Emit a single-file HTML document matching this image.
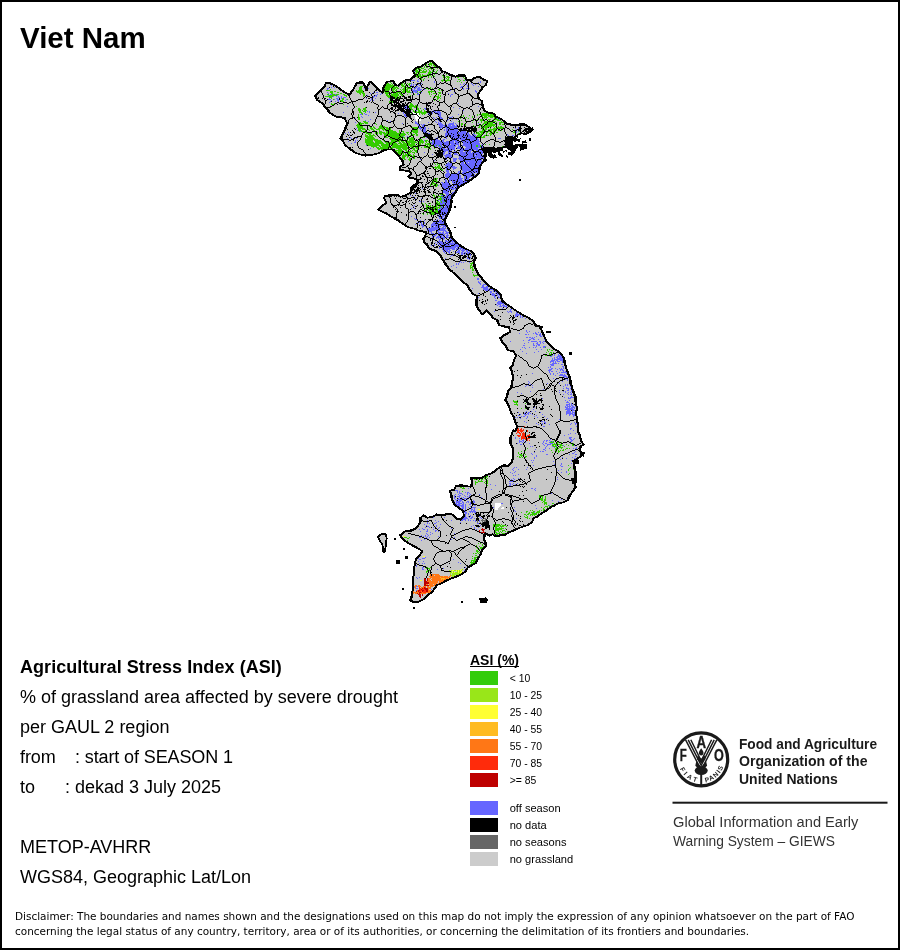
<!DOCTYPE html>
<html><head><meta charset="utf-8">
<style>
html,body{margin:0;padding:0;background:#fff;}
body{width:900px;height:950px;position:relative;overflow:hidden;font-family:"Liberation Sans",sans-serif;color:#000;}
#frame{position:absolute;left:0;top:0;width:896px;height:946px;border:2px solid #000;}
.t{position:absolute;white-space:pre;line-height:1;}
#title{left:20px;top:23.3px;font-size:30px;font-weight:bold;transform-origin:0 0;transform:scaleX(.983);}
.l{font-size:18px;left:20px;}
.sw{position:absolute;left:470px;width:28px;height:14px;}
.lb{position:absolute;left:509.7px;font-size:10.4px;line-height:1;white-space:pre;margin-top:0.2px}
.lb2{font-size:11.1px;margin-top:-0.6px}
.fa{font-size:14.4px;font-weight:bold;color:#1a1a1a;transform-origin:0 0;}
.gi{font-size:14px;color:#333;transform-origin:0 0;}
#disc{position:absolute;left:15px;top:909px;font-size:10.48px;line-height:14.5px;white-space:pre;font-family:"DejaVu Sans","Liberation Sans",sans-serif;}
</style></head><body>
<div id="frame"></div>
<svg id="map" width="900" height="950" viewBox="0 0 900 950" style="position:absolute;left:0;top:0" shape-rendering="crispEdges">
<path d="M315.8,95.8 320.8,90 325,85 326.7,82.5 330.8,83.3 335.8,85.8 340.8,89.2 345,92.5 349.2,94.2 353.3,89.2 357.5,82.5 362.5,82 364.2,85.8 366.7,90 368.3,84.2 370.8,81.7 374.2,85 378.3,89.2 382.5,92.5 384.2,85.8 387.5,81.7 392.5,80.8 395,84.2 398.3,85.8 401.7,82.5 405.8,80 410.8,79.2 415,75 413.3,70.8 416.7,67.5 422.5,65.8 426.7,62.5 431.7,60.3 435.8,64.2 439.2,67.5 441.7,70.8 446.7,72.5 451.7,75 455.8,76.7 459.2,75 464.2,75 466.7,79.2 470.8,80 475,77.5 479.2,76.7 483.3,79.2 486.7,80.8 485.8,85 482.5,87.5 480.8,90.8 477.5,94.2 478.3,98.3 481.7,100.8 482.5,106.7 484.2,110.8 488.3,112.5 493.3,113.3 495.8,116.7 500,118.3 503.3,120.8 506.7,123.3 510.8,124.2 515,125 520,124.2 525,124.2 528.3,126.7 532,129.7 529.2,132.5 525.8,134.2 521.7,133.3 517.5,135 515,136.7 510.8,140.8 505.8,146.7 500,148.3 495,150 490,150 485.8,150 484.2,156.7 485,160 481.7,163.3 479.2,167.5 478.3,173.3 475,176.7 470,180 465.8,183.3 461.7,185.8 457.5,188.3 455,192.5 452.5,196.7 450.8,200 451.7,200 450,205.8 449.2,210 446.7,215 444.2,220.8 445,224.2 448.3,228.3 450,233.3 451.7,237.5 455.8,241.7 460,245.8 465,248.3 470,250.8 473.3,253.3 475,258.3 473.3,261.7 474.2,266.7 476.7,271.7 479.2,275.8 483.3,280 487.5,284.2 491.7,287.5 496.7,290 500,294.2 501.7,300 505.8,303.3 511.7,307.5 517.5,311.7 523.3,315 528.3,317.5 532.5,320.8 535.8,325 539.2,326.7 541.7,330.8 543.3,335 545.8,340 549.2,344.2 553.3,348.3 557.5,350.8 560.8,353.3 563.3,357.5 564.2,362.5 565.8,367.5 567.5,372.5 569.2,377.5 570,382.5 571.7,387.5 573.3,392.5 575,397.5 575.8,402.5 576.7,408.3 575.8,413.3 576.7,418.3 577.5,424.2 577.5,430 579.2,435 580.8,440 583.3,444.2 580,446.7 579.2,450.8 583.3,453.3 580,456.7 575,460 573.3,463.3 574.2,468.3 575,473.3 575,478.3 574.2,483.3 575,487.5 572.5,491.7 569.2,495 567.5,500 563.3,502.5 558.3,503.3 554.2,505.8 550,507.5 546.7,510.8 541.7,513.3 537.5,516.7 533.3,518.3 531.7,522.5 527.5,525 523.3,526.7 518.3,528.3 513.3,530.8 508.3,532.5 504.2,535 499.2,535.8 495,536.7 492.5,534.2 489.2,535.8 485,533.3 483.3,538.3 485,543.3 485.8,546.7 481.7,550 480.8,554.2 477.5,558.3 475,563.3 471.7,565.8 467.5,567.5 465,571.7 461.7,574.2 456.7,576.7 451.7,578.3 446.7,580.8 441.7,583.3 436.7,585 434.2,588.3 431.7,592.5 427.5,595.8 423.3,599.2 419.2,601.7 414.2,602.5 410,600.8 411.7,597.5 412.5,593.3 413,588.3 413.3,583.3 413.3,578.3 414.2,573.3 414.2,568.3 415,563.3 416.7,558.3 419.2,555 422.5,551.7 419.2,549.2 414.2,546.7 410,544.2 405.8,541.7 402.5,538.3 400,535 403.3,532.5 406.7,530.8 411.7,530 415.8,528.3 418.3,525.8 420.8,521.7 420.8,517.5 423.3,515 427.5,517.5 432.5,516.7 436.7,514.2 441.7,515 445.8,514.2 450,513.3 453.3,515 456.7,518.3 460.8,519.2 464.2,515.8 463.3,511.7 459.2,508.3 455,505 452.5,500.8 451.7,495 450,490.8 454.2,489.2 456.7,485.8 460.8,485 465,485.8 470,486.7 472.5,483.3 471.7,477.5 476.7,478.3 482.5,477.5 485.8,475 490.8,473.3 495.8,470 500,466.7 504.2,465 508.3,465.8 512.5,461.7 513.3,455 513.3,448.3 510.8,443.3 510.8,438.3 513.3,430 515.8,430.8 517.5,426.7 515.8,422.5 514.2,417.5 511.7,413.3 510,409.2 508.3,404.2 505.8,400 507.5,395.8 508.3,390.8 511.7,387.5 512.5,382.5 513.3,377.5 512.5,372.5 510.8,367.5 513.3,364.2 514.2,359.2 516.7,355.8 513.3,351.7 508.3,350 505.8,345.8 502.5,342.5 500.8,337.5 505,334.2 510,331.7 509.2,327.5 504.2,326.7 499.2,325 497.5,320 493.3,318.3 490.8,314.2 486.7,310.8 482.5,314.2 479.2,310 476.7,305 476.7,300 477.5,296.7 473.3,294.2 470,290 467.5,285 463.3,282.5 459.2,278.3 455,274.2 450,270 446.7,265 443.3,260 440,255 436.7,251.7 429.4,248.9 427.2,245.6 424.4,242.2 423.9,238.9 425.6,236.1 426.1,232.8 422.8,231.7 417.2,230 412.8,228.3 408.3,227.2 403.9,224.4 399.4,221.7 395,218.9 390.6,216.1 386.1,213.3 381.7,211.7 378.9,209.4 382.8,205.6 386.1,202.2 384.4,198.9 385,195.6 391.7,195 397.2,194.4 400.6,196.7 405,195.6 408.3,193.9 411.7,191.1 411.7,187.2 413.9,185 417.8,183.3 417.8,180.6 413.9,178.3 409.4,177.8 408.3,176.1 411.7,173.9 409.4,171.1 403.9,170.6 400,170 400,166.7 403.9,164.4 402.8,160 397.2,154.4 393.9,150 388.3,149.2 383.3,150.8 378.3,153.3 371.7,155 365,155.8 359.2,154.2 354.2,152.5 350,149.2 345.8,145.8 343.3,141.7 340,138.3 343.3,133.3 345.8,128.3 347.5,123.3 345,118.3 341.7,117.5 335.8,116.7 330.8,113.3 326.7,108.3 322.5,103.3 317.5,100Z" fill="#c8c8c8" stroke="none"/>
<path d="M414 71h1v1h-1zM418 79h1v1h-1zM411 80h4v1h-4zM417 80h1v1h-1zM465 80h1v1h-1zM417 81h2v1h-2zM434 81h1v1h-1zM480 81h1v1h-1zM434 82h1v1h-1zM478 82h1v1h-1zM480 82h1v1h-1zM411 83h1v1h-1zM421 83h1v1h-1zM464 83h1v1h-1zM471 83h1v1h-1zM411 84h1v1h-1zM413 84h1v1h-1zM415 84h1v1h-1zM418 84h1v1h-1zM460 84h1v1h-1zM463 84h1v1h-1zM466 84h1v1h-1zM472 84h1v1h-1zM475 84h1v1h-1zM331 85h1v1h-1zM333 85h1v1h-1zM335 85h1v1h-1zM410 85h2v1h-2zM413 85h1v1h-1zM419 85h2v1h-2zM467 85h1v1h-1zM473 85h1v1h-1zM416 86h2v1h-2zM461 86h2v1h-2zM467 86h1v1h-1zM478 86h1v1h-1zM331 87h1v1h-1zM334 87h1v1h-1zM413 87h1v1h-1zM415 87h2v1h-2zM418 87h2v1h-2zM421 87h1v1h-1zM460 87h2v1h-2zM327 88h2v1h-2zM364 88h1v1h-1zM368 88h1v1h-1zM414 88h2v1h-2zM417 88h3v1h-3zM454 88h1v1h-1zM463 88h1v1h-1zM466 88h2v1h-2zM469 88h1v1h-1zM327 89h1v1h-1zM412 89h1v1h-1zM414 89h1v1h-1zM417 89h5v1h-5zM424 89h1v1h-1zM463 89h1v1h-1zM412 90h9v1h-9zM450 90h1v1h-1zM475 90h1v1h-1zM413 91h4v1h-4zM475 91h2v1h-2zM319 92h1v1h-1zM327 92h1v1h-1zM373 92h1v1h-1zM376 92h2v1h-2zM411 92h1v1h-1zM413 92h1v1h-1zM415 92h3v1h-3zM421 92h1v1h-1zM454 92h1v1h-1zM476 92h1v1h-1zM328 93h1v1h-1zM345 93h1v1h-1zM370 93h1v1h-1zM381 93h1v1h-1zM418 93h1v1h-1zM448 93h1v1h-1zM330 94h2v1h-2zM335 94h1v1h-1zM377 94h1v1h-1zM380 94h1v1h-1zM417 94h2v1h-2zM451 94h2v1h-2zM328 95h1v1h-1zM337 95h1v1h-1zM367 95h1v1h-1zM375 95h2v1h-2zM450 95h1v1h-1zM333 96h1v1h-1zM336 96h1v1h-1zM338 96h1v1h-1zM341 96h1v1h-1zM373 96h2v1h-2zM376 96h1v1h-1zM450 96h1v1h-1zM338 97h2v1h-2zM341 97h1v1h-1zM343 97h3v1h-3zM373 97h1v1h-1zM329 98h1v1h-1zM336 98h2v1h-2zM341 98h1v1h-1zM366 98h1v1h-1zM371 98h1v1h-1zM375 98h1v1h-1zM389 98h1v1h-1zM328 99h3v1h-3zM334 99h1v1h-1zM337 99h2v1h-2zM346 99h1v1h-1zM371 99h1v1h-1zM331 100h1v1h-1zM337 100h2v1h-2zM345 100h1v1h-1zM370 100h1v1h-1zM373 100h1v1h-1zM330 101h1v1h-1zM335 101h1v1h-1zM338 101h1v1h-1zM329 102h1v1h-1zM458 103h1v1h-1zM347 106h1v1h-1zM405 106h2v1h-2zM478 106h1v1h-1zM404 107h1v1h-1zM406 107h1v1h-1zM453 107h1v1h-1zM405 108h2v1h-2zM408 108h1v1h-1zM424 108h2v1h-2zM459 108h1v1h-1zM425 109h1v1h-1zM416 110h1v1h-1zM433 110h1v1h-1zM463 110h1v1h-1zM367 111h1v1h-1zM369 111h1v1h-1zM431 111h1v1h-1zM434 111h2v1h-2zM437 111h3v1h-3zM343 112h1v1h-1zM369 112h1v1h-1zM375 112h1v1h-1zM403 112h1v1h-1zM432 112h1v1h-1zM435 112h6v1h-6zM364 113h1v1h-1zM398 113h1v1h-1zM403 113h1v1h-1zM428 113h1v1h-1zM432 113h1v1h-1zM438 113h3v1h-3zM360 114h2v1h-2zM365 114h2v1h-2zM404 114h2v1h-2zM429 114h1v1h-1zM437 114h1v1h-1zM439 114h2v1h-2zM458 114h1v1h-1zM368 115h1v1h-1zM404 115h2v1h-2zM438 115h3v1h-3zM361 116h1v1h-1zM405 116h2v1h-2zM439 116h2v1h-2zM452 116h1v1h-1zM362 117h1v1h-1zM433 117h1v1h-1zM436 117h1v1h-1zM440 117h2v1h-2zM449 117h3v1h-3zM355 118h1v1h-1zM434 118h1v1h-1zM440 118h3v1h-3zM497 118h1v1h-1zM370 119h1v1h-1zM437 119h1v1h-1zM448 119h1v1h-1zM452 119h1v1h-1zM456 119h1v1h-1zM499 119h1v1h-1zM365 120h1v1h-1zM387 120h1v1h-1zM438 120h1v1h-1zM447 120h1v1h-1zM368 121h1v1h-1zM390 121h1v1h-1zM415 121h1v1h-1zM435 121h1v1h-1zM439 121h1v1h-1zM451 121h1v1h-1zM355 122h1v1h-1zM415 122h2v1h-2zM428 122h1v1h-1zM436 122h1v1h-1zM438 122h1v1h-1zM440 122h1v1h-1zM453 122h1v1h-1zM402 123h1v1h-1zM415 123h3v1h-3zM438 123h4v1h-4zM449 123h5v1h-5zM455 123h1v1h-1zM478 123h1v1h-1zM417 124h2v1h-2zM421 124h1v1h-1zM423 124h2v1h-2zM438 124h5v1h-5zM446 124h1v1h-1zM448 124h6v1h-6zM456 124h1v1h-1zM418 125h1v1h-1zM422 125h2v1h-2zM439 125h6v1h-6zM448 125h3v1h-3zM452 125h3v1h-3zM456 125h1v1h-1zM419 126h1v1h-1zM422 126h2v1h-2zM439 126h4v1h-4zM444 126h1v1h-1zM447 126h10v1h-10zM419 127h2v1h-2zM424 127h2v1h-2zM440 127h3v1h-3zM445 127h2v1h-2zM449 127h8v1h-8zM518 127h1v1h-1zM356 128h1v1h-1zM419 128h4v1h-4zM424 128h2v1h-2zM428 128h1v1h-1zM440 128h1v1h-1zM446 128h3v1h-3zM450 128h4v1h-4zM515 128h1v1h-1zM518 128h1v1h-1zM420 129h1v1h-1zM423 129h3v1h-3zM444 129h1v1h-1zM446 129h2v1h-2zM449 129h1v1h-1zM454 129h4v1h-4zM462 129h1v1h-1zM516 129h1v1h-1zM357 130h1v1h-1zM421 130h1v1h-1zM423 130h3v1h-3zM444 130h1v1h-1zM446 130h2v1h-2zM449 130h9v1h-9zM360 131h1v1h-1zM423 131h3v1h-3zM446 131h1v1h-1zM448 131h10v1h-10zM461 131h5v1h-5zM516 131h1v1h-1zM518 131h1v1h-1zM348 132h1v1h-1zM424 132h1v1h-1zM426 132h1v1h-1zM446 132h1v1h-1zM448 132h9v1h-9zM458 132h9v1h-9zM468 132h1v1h-1zM516 132h1v1h-1zM345 133h1v1h-1zM428 133h2v1h-2zM445 133h3v1h-3zM449 133h2v1h-2zM452 133h5v1h-5zM458 133h8v1h-8zM467 133h2v1h-2zM473 133h1v1h-1zM349 134h1v1h-1zM445 134h3v1h-3zM449 134h4v1h-4zM454 134h4v1h-4zM459 134h4v1h-4zM464 134h2v1h-2zM467 134h3v1h-3zM473 134h2v1h-2zM507 134h1v1h-1zM445 135h2v1h-2zM448 135h1v1h-1zM451 135h6v1h-6zM460 135h3v1h-3zM464 135h1v1h-1zM466 135h1v1h-1zM468 135h3v1h-3zM472 135h1v1h-1zM474 135h2v1h-2zM508 135h1v1h-1zM512 135h2v1h-2zM403 136h1v1h-1zM407 136h1v1h-1zM445 136h1v1h-1zM451 136h2v1h-2zM454 136h4v1h-4zM459 136h3v1h-3zM463 136h4v1h-4zM468 136h6v1h-6zM475 136h1v1h-1zM350 137h1v1h-1zM426 137h1v1h-1zM437 137h1v1h-1zM446 137h1v1h-1zM451 137h1v1h-1zM453 137h5v1h-5zM459 137h4v1h-4zM465 137h1v1h-1zM467 137h8v1h-8zM347 138h1v1h-1zM351 138h1v1h-1zM356 138h1v1h-1zM435 138h1v1h-1zM446 138h1v1h-1zM453 138h1v1h-1zM455 138h1v1h-1zM458 138h2v1h-2zM461 138h5v1h-5zM467 138h9v1h-9zM477 138h1v1h-1zM498 138h3v1h-3zM436 139h2v1h-2zM443 139h2v1h-2zM451 139h1v1h-1zM457 139h2v1h-2zM460 139h5v1h-5zM470 139h6v1h-6zM477 139h2v1h-2zM355 140h1v1h-1zM357 140h1v1h-1zM424 140h1v1h-1zM432 140h2v1h-2zM435 140h5v1h-5zM442 140h2v1h-2zM452 140h5v1h-5zM461 140h1v1h-1zM465 140h4v1h-4zM470 140h4v1h-4zM476 140h3v1h-3zM348 141h1v1h-1zM355 141h1v1h-1zM432 141h2v1h-2zM435 141h6v1h-6zM442 141h2v1h-2zM446 141h3v1h-3zM450 141h4v1h-4zM455 141h4v1h-4zM462 141h3v1h-3zM466 141h4v1h-4zM471 141h1v1h-1zM474 141h6v1h-6zM354 142h2v1h-2zM430 142h1v1h-1zM432 142h2v1h-2zM435 142h7v1h-7zM443 142h6v1h-6zM450 142h4v1h-4zM455 142h3v1h-3zM459 142h1v1h-1zM463 142h4v1h-4zM468 142h2v1h-2zM472 142h7v1h-7zM351 143h1v1h-1zM431 143h3v1h-3zM435 143h8v1h-8zM444 143h5v1h-5zM450 143h5v1h-5zM456 143h3v1h-3zM463 143h7v1h-7zM471 143h9v1h-9zM432 144h1v1h-1zM434 144h8v1h-8zM444 144h5v1h-5zM451 144h8v1h-8zM463 144h8v1h-8zM472 144h8v1h-8zM482 144h1v1h-1zM366 145h1v1h-1zM434 145h2v1h-2zM437 145h2v1h-2zM440 145h2v1h-2zM446 145h2v1h-2zM449 145h5v1h-5zM455 145h1v1h-1zM458 145h1v1h-1zM462 145h9v1h-9zM472 145h4v1h-4zM478 145h2v1h-2zM481 145h1v1h-1zM435 146h2v1h-2zM438 146h2v1h-2zM441 146h2v1h-2zM445 146h1v1h-1zM448 146h8v1h-8zM458 146h2v1h-2zM465 146h6v1h-6zM472 146h4v1h-4zM478 146h2v1h-2zM482 146h1v1h-1zM504 146h1v1h-1zM439 147h3v1h-3zM446 147h1v1h-1zM448 147h7v1h-7zM457 147h4v1h-4zM466 147h5v1h-5zM472 147h9v1h-9zM482 147h1v1h-1zM370 148h1v1h-1zM440 148h1v1h-1zM442 148h3v1h-3zM447 148h1v1h-1zM449 148h6v1h-6zM457 148h4v1h-4zM462 148h1v1h-1zM465 148h6v1h-6zM472 148h6v1h-6zM440 149h1v1h-1zM443 149h5v1h-5zM449 149h2v1h-2zM452 149h3v1h-3zM461 149h2v1h-2zM464 149h5v1h-5zM471 149h1v1h-1zM473 149h6v1h-6zM443 150h6v1h-6zM450 150h2v1h-2zM460 150h4v1h-4zM469 150h3v1h-3zM476 150h2v1h-2zM479 150h3v1h-3zM444 151h2v1h-2zM448 151h1v1h-1zM454 151h2v1h-2zM459 151h4v1h-4zM465 151h2v1h-2zM468 151h3v1h-3zM479 151h4v1h-4zM424 152h1v1h-1zM443 152h2v1h-2zM448 152h4v1h-4zM460 152h6v1h-6zM467 152h4v1h-4zM472 152h2v1h-2zM476 152h3v1h-3zM481 152h2v1h-2zM443 153h2v1h-2zM448 153h1v1h-1zM450 153h1v1h-1zM454 153h3v1h-3zM460 153h6v1h-6zM467 153h6v1h-6zM474 153h6v1h-6zM481 153h2v1h-2zM432 154h1v1h-1zM443 154h1v1h-1zM446 154h5v1h-5zM454 154h4v1h-4zM460 154h7v1h-7zM468 154h5v1h-5zM474 154h2v1h-2zM477 154h4v1h-4zM444 155h8v1h-8zM458 155h1v1h-1zM461 155h5v1h-5zM467 155h6v1h-6zM474 155h1v1h-1zM476 155h5v1h-5zM482 155h1v1h-1zM445 156h7v1h-7zM459 156h2v1h-2zM463 156h1v1h-1zM466 156h7v1h-7zM474 156h8v1h-8zM445 157h2v1h-2zM449 157h2v1h-2zM452 157h1v1h-1zM459 157h4v1h-4zM464 157h10v1h-10zM475 157h9v1h-9zM453 158h4v1h-4zM458 158h5v1h-5zM464 158h1v1h-1zM466 158h5v1h-5zM475 158h2v1h-2zM478 158h3v1h-3zM483 158h1v1h-1zM420 159h1v1h-1zM446 159h1v1h-1zM453 159h4v1h-4zM459 159h5v1h-5zM471 159h4v1h-4zM476 159h1v1h-1zM481 159h1v1h-1zM434 160h1v1h-1zM453 160h3v1h-3zM460 160h3v1h-3zM465 160h10v1h-10zM476 160h1v1h-1zM478 160h4v1h-4zM451 161h1v1h-1zM453 161h3v1h-3zM463 161h1v1h-1zM465 161h11v1h-11zM477 161h6v1h-6zM448 162h1v1h-1zM461 162h3v1h-3zM466 162h2v1h-2zM469 162h7v1h-7zM477 162h5v1h-5zM447 163h5v1h-5zM461 163h3v1h-3zM466 163h9v1h-9zM476 163h5v1h-5zM446 164h6v1h-6zM460 164h6v1h-6zM467 164h8v1h-8zM476 164h5v1h-5zM445 165h7v1h-7zM461 165h6v1h-6zM468 165h7v1h-7zM477 165h4v1h-4zM446 166h1v1h-1zM448 166h3v1h-3zM452 166h3v1h-3zM460 166h1v1h-1zM462 166h6v1h-6zM469 166h5v1h-5zM475 166h5v1h-5zM447 167h3v1h-3zM451 167h6v1h-6zM460 167h1v1h-1zM462 167h7v1h-7zM470 167h4v1h-4zM475 167h5v1h-5zM446 168h1v1h-1zM448 168h2v1h-2zM453 168h3v1h-3zM460 168h1v1h-1zM462 168h8v1h-8zM471 168h2v1h-2zM446 169h1v1h-1zM453 169h1v1h-1zM462 169h9v1h-9zM474 169h6v1h-6zM446 170h3v1h-3zM462 170h9v1h-9zM473 170h6v1h-6zM446 171h3v1h-3zM458 171h2v1h-2zM463 171h4v1h-4zM468 171h1v1h-1zM471 171h2v1h-2zM474 171h2v1h-2zM477 171h2v1h-2zM447 172h2v1h-2zM458 172h2v1h-2zM462 172h4v1h-4zM469 172h2v1h-2zM472 172h2v1h-2zM475 172h4v1h-4zM446 173h4v1h-4zM457 173h2v1h-2zM462 173h2v1h-2zM466 173h6v1h-6zM473 173h1v1h-1zM445 174h5v1h-5zM451 174h6v1h-6zM459 174h1v1h-1zM464 174h8v1h-8zM474 174h1v1h-1zM445 175h5v1h-5zM451 175h7v1h-7zM459 175h2v1h-2zM466 175h5v1h-5zM474 175h1v1h-1zM445 176h4v1h-4zM450 176h8v1h-8zM459 176h2v1h-2zM464 176h2v1h-2zM467 176h6v1h-6zM446 177h2v1h-2zM449 177h9v1h-9zM459 177h2v1h-2zM464 177h2v1h-2zM467 177h3v1h-3zM449 178h9v1h-9zM459 178h4v1h-4zM464 178h2v1h-2zM467 178h2v1h-2zM445 179h1v1h-1zM449 179h8v1h-8zM458 179h4v1h-4zM464 179h1v1h-1zM466 179h3v1h-3zM445 180h2v1h-2zM449 180h2v1h-2zM452 180h1v1h-1zM455 180h2v1h-2zM458 180h5v1h-5zM464 180h1v1h-1zM468 180h1v1h-1zM445 181h2v1h-2zM449 181h1v1h-1zM452 181h4v1h-4zM458 181h5v1h-5zM464 181h4v1h-4zM441 182h2v1h-2zM445 182h3v1h-3zM452 182h2v1h-2zM455 182h1v1h-1zM457 182h2v1h-2zM460 182h5v1h-5zM442 183h7v1h-7zM453 183h3v1h-3zM457 183h1v1h-1zM459 183h6v1h-6zM442 184h7v1h-7zM450 184h1v1h-1zM458 184h6v1h-6zM438 185h1v1h-1zM442 185h8v1h-8zM454 185h3v1h-3zM459 185h3v1h-3zM442 186h6v1h-6zM451 186h4v1h-4zM456 186h1v1h-1zM460 186h1v1h-1zM443 187h5v1h-5zM449 187h3v1h-3zM453 187h1v1h-1zM456 187h2v1h-2zM422 188h1v1h-1zM444 188h2v1h-2zM448 188h1v1h-1zM450 188h8v1h-8zM446 189h3v1h-3zM452 189h2v1h-2zM455 189h2v1h-2zM443 190h3v1h-3zM447 190h3v1h-3zM456 190h1v1h-1zM443 191h5v1h-5zM454 191h2v1h-2zM443 192h6v1h-6zM452 192h4v1h-4zM415 193h1v1h-1zM445 193h4v1h-4zM452 193h3v1h-3zM446 194h3v1h-3zM451 194h1v1h-1zM453 194h1v1h-1zM410 195h1v1h-1zM441 195h2v1h-2zM446 195h2v1h-2zM449 195h2v1h-2zM413 196h1v1h-1zM444 196h3v1h-3zM448 196h3v1h-3zM452 196h1v1h-1zM441 197h3v1h-3zM446 197h1v1h-1zM448 197h4v1h-4zM415 198h1v1h-1zM421 198h1v1h-1zM442 198h1v1h-1zM444 198h2v1h-2zM447 198h5v1h-5zM442 199h2v1h-2zM445 199h1v1h-1zM447 199h1v1h-1zM449 199h2v1h-2zM438 200h1v1h-1zM441 200h3v1h-3zM447 200h5v1h-5zM419 201h2v1h-2zM423 201h1v1h-1zM440 201h1v1h-1zM442 201h2v1h-2zM447 201h5v1h-5zM440 202h1v1h-1zM442 202h4v1h-4zM447 202h4v1h-4zM440 203h5v1h-5zM446 203h4v1h-4zM440 204h3v1h-3zM444 204h1v1h-1zM446 204h5v1h-5zM414 205h1v1h-1zM445 205h1v1h-1zM447 205h4v1h-4zM413 206h1v1h-1zM441 206h2v1h-2zM445 206h2v1h-2zM448 206h3v1h-3zM440 207h1v1h-1zM442 207h1v1h-1zM444 207h3v1h-3zM448 207h3v1h-3zM411 208h1v1h-1zM414 208h1v1h-1zM440 208h2v1h-2zM443 208h5v1h-5zM449 208h1v1h-1zM438 209h3v1h-3zM442 209h6v1h-6zM438 210h1v1h-1zM441 210h9v1h-9zM441 211h7v1h-7zM441 212h1v1h-1zM443 212h1v1h-1zM445 212h2v1h-2zM440 213h2v1h-2zM443 213h1v1h-1zM446 213h2v1h-2zM437 214h1v1h-1zM441 214h1v1h-1zM444 214h4v1h-4zM439 215h1v1h-1zM442 215h3v1h-3zM411 216h1v1h-1zM438 216h1v1h-1zM442 216h2v1h-2zM445 216h2v1h-2zM439 217h2v1h-2zM442 217h1v1h-1zM444 217h1v1h-1zM414 218h1v1h-1zM439 218h2v1h-2zM442 218h2v1h-2zM415 219h2v1h-2zM437 219h1v1h-1zM420 220h1v1h-1zM424 220h1v1h-1zM434 220h1v1h-1zM436 220h1v1h-1zM439 220h3v1h-3zM444 220h1v1h-1zM439 221h3v1h-3zM443 221h2v1h-2zM417 222h1v1h-1zM419 222h1v1h-1zM421 222h1v1h-1zM424 222h1v1h-1zM433 222h3v1h-3zM437 222h8v1h-8zM421 223h1v1h-1zM424 223h1v1h-1zM432 223h3v1h-3zM438 223h1v1h-1zM440 223h4v1h-4zM415 224h1v1h-1zM419 224h1v1h-1zM421 224h2v1h-2zM431 224h7v1h-7zM421 225h3v1h-3zM431 225h5v1h-5zM437 225h1v1h-1zM439 225h1v1h-1zM441 225h4v1h-4zM446 225h1v1h-1zM422 226h2v1h-2zM425 226h1v1h-1zM431 226h1v1h-1zM433 226h1v1h-1zM435 226h3v1h-3zM439 226h2v1h-2zM443 226h4v1h-4zM422 227h1v1h-1zM431 227h7v1h-7zM439 227h1v1h-1zM442 227h2v1h-2zM445 227h1v1h-1zM447 227h1v1h-1zM426 228h1v1h-1zM428 228h11v1h-11zM440 228h6v1h-6zM428 229h10v1h-10zM440 229h5v1h-5zM447 229h2v1h-2zM427 230h1v1h-1zM429 230h6v1h-6zM438 230h8v1h-8zM425 231h1v1h-1zM429 231h3v1h-3zM437 231h2v1h-2zM443 231h1v1h-1zM445 231h2v1h-2zM449 231h1v1h-1zM431 232h1v1h-1zM438 232h3v1h-3zM442 232h2v1h-2zM446 232h4v1h-4zM429 233h1v1h-1zM431 233h3v1h-3zM438 233h6v1h-6zM445 233h3v1h-3zM449 233h1v1h-1zM426 234h1v1h-1zM435 234h2v1h-2zM443 234h2v1h-2zM447 234h1v1h-1zM433 235h3v1h-3zM438 235h1v1h-1zM440 235h3v1h-3zM444 235h1v1h-1zM446 235h3v1h-3zM450 235h1v1h-1zM432 236h1v1h-1zM434 236h1v1h-1zM437 236h3v1h-3zM441 236h1v1h-1zM443 236h1v1h-1zM446 236h2v1h-2zM432 237h1v1h-1zM436 237h4v1h-4zM441 237h4v1h-4zM446 237h3v1h-3zM451 237h1v1h-1zM436 238h1v1h-1zM438 238h1v1h-1zM440 238h1v1h-1zM443 238h2v1h-2zM450 238h3v1h-3zM439 239h2v1h-2zM443 239h1v1h-1zM450 239h2v1h-2zM439 240h1v1h-1zM445 240h2v1h-2zM449 240h1v1h-1zM452 240h3v1h-3zM438 241h4v1h-4zM445 241h4v1h-4zM451 241h5v1h-5zM435 242h1v1h-1zM437 242h1v1h-1zM439 242h4v1h-4zM444 242h1v1h-1zM447 242h1v1h-1zM450 242h1v1h-1zM452 242h1v1h-1zM454 242h1v1h-1zM456 242h1v1h-1zM437 243h1v1h-1zM440 243h3v1h-3zM444 243h2v1h-2zM448 243h7v1h-7zM457 243h1v1h-1zM434 244h1v1h-1zM438 244h2v1h-2zM441 244h3v1h-3zM446 244h2v1h-2zM449 244h5v1h-5zM455 244h5v1h-5zM427 245h1v1h-1zM431 245h1v1h-1zM434 245h1v1h-1zM440 245h1v1h-1zM445 245h5v1h-5zM454 245h6v1h-6zM440 246h2v1h-2zM444 246h1v1h-1zM451 246h8v1h-8zM461 246h1v1h-1zM439 247h1v1h-1zM442 247h1v1h-1zM444 247h12v1h-12zM457 247h1v1h-1zM460 247h1v1h-1zM439 248h1v1h-1zM442 248h1v1h-1zM444 248h11v1h-11zM456 248h2v1h-2zM459 248h7v1h-7zM442 249h1v1h-1zM444 249h6v1h-6zM452 249h3v1h-3zM456 249h1v1h-1zM458 249h1v1h-1zM460 249h1v1h-1zM462 249h4v1h-4zM443 250h1v1h-1zM445 250h3v1h-3zM449 250h2v1h-2zM458 250h2v1h-2zM461 250h4v1h-4zM466 250h2v1h-2zM443 251h2v1h-2zM446 251h4v1h-4zM453 251h1v1h-1zM457 251h3v1h-3zM462 251h2v1h-2zM466 251h2v1h-2zM469 251h1v1h-1zM444 252h1v1h-1zM448 252h2v1h-2zM456 252h4v1h-4zM461 252h2v1h-2zM464 252h2v1h-2zM467 252h3v1h-3zM445 253h1v1h-1zM449 253h1v1h-1zM459 253h1v1h-1zM461 253h3v1h-3zM465 253h1v1h-1zM467 253h2v1h-2zM453 254h1v1h-1zM461 254h2v1h-2zM464 254h1v1h-1zM470 254h1v1h-1zM451 255h2v1h-2zM467 255h1v1h-1zM470 255h1v1h-1zM450 256h1v1h-1zM467 257h1v1h-1zM470 257h1v1h-1zM445 258h1v1h-1zM467 258h2v1h-2zM469 259h1v1h-1zM460 261h1v1h-1zM465 261h1v1h-1zM459 262h1v1h-1zM461 262h1v1h-1zM463 262h1v1h-1zM469 262h1v1h-1zM456 263h1v1h-1zM458 263h1v1h-1zM456 264h1v1h-1zM458 264h1v1h-1zM453 265h1v1h-1zM451 266h1v1h-1zM456 267h1v1h-1zM463 269h1v1h-1zM477 278h2v1h-2zM477 279h2v1h-2zM478 281h1v1h-1zM480 281h1v1h-1zM478 282h2v1h-2zM479 283h2v1h-2zM480 284h1v1h-1zM483 284h3v1h-3zM487 284h1v1h-1zM482 285h2v1h-2zM488 285h1v1h-1zM482 286h2v1h-2zM486 286h5v1h-5zM481 287h7v1h-7zM490 287h1v1h-1zM472 288h1v1h-1zM483 288h5v1h-5zM489 288h1v1h-1zM491 288h1v1h-1zM493 288h1v1h-1zM483 289h6v1h-6zM490 289h3v1h-3zM485 290h3v1h-3zM489 290h1v1h-1zM493 290h1v1h-1zM495 290h1v1h-1zM490 291h2v1h-2zM493 291h1v1h-1zM495 291h2v1h-2zM490 292h2v1h-2zM496 292h1v1h-1zM478 293h1v1h-1zM490 293h1v1h-1zM492 293h2v1h-2zM495 293h1v1h-1zM497 293h1v1h-1zM491 294h4v1h-4zM497 294h3v1h-3zM492 295h3v1h-3zM497 295h1v1h-1zM499 295h1v1h-1zM494 296h2v1h-2zM498 296h1v1h-1zM478 297h1v1h-1zM494 297h1v1h-1zM498 297h2v1h-2zM495 298h1v1h-1zM495 300h2v1h-2zM498 301h3v1h-3zM497 302h7v1h-7zM497 303h7v1h-7zM496 304h1v1h-1zM498 304h3v1h-3zM503 304h1v1h-1zM505 304h2v1h-2zM497 305h1v1h-1zM500 305h1v1h-1zM502 305h3v1h-3zM506 305h1v1h-1zM499 306h3v1h-3zM503 306h4v1h-4zM506 307h1v1h-1zM502 308h1v1h-1zM510 309h2v1h-2zM510 310h1v1h-1zM494 311h1v1h-1zM507 311h1v1h-1zM509 311h3v1h-3zM508 312h1v1h-1zM511 312h1v1h-1zM516 312h1v1h-1zM518 312h1v1h-1zM516 313h2v1h-2zM519 313h1v1h-1zM515 314h6v1h-6zM515 315h4v1h-4zM520 315h1v1h-1zM522 315h2v1h-2zM515 316h2v1h-2zM520 316h1v1h-1zM522 316h3v1h-3zM520 317h1v1h-1zM522 317h1v1h-1zM526 317h1v1h-1zM525 318h1v1h-1zM526 330h1v1h-1zM526 331h1v1h-1zM529 331h1v1h-1zM527 332h1v1h-1zM535 332h1v1h-1zM538 332h1v1h-1zM519 333h1v1h-1zM533 333h1v1h-1zM535 333h2v1h-2zM540 333h1v1h-1zM525 334h2v1h-2zM528 334h1v1h-1zM536 334h2v1h-2zM539 334h2v1h-2zM539 335h2v1h-2zM542 335h1v1h-1zM536 336h1v1h-1zM540 336h2v1h-2zM526 337h2v1h-2zM529 337h2v1h-2zM532 337h1v1h-1zM534 337h1v1h-1zM531 338h3v1h-3zM529 339h2v1h-2zM533 339h2v1h-2zM538 339h1v1h-1zM544 339h1v1h-1zM523 340h1v1h-1zM528 340h2v1h-2zM510 341h1v1h-1zM531 341h6v1h-6zM539 341h2v1h-2zM543 341h2v1h-2zM528 342h1v1h-1zM537 342h1v1h-1zM540 342h1v1h-1zM542 342h1v1h-1zM524 343h1v1h-1zM533 343h1v1h-1zM536 343h2v1h-2zM540 343h1v1h-1zM543 343h1v1h-1zM533 344h1v1h-1zM537 344h3v1h-3zM523 345h2v1h-2zM533 345h2v1h-2zM536 345h1v1h-1zM538 345h2v1h-2zM536 346h1v1h-1zM543 346h3v1h-3zM522 347h1v1h-1zM524 347h1v1h-1zM529 347h1v1h-1zM533 347h1v1h-1zM535 347h1v1h-1zM540 347h1v1h-1zM543 347h2v1h-2zM525 348h1v1h-1zM520 349h1v1h-1zM536 349h1v1h-1zM541 349h1v1h-1zM522 351h1v1h-1zM538 351h1v1h-1zM534 352h1v1h-1zM526 353h1v1h-1zM554 354h1v1h-1zM558 354h1v1h-1zM552 355h1v1h-1zM554 355h1v1h-1zM558 355h4v1h-4zM550 356h2v1h-2zM557 356h6v1h-6zM554 357h1v1h-1zM556 357h2v1h-2zM559 357h4v1h-4zM552 358h1v1h-1zM554 358h1v1h-1zM557 358h7v1h-7zM552 359h1v1h-1zM554 359h10v1h-10zM551 360h4v1h-4zM556 360h2v1h-2zM560 360h4v1h-4zM550 361h4v1h-4zM555 361h1v1h-1zM557 361h3v1h-3zM562 361h2v1h-2zM550 362h1v1h-1zM553 362h1v1h-1zM555 362h1v1h-1zM562 362h2v1h-2zM552 363h5v1h-5zM558 363h1v1h-1zM550 364h4v1h-4zM561 364h2v1h-2zM551 365h3v1h-3zM550 366h1v1h-1zM562 366h2v1h-2zM548 367h1v1h-1zM550 367h1v1h-1zM563 367h1v1h-1zM551 368h2v1h-2zM555 368h1v1h-1zM559 368h1v1h-1zM561 368h1v1h-1zM563 368h1v1h-1zM549 369h3v1h-3zM557 369h1v1h-1zM560 369h3v1h-3zM566 369h1v1h-1zM548 370h3v1h-3zM560 370h1v1h-1zM562 370h2v1h-2zM566 370h1v1h-1zM549 371h1v1h-1zM551 371h2v1h-2zM556 371h1v1h-1zM563 371h1v1h-1zM565 371h2v1h-2zM549 372h1v1h-1zM559 372h1v1h-1zM561 372h6v1h-6zM532 373h1v1h-1zM550 373h1v1h-1zM553 373h1v1h-1zM557 373h1v1h-1zM566 373h1v1h-1zM550 374h1v1h-1zM553 374h1v1h-1zM560 374h3v1h-3zM564 374h1v1h-1zM555 375h1v1h-1zM559 375h7v1h-7zM563 376h4v1h-4zM564 377h1v1h-1zM566 377h2v1h-2zM553 378h1v1h-1zM556 379h1v1h-1zM565 379h1v1h-1zM567 379h1v1h-1zM567 380h1v1h-1zM528 381h1v1h-1zM562 381h1v1h-1zM529 382h1v1h-1zM569 382h1v1h-1zM528 383h1v1h-1zM547 383h1v1h-1zM559 383h1v1h-1zM530 384h1v1h-1zM565 384h1v1h-1zM567 384h1v1h-1zM569 384h1v1h-1zM526 385h1v1h-1zM528 385h1v1h-1zM532 385h1v1h-1zM565 385h1v1h-1zM567 385h1v1h-1zM571 385h1v1h-1zM525 386h1v1h-1zM563 386h1v1h-1zM570 386h1v1h-1zM532 387h1v1h-1zM566 387h1v1h-1zM563 388h1v1h-1zM566 388h3v1h-3zM570 388h1v1h-1zM543 389h1v1h-1zM568 389h1v1h-1zM559 390h1v1h-1zM567 390h2v1h-2zM571 390h2v1h-2zM530 391h1v1h-1zM563 391h1v1h-1zM565 391h1v1h-1zM571 391h2v1h-2zM517 392h1v1h-1zM559 392h1v1h-1zM565 392h1v1h-1zM568 392h1v1h-1zM570 392h1v1h-1zM572 392h1v1h-1zM521 393h1v1h-1zM567 393h1v1h-1zM571 393h1v1h-1zM563 394h1v1h-1zM568 394h1v1h-1zM570 394h2v1h-2zM574 395h1v1h-1zM571 396h1v1h-1zM564 397h1v1h-1zM568 397h1v1h-1zM570 397h4v1h-4zM542 398h1v1h-1zM568 398h3v1h-3zM565 400h1v1h-1zM569 400h1v1h-1zM567 401h1v1h-1zM566 402h3v1h-3zM569 403h1v1h-1zM571 403h1v1h-1zM566 404h4v1h-4zM571 404h1v1h-1zM573 404h1v1h-1zM566 405h2v1h-2zM569 405h1v1h-1zM571 405h2v1h-2zM565 406h1v1h-1zM567 406h4v1h-4zM572 406h2v1h-2zM575 406h1v1h-1zM534 407h1v1h-1zM565 407h3v1h-3zM569 407h1v1h-1zM571 407h4v1h-4zM566 408h7v1h-7zM574 408h1v1h-1zM533 409h1v1h-1zM565 409h9v1h-9zM567 410h3v1h-3zM572 410h3v1h-3zM526 411h1v1h-1zM531 411h1v1h-1zM535 411h1v1h-1zM566 411h5v1h-5zM572 411h1v1h-1zM518 412h1v1h-1zM525 412h1v1h-1zM528 412h2v1h-2zM540 412h1v1h-1zM566 412h5v1h-5zM572 412h3v1h-3zM524 413h1v1h-1zM527 413h2v1h-2zM530 413h1v1h-1zM566 413h7v1h-7zM574 413h2v1h-2zM520 414h1v1h-1zM524 414h3v1h-3zM528 414h1v1h-1zM532 414h1v1h-1zM542 414h1v1h-1zM566 414h1v1h-1zM569 414h2v1h-2zM572 414h3v1h-3zM518 415h2v1h-2zM525 415h1v1h-1zM536 415h1v1h-1zM569 415h1v1h-1zM573 415h2v1h-2zM521 416h1v1h-1zM523 416h2v1h-2zM527 416h1v1h-1zM534 416h1v1h-1zM544 416h1v1h-1zM573 416h1v1h-1zM515 417h1v1h-1zM517 417h1v1h-1zM527 417h1v1h-1zM537 417h1v1h-1zM520 418h1v1h-1zM526 418h1v1h-1zM547 418h1v1h-1zM559 419h1v1h-1zM524 421h1v1h-1zM541 421h2v1h-2zM544 421h1v1h-1zM526 422h1v1h-1zM544 422h2v1h-2zM574 422h1v1h-1zM536 423h1v1h-1zM542 423h1v1h-1zM545 423h1v1h-1zM571 423h1v1h-1zM575 423h2v1h-2zM538 424h1v1h-1zM542 424h1v1h-1zM549 424h1v1h-1zM570 424h1v1h-1zM575 424h1v1h-1zM543 426h2v1h-2zM576 426h1v1h-1zM577 427h1v1h-1zM570 428h2v1h-2zM570 429h1v1h-1zM573 430h1v1h-1zM570 433h1v1h-1zM575 433h1v1h-1zM568 434h1v1h-1zM564 435h1v1h-1zM515 437h1v1h-1zM569 437h3v1h-3zM515 438h1v1h-1zM519 438h1v1h-1zM569 438h2v1h-2zM574 438h1v1h-1zM523 439h1v1h-1zM550 439h1v1h-1zM570 439h2v1h-2zM573 439h1v1h-1zM510 440h1v1h-1zM519 440h1v1h-1zM522 440h2v1h-2zM544 440h1v1h-1zM546 440h2v1h-2zM549 440h1v1h-1zM571 440h2v1h-2zM519 441h3v1h-3zM523 441h1v1h-1zM543 441h1v1h-1zM546 441h1v1h-1zM550 441h1v1h-1zM552 441h1v1h-1zM570 441h2v1h-2zM519 442h1v1h-1zM522 442h1v1h-1zM525 442h1v1h-1zM543 442h1v1h-1zM549 442h1v1h-1zM517 443h1v1h-1zM529 443h1v1h-1zM542 443h1v1h-1zM545 443h2v1h-2zM550 443h3v1h-3zM520 444h2v1h-2zM543 444h1v1h-1zM547 444h4v1h-4zM544 445h1v1h-1zM547 445h1v1h-1zM556 445h1v1h-1zM563 445h1v1h-1zM574 445h1v1h-1zM530 446h1v1h-1zM532 446h1v1h-1zM546 446h1v1h-1zM552 446h1v1h-1zM545 447h1v1h-1zM554 447h1v1h-1zM576 447h1v1h-1zM545 448h1v1h-1zM549 448h1v1h-1zM573 448h1v1h-1zM575 448h2v1h-2zM535 449h1v1h-1zM543 449h2v1h-2zM545 450h1v1h-1zM540 451h1v1h-1zM542 451h2v1h-2zM575 451h1v1h-1zM534 452h1v1h-1zM574 452h1v1h-1zM531 453h1v1h-1zM572 453h2v1h-2zM532 454h1v1h-1zM546 454h2v1h-2zM569 454h1v1h-1zM575 454h2v1h-2zM536 455h1v1h-1zM536 456h1v1h-1zM575 456h1v1h-1zM534 457h1v1h-1zM562 457h1v1h-1zM572 457h1v1h-1zM534 458h1v1h-1zM566 458h1v1h-1zM574 458h2v1h-2zM560 459h1v1h-1zM576 459h1v1h-1zM531 460h1v1h-1zM533 460h1v1h-1zM571 460h1v1h-1zM553 461h1v1h-1zM532 462h1v1h-1zM561 463h1v1h-1zM571 463h1v1h-1zM554 464h1v1h-1zM561 464h1v1h-1zM533 465h1v1h-1zM560 465h1v1h-1zM561 466h2v1h-2zM514 467h1v1h-1zM516 467h1v1h-1zM527 467h1v1h-1zM513 468h1v1h-1zM512 469h1v1h-1zM518 469h1v1h-1zM526 469h1v1h-1zM561 469h1v1h-1zM513 470h1v1h-1zM558 470h1v1h-1zM515 471h1v1h-1zM566 471h1v1h-1zM510 472h1v1h-1zM514 472h1v1h-1zM561 472h1v1h-1zM566 472h1v1h-1zM512 473h1v1h-1zM518 474h1v1h-1zM513 475h1v1h-1zM515 475h1v1h-1zM557 477h1v1h-1zM513 478h1v1h-1zM518 478h1v1h-1zM511 479h1v1h-1zM514 479h1v1h-1zM557 479h1v1h-1zM513 480h1v1h-1zM509 481h4v1h-4zM509 483h2v1h-2zM513 483h1v1h-1zM517 483h1v1h-1zM490 484h1v1h-1zM510 484h1v1h-1zM512 484h1v1h-1zM515 484h1v1h-1zM495 485h1v1h-1zM509 485h2v1h-2zM468 488h1v1h-1zM531 488h2v1h-2zM535 488h1v1h-1zM491 489h1v1h-1zM534 489h1v1h-1zM455 490h3v1h-3zM535 490h1v1h-1zM457 491h1v1h-1zM459 491h1v1h-1zM457 492h1v1h-1zM459 492h1v1h-1zM465 492h1v1h-1zM467 492h2v1h-2zM459 493h3v1h-3zM467 493h1v1h-1zM469 493h1v1h-1zM551 493h1v1h-1zM455 494h1v1h-1zM458 494h1v1h-1zM462 494h1v1h-1zM467 494h1v1h-1zM470 494h1v1h-1zM479 494h1v1h-1zM452 495h1v1h-1zM454 495h1v1h-1zM459 495h2v1h-2zM464 495h1v1h-1zM469 495h1v1h-1zM454 496h1v1h-1zM457 496h3v1h-3zM465 496h1v1h-1zM467 496h1v1h-1zM469 496h1v1h-1zM454 497h2v1h-2zM459 497h1v1h-1zM461 497h1v1h-1zM463 497h1v1h-1zM468 497h1v1h-1zM481 497h1v1h-1zM454 498h1v1h-1zM458 498h1v1h-1zM462 498h1v1h-1zM464 498h3v1h-3zM455 499h1v1h-1zM457 499h5v1h-5zM464 499h1v1h-1zM467 499h1v1h-1zM561 499h1v1h-1zM456 500h1v1h-1zM459 500h3v1h-3zM473 500h1v1h-1zM552 500h1v1h-1zM454 501h1v1h-1zM456 501h5v1h-5zM462 501h1v1h-1zM467 501h2v1h-2zM473 501h2v1h-2zM558 501h1v1h-1zM456 502h4v1h-4zM462 502h2v1h-2zM466 502h1v1h-1zM468 502h1v1h-1zM470 502h1v1h-1zM473 502h2v1h-2zM455 503h2v1h-2zM458 503h4v1h-4zM463 503h1v1h-1zM470 503h1v1h-1zM501 503h2v1h-2zM456 504h4v1h-4zM462 504h2v1h-2zM465 504h1v1h-1zM469 504h2v1h-2zM457 505h7v1h-7zM465 505h1v1h-1zM474 505h2v1h-2zM535 505h1v1h-1zM549 505h1v1h-1zM457 506h3v1h-3zM461 506h3v1h-3zM465 506h1v1h-1zM470 506h1v1h-1zM458 507h2v1h-2zM462 507h2v1h-2zM465 507h1v1h-1zM468 507h1v1h-1zM472 507h4v1h-4zM493 507h1v1h-1zM514 507h1v1h-1zM459 508h5v1h-5zM465 508h1v1h-1zM471 508h1v1h-1zM474 508h1v1h-1zM536 508h1v1h-1zM460 509h2v1h-2zM465 509h1v1h-1zM471 509h2v1h-2zM474 509h1v1h-1zM464 510h1v1h-1zM471 510h1v1h-1zM473 510h2v1h-2zM514 510h1v1h-1zM465 511h1v1h-1zM469 511h7v1h-7zM515 511h1v1h-1zM463 512h4v1h-4zM470 512h1v1h-1zM472 512h1v1h-1zM474 512h2v1h-2zM534 512h1v1h-1zM465 513h2v1h-2zM468 513h1v1h-1zM436 514h1v1h-1zM464 514h2v1h-2zM468 514h1v1h-1zM475 514h1v1h-1zM464 515h2v1h-2zM470 515h1v1h-1zM463 516h3v1h-3zM468 516h1v1h-1zM470 516h1v1h-1zM472 516h1v1h-1zM479 516h1v1h-1zM433 517h1v1h-1zM444 517h1v1h-1zM455 517h1v1h-1zM462 517h5v1h-5zM469 517h1v1h-1zM471 517h2v1h-2zM480 517h1v1h-1zM461 518h7v1h-7zM470 518h2v1h-2zM474 518h1v1h-1zM481 518h1v1h-1zM516 518h1v1h-1zM533 518h1v1h-1zM460 519h6v1h-6zM468 519h1v1h-1zM427 520h1v1h-1zM435 520h1v1h-1zM451 520h1v1h-1zM461 520h2v1h-2zM465 520h1v1h-1zM468 520h1v1h-1zM470 520h1v1h-1zM473 520h1v1h-1zM475 520h1v1h-1zM479 520h1v1h-1zM438 521h1v1h-1zM475 521h1v1h-1zM479 521h1v1h-1zM427 522h1v1h-1zM436 522h1v1h-1zM460 522h1v1h-1zM427 523h1v1h-1zM429 523h1v1h-1zM434 523h2v1h-2zM477 523h2v1h-2zM424 524h1v1h-1zM440 524h1v1h-1zM426 525h1v1h-1zM436 525h1v1h-1zM473 525h1v1h-1zM480 525h1v1h-1zM427 526h2v1h-2zM436 526h1v1h-1zM471 526h1v1h-1zM425 527h1v1h-1zM429 527h1v1h-1zM433 527h1v1h-1zM439 527h1v1h-1zM474 527h1v1h-1zM478 527h1v1h-1zM422 528h1v1h-1zM438 528h1v1h-1zM451 528h1v1h-1zM474 528h1v1h-1zM419 529h1v1h-1zM423 529h2v1h-2zM427 529h1v1h-1zM433 529h1v1h-1zM476 529h1v1h-1zM427 530h1v1h-1zM435 530h2v1h-2zM420 531h1v1h-1zM426 531h2v1h-2zM435 531h1v1h-1zM438 531h1v1h-1zM430 532h1v1h-1zM426 533h1v1h-1zM432 533h1v1h-1zM454 533h1v1h-1zM427 534h1v1h-1zM430 534h1v1h-1zM421 535h1v1h-1zM425 535h1v1h-1zM428 535h1v1h-1zM423 536h1v1h-1zM425 536h1v1h-1zM427 536h1v1h-1zM438 536h1v1h-1zM419 537h2v1h-2zM426 537h1v1h-1zM429 537h1v1h-1zM454 537h1v1h-1zM427 538h1v1h-1zM424 539h1v1h-1zM451 539h1v1h-1zM421 540h1v1h-1zM485 544h1v1h-1zM418 556h1v1h-1zM417 557h1v1h-1zM425 557h1v1h-1zM417 558h2v1h-2zM422 558h3v1h-3zM419 559h2v1h-2zM453 559h1v1h-1zM477 559h1v1h-1zM418 561h1v1h-1zM423 561h1v1h-1zM458 562h1v1h-1zM419 563h1v1h-1zM422 563h1v1h-1zM424 563h1v1h-1zM460 563h1v1h-1zM416 565h1v1h-1zM416 566h1v1h-1zM422 567h2v1h-2zM465 567h1v1h-1zM422 568h1v1h-1zM443 568h1v1h-1zM422 569h2v1h-2zM437 569h1v1h-1zM464 570h1v1h-1zM416 577h1v1h-1zM419 577h1v1h-1zM417 578h1v1h-1zM416 586h2v1h-2zM414 587h1v1h-1zM413 588h1v1h-1zM416 588h2v1h-2zM434 588h1v1h-1zM431 589h1v1h-1zM416 590h1v1h-1zM412 591h1v1h-1zM431 592h1v1h-1zM419 600h1v1h-1zM414 601h1v1h-1z" fill="#6666ff"/>
<path d="M432 61h1v1h-1zM430 62h1v1h-1zM432 62h2v1h-2zM425 63h1v1h-1zM429 63h5v1h-5zM423 64h1v1h-1zM426 64h1v1h-1zM429 64h3v1h-3zM433 64h3v1h-3zM423 65h1v1h-1zM426 65h1v1h-1zM429 65h1v1h-1zM431 65h1v1h-1zM433 65h4v1h-4zM419 66h2v1h-2zM424 66h1v1h-1zM430 66h1v1h-1zM434 66h3v1h-3zM416 67h2v1h-2zM421 67h1v1h-1zM424 67h1v1h-1zM426 67h2v1h-2zM415 68h3v1h-3zM419 68h1v1h-1zM421 68h3v1h-3zM429 68h2v1h-2zM433 68h1v1h-1zM437 68h1v1h-1zM415 69h2v1h-2zM418 69h1v1h-1zM420 69h1v1h-1zM424 69h2v1h-2zM428 69h1v1h-1zM431 69h1v1h-1zM434 69h1v1h-1zM415 70h3v1h-3zM420 70h2v1h-2zM423 70h1v1h-1zM426 70h1v1h-1zM429 70h1v1h-1zM432 70h1v1h-1zM437 70h1v1h-1zM415 71h4v1h-4zM422 71h5v1h-5zM429 71h2v1h-2zM432 71h1v1h-1zM434 71h1v1h-1zM436 71h1v1h-1zM416 72h2v1h-2zM419 72h7v1h-7zM428 72h4v1h-4zM435 72h2v1h-2zM415 73h2v1h-2zM419 73h1v1h-1zM428 73h3v1h-3zM418 74h3v1h-3zM422 74h1v1h-1zM427 74h2v1h-2zM434 74h1v1h-1zM446 74h1v1h-1zM416 75h1v1h-1zM418 75h3v1h-3zM422 75h5v1h-5zM429 75h2v1h-2zM433 75h1v1h-1zM442 75h1v1h-1zM449 75h1v1h-1zM415 76h3v1h-3zM419 76h4v1h-4zM428 76h1v1h-1zM431 76h1v1h-1zM434 76h1v1h-1zM443 76h1v1h-1zM446 76h3v1h-3zM458 76h1v1h-1zM417 77h1v1h-1zM420 77h1v1h-1zM428 77h1v1h-1zM431 77h1v1h-1zM443 77h1v1h-1zM445 77h1v1h-1zM447 77h3v1h-3zM457 77h2v1h-2zM463 77h1v1h-1zM465 77h1v1h-1zM421 78h1v1h-1zM424 78h1v1h-1zM446 78h1v1h-1zM448 78h1v1h-1zM464 78h1v1h-1zM421 79h1v1h-1zM423 79h1v1h-1zM443 79h1v1h-1zM447 79h2v1h-2zM458 79h2v1h-2zM408 80h1v1h-1zM423 80h1v1h-1zM441 80h3v1h-3zM445 80h5v1h-5zM460 80h1v1h-1zM463 80h2v1h-2zM442 81h1v1h-1zM446 81h1v1h-1zM457 81h1v1h-1zM459 81h1v1h-1zM390 82h1v1h-1zM402 82h2v1h-2zM461 82h1v1h-1zM386 83h3v1h-3zM391 83h1v1h-1zM402 83h1v1h-1zM404 83h1v1h-1zM407 83h1v1h-1zM409 83h2v1h-2zM385 84h6v1h-6zM392 84h1v1h-1zM395 84h1v1h-1zM399 84h1v1h-1zM401 84h2v1h-2zM404 84h1v1h-1zM408 84h2v1h-2zM385 85h9v1h-9zM396 85h4v1h-4zM401 85h3v1h-3zM405 85h1v1h-1zM409 85h1v1h-1zM360 86h3v1h-3zM385 86h8v1h-8zM394 86h1v1h-1zM396 86h1v1h-1zM398 86h1v1h-1zM402 86h3v1h-3zM359 87h3v1h-3zM385 87h7v1h-7zM393 87h5v1h-5zM401 87h1v1h-1zM404 87h1v1h-1zM406 87h2v1h-2zM410 87h1v1h-1zM430 87h1v1h-1zM359 88h3v1h-3zM384 88h6v1h-6zM392 88h4v1h-4zM397 88h2v1h-2zM403 88h2v1h-2zM407 88h4v1h-4zM426 88h2v1h-2zM430 88h1v1h-1zM432 88h1v1h-1zM330 89h1v1h-1zM359 89h3v1h-3zM385 89h5v1h-5zM392 89h3v1h-3zM396 89h1v1h-1zM400 89h1v1h-1zM402 89h3v1h-3zM406 89h2v1h-2zM428 89h1v1h-1zM438 89h2v1h-2zM326 90h4v1h-4zM356 90h1v1h-1zM358 90h5v1h-5zM385 90h4v1h-4zM392 90h2v1h-2zM395 90h2v1h-2zM401 90h1v1h-1zM403 90h2v1h-2zM406 90h2v1h-2zM409 90h1v1h-1zM431 90h1v1h-1zM439 90h1v1h-1zM441 90h1v1h-1zM330 91h3v1h-3zM334 91h2v1h-2zM356 91h7v1h-7zM384 91h1v1h-1zM393 91h2v1h-2zM402 91h3v1h-3zM406 91h4v1h-4zM417 91h1v1h-1zM420 91h1v1h-1zM428 91h7v1h-7zM330 92h3v1h-3zM337 92h2v1h-2zM357 92h7v1h-7zM385 92h4v1h-4zM396 92h5v1h-5zM402 92h3v1h-3zM407 92h4v1h-4zM419 92h1v1h-1zM428 92h2v1h-2zM431 92h1v1h-1zM438 92h3v1h-3zM331 93h2v1h-2zM340 93h2v1h-2zM359 93h2v1h-2zM362 93h3v1h-3zM385 93h4v1h-4zM391 93h1v1h-1zM393 93h5v1h-5zM399 93h2v1h-2zM417 93h1v1h-1zM429 93h1v1h-1zM433 93h3v1h-3zM439 93h2v1h-2zM327 94h2v1h-2zM332 94h3v1h-3zM336 94h3v1h-3zM343 94h2v1h-2zM360 94h1v1h-1zM363 94h2v1h-2zM386 94h2v1h-2zM391 94h8v1h-8zM400 94h2v1h-2zM407 94h1v1h-1zM414 94h1v1h-1zM429 94h1v1h-1zM431 94h1v1h-1zM438 94h1v1h-1zM329 95h8v1h-8zM344 95h3v1h-3zM363 95h2v1h-2zM386 95h4v1h-4zM391 95h8v1h-8zM401 95h2v1h-2zM410 95h1v1h-1zM438 95h1v1h-1zM440 95h1v1h-1zM325 96h8v1h-8zM346 96h1v1h-1zM363 96h1v1h-1zM387 96h3v1h-3zM393 96h5v1h-5zM399 96h1v1h-1zM430 96h1v1h-1zM435 96h4v1h-4zM440 96h1v1h-1zM329 97h3v1h-3zM388 97h2v1h-2zM395 97h2v1h-2zM399 97h1v1h-1zM433 97h1v1h-1zM437 97h3v1h-3zM331 98h1v1h-1zM342 98h2v1h-2zM395 98h1v1h-1zM398 98h1v1h-1zM437 98h2v1h-2zM440 98h1v1h-1zM333 99h1v1h-1zM342 99h2v1h-2zM347 99h1v1h-1zM437 99h1v1h-1zM340 100h3v1h-3zM434 100h1v1h-1zM439 100h1v1h-1zM341 101h3v1h-3zM389 101h2v1h-2zM392 101h1v1h-1zM389 102h1v1h-1zM392 102h1v1h-1zM331 103h1v1h-1zM334 103h1v1h-1zM410 103h2v1h-2zM331 104h3v1h-3zM343 104h1v1h-1zM410 104h3v1h-3zM409 105h5v1h-5zM415 105h2v1h-2zM356 106h1v1h-1zM409 106h7v1h-7zM417 106h1v1h-1zM330 107h1v1h-1zM365 107h1v1h-1zM409 107h3v1h-3zM414 107h2v1h-2zM417 107h1v1h-1zM358 108h2v1h-2zM363 108h3v1h-3zM410 108h2v1h-2zM417 108h2v1h-2zM420 108h1v1h-1zM358 109h3v1h-3zM363 109h3v1h-3zM411 109h2v1h-2zM417 109h2v1h-2zM423 109h1v1h-1zM358 110h3v1h-3zM362 110h1v1h-1zM364 110h3v1h-3zM413 110h1v1h-1zM418 110h2v1h-2zM421 110h1v1h-1zM424 110h1v1h-1zM359 111h2v1h-2zM363 111h3v1h-3zM413 111h2v1h-2zM416 111h1v1h-1zM418 111h4v1h-4zM424 111h2v1h-2zM359 112h3v1h-3zM365 112h1v1h-1zM414 112h1v1h-1zM416 112h11v1h-11zM361 113h2v1h-2zM411 113h1v1h-1zM419 113h1v1h-1zM421 113h5v1h-5zM482 113h8v1h-8zM491 113h2v1h-2zM358 114h1v1h-1zM362 114h1v1h-1zM419 114h1v1h-1zM422 114h1v1h-1zM424 114h1v1h-1zM477 114h1v1h-1zM479 114h1v1h-1zM481 114h8v1h-8zM490 114h3v1h-3zM358 115h1v1h-1zM463 115h1v1h-1zM469 115h1v1h-1zM477 115h1v1h-1zM482 115h13v1h-13zM358 116h1v1h-1zM461 116h1v1h-1zM463 116h1v1h-1zM472 116h1v1h-1zM482 116h1v1h-1zM484 116h3v1h-3zM488 116h7v1h-7zM358 117h2v1h-2zM466 117h1v1h-1zM472 117h1v1h-1zM483 117h5v1h-5zM490 117h3v1h-3zM494 117h1v1h-1zM358 118h2v1h-2zM460 118h1v1h-1zM465 118h1v1h-1zM468 118h1v1h-1zM484 118h1v1h-1zM486 118h1v1h-1zM494 118h1v1h-1zM496 118h1v1h-1zM358 119h2v1h-2zM477 119h1v1h-1zM480 119h3v1h-3zM488 119h3v1h-3zM493 119h1v1h-1zM495 119h4v1h-4zM461 120h1v1h-1zM473 120h1v1h-1zM480 120h3v1h-3zM489 120h1v1h-1zM497 120h4v1h-4zM363 121h3v1h-3zM458 121h1v1h-1zM465 121h1v1h-1zM481 121h1v1h-1zM484 121h4v1h-4zM493 121h3v1h-3zM501 121h1v1h-1zM359 122h2v1h-2zM364 122h4v1h-4zM472 122h1v1h-1zM478 122h1v1h-1zM481 122h1v1h-1zM484 122h3v1h-3zM488 122h5v1h-5zM496 122h1v1h-1zM499 122h5v1h-5zM358 123h1v1h-1zM360 123h4v1h-4zM365 123h3v1h-3zM375 123h1v1h-1zM461 123h2v1h-2zM483 123h4v1h-4zM488 123h5v1h-5zM499 123h2v1h-2zM357 124h2v1h-2zM360 124h2v1h-2zM376 124h1v1h-1zM461 124h2v1h-2zM465 124h1v1h-1zM482 124h2v1h-2zM487 124h9v1h-9zM499 124h2v1h-2zM502 124h2v1h-2zM356 125h4v1h-4zM380 125h2v1h-2zM461 125h1v1h-1zM465 125h1v1h-1zM473 125h1v1h-1zM479 125h2v1h-2zM482 125h1v1h-1zM485 125h10v1h-10zM357 126h6v1h-6zM369 126h1v1h-1zM373 126h1v1h-1zM379 126h3v1h-3zM383 126h2v1h-2zM474 126h1v1h-1zM479 126h1v1h-1zM482 126h1v1h-1zM484 126h8v1h-8zM493 126h1v1h-1zM495 126h1v1h-1zM498 126h1v1h-1zM500 126h2v1h-2zM357 127h6v1h-6zM370 127h2v1h-2zM373 127h2v1h-2zM379 127h4v1h-4zM384 127h4v1h-4zM412 127h6v1h-6zM478 127h2v1h-2zM481 127h1v1h-1zM483 127h5v1h-5zM494 127h1v1h-1zM497 127h7v1h-7zM358 128h7v1h-7zM370 128h3v1h-3zM374 128h2v1h-2zM378 128h6v1h-6zM386 128h3v1h-3zM390 128h1v1h-1zM414 128h3v1h-3zM482 128h1v1h-1zM485 128h2v1h-2zM490 128h1v1h-1zM493 128h4v1h-4zM498 128h5v1h-5zM358 129h3v1h-3zM362 129h4v1h-4zM368 129h1v1h-1zM371 129h3v1h-3zM376 129h4v1h-4zM382 129h3v1h-3zM386 129h3v1h-3zM390 129h1v1h-1zM417 129h1v1h-1zM482 129h1v1h-1zM484 129h3v1h-3zM488 129h8v1h-8zM512 129h1v1h-1zM358 130h4v1h-4zM365 130h1v1h-1zM369 130h1v1h-1zM373 130h2v1h-2zM379 130h1v1h-1zM383 130h1v1h-1zM385 130h1v1h-1zM389 130h4v1h-4zM399 130h1v1h-1zM412 130h6v1h-6zM482 130h2v1h-2zM485 130h1v1h-1zM490 130h2v1h-2zM493 130h2v1h-2zM496 130h1v1h-1zM498 130h2v1h-2zM501 130h1v1h-1zM359 131h1v1h-1zM361 131h4v1h-4zM379 131h3v1h-3zM386 131h2v1h-2zM389 131h7v1h-7zM399 131h1v1h-1zM402 131h2v1h-2zM412 131h6v1h-6zM476 131h1v1h-1zM479 131h5v1h-5zM488 131h2v1h-2zM491 131h1v1h-1zM493 131h1v1h-1zM495 131h1v1h-1zM514 131h1v1h-1zM519 131h1v1h-1zM365 132h2v1h-2zM375 132h1v1h-1zM377 132h1v1h-1zM379 132h6v1h-6zM386 132h2v1h-2zM389 132h8v1h-8zM399 132h1v1h-1zM403 132h1v1h-1zM406 132h3v1h-3zM411 132h1v1h-1zM413 132h5v1h-5zM477 132h2v1h-2zM480 132h3v1h-3zM486 132h2v1h-2zM490 132h1v1h-1zM492 132h2v1h-2zM496 132h2v1h-2zM513 132h2v1h-2zM366 133h6v1h-6zM375 133h1v1h-1zM377 133h1v1h-1zM379 133h3v1h-3zM383 133h5v1h-5zM389 133h11v1h-11zM401 133h4v1h-4zM407 133h1v1h-1zM410 133h1v1h-1zM415 133h2v1h-2zM474 133h1v1h-1zM476 133h4v1h-4zM481 133h2v1h-2zM486 133h1v1h-1zM489 133h3v1h-3zM494 133h1v1h-1zM518 133h1v1h-1zM365 134h1v1h-1zM368 134h3v1h-3zM373 134h1v1h-1zM377 134h1v1h-1zM380 134h2v1h-2zM384 134h3v1h-3zM388 134h11v1h-11zM400 134h6v1h-6zM408 134h1v1h-1zM412 134h3v1h-3zM416 134h2v1h-2zM478 134h4v1h-4zM486 134h1v1h-1zM490 134h2v1h-2zM365 135h3v1h-3zM369 135h6v1h-6zM384 135h2v1h-2zM388 135h11v1h-11zM400 135h5v1h-5zM410 135h1v1h-1zM413 135h1v1h-1zM416 135h2v1h-2zM477 135h4v1h-4zM484 135h2v1h-2zM487 135h2v1h-2zM490 135h1v1h-1zM365 136h8v1h-8zM375 136h1v1h-1zM386 136h1v1h-1zM390 136h10v1h-10zM401 136h2v1h-2zM476 136h4v1h-4zM481 136h1v1h-1zM483 136h2v1h-2zM366 137h8v1h-8zM385 137h3v1h-3zM392 137h7v1h-7zM400 137h1v1h-1zM403 137h2v1h-2zM409 137h1v1h-1zM411 137h2v1h-2zM423 137h2v1h-2zM481 137h4v1h-4zM365 138h1v1h-1zM367 138h8v1h-8zM389 138h3v1h-3zM395 138h3v1h-3zM399 138h2v1h-2zM404 138h1v1h-1zM408 138h6v1h-6zM419 138h1v1h-1zM365 139h13v1h-13zM390 139h5v1h-5zM398 139h1v1h-1zM401 139h1v1h-1zM405 139h1v1h-1zM409 139h5v1h-5zM420 139h2v1h-2zM365 140h8v1h-8zM374 140h7v1h-7zM383 140h1v1h-1zM391 140h6v1h-6zM399 140h2v1h-2zM407 140h1v1h-1zM409 140h5v1h-5zM420 140h3v1h-3zM425 140h3v1h-3zM365 141h8v1h-8zM375 141h7v1h-7zM384 141h1v1h-1zM391 141h4v1h-4zM397 141h3v1h-3zM401 141h3v1h-3zM405 141h1v1h-1zM407 141h9v1h-9zM417 141h1v1h-1zM419 141h5v1h-5zM425 141h2v1h-2zM428 141h1v1h-1zM365 142h9v1h-9zM375 142h8v1h-8zM385 142h3v1h-3zM389 142h4v1h-4zM395 142h1v1h-1zM399 142h2v1h-2zM402 142h3v1h-3zM407 142h10v1h-10zM419 142h5v1h-5zM426 142h1v1h-1zM431 142h1v1h-1zM366 143h18v1h-18zM386 143h3v1h-3zM390 143h2v1h-2zM393 143h4v1h-4zM398 143h4v1h-4zM403 143h4v1h-4zM408 143h2v1h-2zM411 143h4v1h-4zM417 143h1v1h-1zM419 143h2v1h-2zM422 143h1v1h-1zM425 143h1v1h-1zM427 143h3v1h-3zM366 144h13v1h-13zM381 144h8v1h-8zM390 144h2v1h-2zM393 144h5v1h-5zM400 144h7v1h-7zM408 144h7v1h-7zM419 144h2v1h-2zM425 144h5v1h-5zM485 144h1v1h-1zM489 144h1v1h-1zM368 145h12v1h-12zM381 145h8v1h-8zM392 145h15v1h-15zM408 145h8v1h-8zM417 145h1v1h-1zM427 145h1v1h-1zM429 145h2v1h-2zM436 145h1v1h-1zM439 145h1v1h-1zM476 145h2v1h-2zM480 145h1v1h-1zM371 146h6v1h-6zM379 146h2v1h-2zM382 146h7v1h-7zM392 146h15v1h-15zM410 146h3v1h-3zM419 146h1v1h-1zM424 146h2v1h-2zM428 146h2v1h-2zM433 146h1v1h-1zM440 146h1v1h-1zM476 146h2v1h-2zM480 146h1v1h-1zM502 146h1v1h-1zM373 147h1v1h-1zM376 147h3v1h-3zM380 147h8v1h-8zM389 147h1v1h-1zM391 147h17v1h-17zM411 147h1v1h-1zM413 147h1v1h-1zM415 147h3v1h-3zM421 147h1v1h-1zM424 147h4v1h-4zM377 148h11v1h-11zM390 148h1v1h-1zM392 148h1v1h-1zM396 148h5v1h-5zM402 148h6v1h-6zM412 148h3v1h-3zM416 148h2v1h-2zM428 148h1v1h-1zM430 148h1v1h-1zM434 148h1v1h-1zM378 149h2v1h-2zM381 149h5v1h-5zM389 149h1v1h-1zM398 149h4v1h-4zM403 149h4v1h-4zM408 149h1v1h-1zM413 149h2v1h-2zM417 149h1v1h-1zM430 149h1v1h-1zM383 150h1v1h-1zM395 150h8v1h-8zM405 150h2v1h-2zM410 150h1v1h-1zM412 150h1v1h-1zM414 150h3v1h-3zM396 151h1v1h-1zM398 151h4v1h-4zM406 151h2v1h-2zM409 151h3v1h-3zM415 151h2v1h-2zM396 152h6v1h-6zM403 152h1v1h-1zM408 152h3v1h-3zM412 152h3v1h-3zM416 152h1v1h-1zM397 153h4v1h-4zM402 153h2v1h-2zM405 153h1v1h-1zM408 153h2v1h-2zM414 153h1v1h-1zM399 154h2v1h-2zM403 154h1v1h-1zM405 154h3v1h-3zM409 154h2v1h-2zM413 154h1v1h-1zM402 155h6v1h-6zM410 155h2v1h-2zM413 155h2v1h-2zM402 156h4v1h-4zM407 156h2v1h-2zM412 156h2v1h-2zM402 157h3v1h-3zM407 157h1v1h-1zM409 157h1v1h-1zM414 157h1v1h-1zM402 158h3v1h-3zM409 158h2v1h-2zM413 158h2v1h-2zM404 159h2v1h-2zM408 159h3v1h-3zM409 160h1v1h-1zM434 163h1v1h-1zM437 163h1v1h-1zM435 164h1v1h-1zM437 164h1v1h-1zM439 164h1v1h-1zM438 165h2v1h-2zM435 166h1v1h-1zM437 166h3v1h-3zM432 167h1v1h-1zM434 167h7v1h-7zM435 168h2v1h-2zM438 168h3v1h-3zM437 169h1v1h-1zM441 169h2v1h-2zM442 170h1v1h-1zM434 178h1v1h-1zM436 178h2v1h-2zM434 179h1v1h-1zM436 179h1v1h-1zM432 180h1v1h-1zM434 180h3v1h-3zM433 181h1v1h-1zM436 181h2v1h-2zM431 182h1v1h-1zM433 182h1v1h-1zM432 183h4v1h-4zM430 184h1v1h-1zM432 184h1v1h-1zM434 184h1v1h-1zM436 184h2v1h-2zM430 185h1v1h-1zM433 185h1v1h-1zM436 185h2v1h-2zM435 186h2v1h-2zM433 194h1v1h-1zM440 194h2v1h-2zM443 194h1v1h-1zM433 195h2v1h-2zM436 195h1v1h-1zM434 196h1v1h-1zM438 196h5v1h-5zM434 197h1v1h-1zM440 197h1v1h-1zM437 198h1v1h-1zM439 198h3v1h-3zM443 198h1v1h-1zM438 199h4v1h-4zM436 200h1v1h-1zM440 200h1v1h-1zM437 201h2v1h-2zM441 201h1v1h-1zM444 201h1v1h-1zM436 202h2v1h-2zM439 202h1v1h-1zM441 202h1v1h-1zM422 203h1v1h-1zM425 203h1v1h-1zM428 203h1v1h-1zM430 203h1v1h-1zM437 203h3v1h-3zM423 204h1v1h-1zM426 204h1v1h-1zM436 204h1v1h-1zM438 204h2v1h-2zM443 204h1v1h-1zM426 205h2v1h-2zM430 205h1v1h-1zM436 205h2v1h-2zM426 206h5v1h-5zM432 206h2v1h-2zM436 206h1v1h-1zM439 206h2v1h-2zM426 207h1v1h-1zM429 207h1v1h-1zM434 207h6v1h-6zM441 207h1v1h-1zM422 208h1v1h-1zM427 208h1v1h-1zM431 208h1v1h-1zM433 208h2v1h-2zM436 208h2v1h-2zM439 208h1v1h-1zM426 209h1v1h-1zM429 209h1v1h-1zM434 209h1v1h-1zM437 209h1v1h-1zM424 210h3v1h-3zM428 210h4v1h-4zM435 210h3v1h-3zM429 211h3v1h-3zM434 211h4v1h-4zM431 212h3v1h-3zM436 212h2v1h-2zM422 213h1v1h-1zM427 213h1v1h-1zM429 213h1v1h-1zM431 213h4v1h-4zM423 214h1v1h-1zM427 214h1v1h-1zM430 214h1v1h-1zM432 214h2v1h-2zM472 262h1v1h-1zM470 263h3v1h-3zM471 264h1v1h-1zM470 265h2v1h-2zM470 266h1v1h-1zM472 266h1v1h-1zM474 266h1v1h-1zM470 267h3v1h-3zM470 268h1v1h-1zM472 268h1v1h-1zM472 269h2v1h-2zM472 270h2v1h-2zM476 270h1v1h-1zM472 272h1v1h-1zM473 274h1v1h-1zM477 274h1v1h-1zM473 275h5v1h-5zM474 276h1v1h-1zM545 347h1v1h-1zM547 349h1v1h-1zM549 349h1v1h-1zM554 349h1v1h-1zM547 350h1v1h-1zM551 350h2v1h-2zM548 351h1v1h-1zM546 352h1v1h-1zM550 352h2v1h-2zM553 352h1v1h-1zM549 353h1v1h-1zM551 353h1v1h-1zM549 354h2v1h-2zM545 355h2v1h-2zM551 355h1v1h-1zM513 400h1v1h-1zM517 400h1v1h-1zM513 401h4v1h-4zM514 402h4v1h-4zM516 403h1v1h-1zM525 403h1v1h-1zM514 404h4v1h-4zM517 405h1v1h-1zM521 408h1v1h-1zM525 408h1v1h-1zM554 440h1v1h-1zM551 441h1v1h-1zM553 441h1v1h-1zM550 442h4v1h-4zM557 442h2v1h-2zM561 442h1v1h-1zM554 443h1v1h-1zM557 443h1v1h-1zM570 443h1v1h-1zM573 443h1v1h-1zM552 444h5v1h-5zM558 444h4v1h-4zM566 444h1v1h-1zM572 444h1v1h-1zM552 445h2v1h-2zM555 445h1v1h-1zM560 445h3v1h-3zM568 445h1v1h-1zM572 445h2v1h-2zM553 446h4v1h-4zM559 446h2v1h-2zM564 446h1v1h-1zM556 447h1v1h-1zM559 447h4v1h-4zM527 448h1v1h-1zM555 448h2v1h-2zM558 448h1v1h-1zM561 448h1v1h-1zM566 448h2v1h-2zM569 448h1v1h-1zM555 449h1v1h-1zM557 449h1v1h-1zM563 449h1v1h-1zM565 449h1v1h-1zM525 450h1v1h-1zM551 450h1v1h-1zM555 450h1v1h-1zM558 450h1v1h-1zM560 450h1v1h-1zM562 450h2v1h-2zM521 451h1v1h-1zM556 451h1v1h-1zM558 451h2v1h-2zM518 452h1v1h-1zM552 452h1v1h-1zM558 452h1v1h-1zM518 453h1v1h-1zM523 453h1v1h-1zM519 454h3v1h-3zM525 454h1v1h-1zM520 455h3v1h-3zM517 456h1v1h-1zM519 456h1v1h-1zM521 456h1v1h-1zM525 456h2v1h-2zM519 457h2v1h-2zM522 457h1v1h-1zM525 457h1v1h-1zM568 465h1v1h-1zM573 465h1v1h-1zM573 466h1v1h-1zM570 467h1v1h-1zM574 467h1v1h-1zM569 468h1v1h-1zM568 469h1v1h-1zM573 469h2v1h-2zM568 470h1v1h-1zM569 473h1v1h-1zM568 474h1v1h-1zM486 475h1v1h-1zM484 476h1v1h-1zM486 476h2v1h-2zM484 477h1v1h-1zM486 477h1v1h-1zM473 478h1v1h-1zM477 478h1v1h-1zM481 478h2v1h-2zM484 478h1v1h-1zM487 478h1v1h-1zM474 479h4v1h-4zM481 479h2v1h-2zM485 479h1v1h-1zM478 480h1v1h-1zM481 480h1v1h-1zM487 480h1v1h-1zM475 481h1v1h-1zM478 481h5v1h-5zM485 481h1v1h-1zM487 481h1v1h-1zM475 482h3v1h-3zM484 482h1v1h-1zM487 482h1v1h-1zM475 483h1v1h-1zM485 483h1v1h-1zM487 483h1v1h-1zM475 484h1v1h-1zM487 485h1v1h-1zM461 486h3v1h-3zM460 487h2v1h-2zM463 487h1v1h-1zM462 488h3v1h-3zM462 491h1v1h-1zM539 495h2v1h-2zM539 496h1v1h-1zM541 496h2v1h-2zM545 496h1v1h-1zM539 497h1v1h-1zM542 497h1v1h-1zM545 497h1v1h-1zM540 498h3v1h-3zM545 498h1v1h-1zM540 499h3v1h-3zM544 499h2v1h-2zM541 500h2v1h-2zM544 500h2v1h-2zM543 501h2v1h-2zM542 502h1v1h-1zM544 502h3v1h-3zM559 502h1v1h-1zM544 503h3v1h-3zM552 503h2v1h-2zM556 503h1v1h-1zM544 504h1v1h-1zM546 504h1v1h-1zM554 504h2v1h-2zM548 505h1v1h-1zM551 505h2v1h-2zM554 505h1v1h-1zM545 506h3v1h-3zM549 506h1v1h-1zM551 506h1v1h-1zM541 507h1v1h-1zM544 507h1v1h-1zM547 507h1v1h-1zM543 508h1v1h-1zM543 509h2v1h-2zM530 510h1v1h-1zM532 510h1v1h-1zM539 510h1v1h-1zM541 510h1v1h-1zM543 510h2v1h-2zM546 510h1v1h-1zM526 511h2v1h-2zM533 511h2v1h-2zM537 511h3v1h-3zM543 511h2v1h-2zM521 512h1v1h-1zM526 512h1v1h-1zM529 512h1v1h-1zM531 512h3v1h-3zM536 512h4v1h-4zM528 513h2v1h-2zM532 513h5v1h-5zM538 513h1v1h-1zM524 514h2v1h-2zM527 514h2v1h-2zM530 514h7v1h-7zM538 514h1v1h-1zM526 515h1v1h-1zM530 515h1v1h-1zM532 515h1v1h-1zM534 515h1v1h-1zM538 515h1v1h-1zM524 516h1v1h-1zM527 516h1v1h-1zM525 517h3v1h-3zM527 518h1v1h-1zM529 518h1v1h-1zM493 524h2v1h-2zM496 524h4v1h-4zM501 524h1v1h-1zM493 525h1v1h-1zM495 525h6v1h-6zM502 525h4v1h-4zM493 526h1v1h-1zM495 526h4v1h-4zM500 526h4v1h-4zM506 526h1v1h-1zM495 527h2v1h-2zM499 527h1v1h-1zM501 527h1v1h-1zM495 528h9v1h-9zM505 528h1v1h-1zM495 529h7v1h-7zM495 530h4v1h-4zM502 530h3v1h-3zM495 531h1v1h-1zM498 531h1v1h-1zM500 531h1v1h-1zM502 531h1v1h-1zM505 531h1v1h-1zM507 531h1v1h-1zM495 532h2v1h-2zM499 532h1v1h-1zM501 532h1v1h-1zM496 533h4v1h-4zM502 533h3v1h-3zM494 534h1v1h-1zM496 534h2v1h-2zM499 534h1v1h-1zM501 534h3v1h-3zM402 537h1v1h-1zM404 537h3v1h-3zM409 537h1v1h-1zM407 538h2v1h-2zM407 540h1v1h-1zM405 541h1v1h-1zM478 543h1v1h-1zM480 543h1v1h-1zM482 544h1v1h-1zM484 544h1v1h-1zM476 545h1v1h-1zM482 545h1v1h-1zM485 545h1v1h-1zM479 546h1v1h-1zM483 546h3v1h-3zM476 547h1v1h-1zM480 547h3v1h-3zM484 547h1v1h-1zM477 548h1v1h-1zM480 548h3v1h-3zM479 549h1v1h-1zM476 550h2v1h-2zM476 551h3v1h-3zM477 552h1v1h-1zM479 552h1v1h-1zM473 553h1v1h-1zM475 553h2v1h-2zM478 553h1v1h-1zM480 553h1v1h-1zM475 555h2v1h-2zM472 556h1v1h-1zM477 556h2v1h-2zM474 557h5v1h-5zM472 558h1v1h-1zM474 558h2v1h-2zM477 558h1v1h-1zM474 559h3v1h-3zM471 560h6v1h-6zM471 561h1v1h-1zM473 561h4v1h-4zM470 562h6v1h-6zM471 563h5v1h-5zM470 564h2v1h-2zM473 564h1v1h-1zM427 567h1v1h-1zM430 567h1v1h-1zM426 568h1v1h-1zM428 568h2v1h-2zM429 569h1v1h-1zM427 570h1v1h-1zM429 570h1v1h-1zM426 571h2v1h-2zM426 572h1v1h-1z" fill="#33cc00"/>
<path d="M413 112h1v1h-1zM413 113h3v1h-3zM417 113h2v1h-2zM417 114h2v1h-2zM414 115h3v1h-3zM418 115h2v1h-2zM415 116h3v1h-3zM419 116h1v1h-1zM415 117h4v1h-4zM415 118h4v1h-4zM416 119h2v1h-2zM419 119h2v1h-2zM416 120h2v1h-2zM419 120h2v1h-2zM495 503h6v1h-6zM495 504h6v1h-6zM495 505h6v1h-6zM495 506h5v1h-5zM495 507h4v1h-4zM502 507h2v1h-2zM495 508h3v1h-3zM501 508h3v1h-3zM495 509h3v1h-3z" fill="#ffffff"/>
<path d="M430 574h1v1h-1zM432 574h7v1h-7zM430 575h1v1h-1zM432 575h2v1h-2zM435 575h5v1h-5zM450 575h1v1h-1zM429 576h14v1h-14zM444 576h4v1h-4zM449 576h1v1h-1zM430 577h10v1h-10zM441 577h9v1h-9zM428 578h3v1h-3zM432 578h9v1h-9zM445 578h1v1h-1zM447 578h1v1h-1zM449 578h1v1h-1zM428 579h2v1h-2zM431 579h10v1h-10zM442 579h1v1h-1zM444 579h4v1h-4zM428 580h3v1h-3zM432 580h15v1h-15zM427 581h11v1h-11zM439 581h6v1h-6zM429 582h9v1h-9zM439 582h5v1h-5zM429 583h8v1h-8zM438 583h4v1h-4zM426 584h2v1h-2zM429 584h4v1h-4zM434 584h5v1h-5zM413 585h1v1h-1zM415 585h2v1h-2zM418 585h2v1h-2zM429 585h8v1h-8zM413 586h3v1h-3zM418 586h3v1h-3zM423 586h3v1h-3zM427 586h2v1h-2zM430 586h3v1h-3zM435 586h1v1h-1zM413 587h1v1h-1zM415 587h1v1h-1zM421 587h3v1h-3zM427 587h4v1h-4zM435 587h1v1h-1zM415 588h1v1h-1zM421 588h1v1h-1zM428 588h3v1h-3zM413 589h1v1h-1zM428 589h1v1h-1zM417 590h1v1h-1zM428 590h3v1h-3zM413 591h1v1h-1zM417 591h1v1h-1zM421 591h1v1h-1zM428 591h3v1h-3zM412 592h7v1h-7zM422 592h1v1h-1zM426 592h5v1h-5zM413 593h1v1h-1zM415 593h2v1h-2zM418 593h1v1h-1zM420 593h6v1h-6z" fill="#ff7716"/>
<path d="M482 528h1v1h-1zM481 529h4v1h-4zM479 530h1v1h-1zM482 530h2v1h-2zM479 531h1v1h-1zM483 531h1v1h-1zM481 532h4v1h-4zM424 578h1v1h-1zM427 578h1v1h-1zM424 579h2v1h-2zM427 579h1v1h-1zM424 580h2v1h-2zM427 580h1v1h-1zM424 581h3v1h-3zM424 582h5v1h-5zM424 583h5v1h-5zM424 584h2v1h-2zM424 585h5v1h-5zM424 587h1v1h-1zM422 588h1v1h-1zM424 588h4v1h-4zM421 589h1v1h-1zM425 589h3v1h-3zM418 590h2v1h-2zM422 590h2v1h-2zM426 590h2v1h-2zM416 591h1v1h-1zM418 591h1v1h-1zM422 591h1v1h-1zM426 591h2v1h-2zM419 592h2v1h-2zM417 593h1v1h-1zM419 593h1v1h-1zM418 594h3v1h-3zM422 594h1v1h-1zM419 595h2v1h-2zM422 595h1v1h-1zM419 596h2v1h-2zM420 597h1v1h-1z" fill="#be0000"/>
<path d="M524 426h1v1h-1zM517 427h1v1h-1zM517 428h2v1h-2zM521 428h1v1h-1zM516 429h3v1h-3zM520 429h2v1h-2zM523 429h1v1h-1zM516 430h8v1h-8zM527 430h1v1h-1zM517 431h2v1h-2zM520 431h3v1h-3zM527 431h1v1h-1zM517 432h3v1h-3zM521 432h1v1h-1zM523 432h1v1h-1zM516 433h1v1h-1zM519 433h2v1h-2zM522 433h3v1h-3zM520 434h1v1h-1zM522 434h3v1h-3zM529 434h1v1h-1zM517 435h4v1h-4zM522 435h3v1h-3zM527 435h3v1h-3zM518 436h2v1h-2zM521 436h4v1h-4zM526 436h2v1h-2zM521 437h5v1h-5zM521 438h5v1h-5zM527 438h3v1h-3zM521 439h1v1h-1zM525 439h1v1h-1zM527 439h1v1h-1zM527 440h1v1h-1zM529 440h1v1h-1zM419 587h1v1h-1zM425 587h1v1h-1zM419 588h2v1h-2zM423 588h1v1h-1zM419 589h2v1h-2zM422 589h3v1h-3zM420 590h2v1h-2zM424 590h2v1h-2zM419 591h2v1h-2zM423 591h3v1h-3zM421 592h1v1h-1zM423 592h3v1h-3z" fill="#ff2b0b"/>
<path d="M462 569h1v1h-1zM449 570h1v1h-1zM451 570h1v1h-1zM454 570h2v1h-2zM457 570h1v1h-1zM459 570h1v1h-1zM461 570h1v1h-1zM451 571h1v1h-1zM453 571h1v1h-1zM457 571h1v1h-1zM459 571h2v1h-2zM450 572h2v1h-2zM453 572h1v1h-1zM455 572h3v1h-3zM459 572h1v1h-1zM462 572h1v1h-1zM450 573h1v1h-1zM452 573h10v1h-10zM450 574h1v1h-1zM452 574h8v1h-8zM451 575h4v1h-4zM457 575h2v1h-2zM452 576h4v1h-4zM451 577h1v1h-1z" fill="#99e619"/>
<path d="M478 509h2v1h-2zM403 536h2v1h-2zM423 556h2v1h-2zM461 569h1v1h-1zM452 570h2v1h-2zM456 570h1v1h-1zM458 570h1v1h-1zM460 570h1v1h-1zM458 571h1v1h-1zM461 571h1v1h-1zM452 572h1v1h-1zM454 572h1v1h-1zM458 572h1v1h-1zM460 572h2v1h-2zM420 580h2v1h-2z" fill="#ffff33"/>
<path d="M443 576h1v1h-1zM450 576h1v1h-1zM440 577h1v1h-1zM441 578h4v1h-4zM446 578h1v1h-1zM448 578h1v1h-1zM441 579h1v1h-1zM443 579h1v1h-1zM448 579h1v1h-1z" fill="#ffbb22"/>
<path d="M484 518h2v1h-2zM482 519h1v1h-1zM485 519h1v1h-1zM477 520h1v1h-1zM481 520h5v1h-5zM477 521h1v1h-1zM482 521h1v1h-1zM484 521h2v1h-2zM477 522h1v1h-1zM480 522h1v1h-1zM482 522h1v1h-1zM481 523h1v1h-1z" fill="#666666"/>
<path d="M431 60h1v1h-1zM425 64h1v1h-1zM428 64h1v1h-1zM422 65h1v1h-1zM425 65h1v1h-1zM421 66h2v1h-2zM426 66h4v1h-4zM438 66h1v1h-1zM418 67h3v1h-3zM430 67h8v1h-8zM418 68h1v1h-1zM431 68h2v1h-2zM419 69h1v1h-1zM433 69h1v1h-1zM419 70h1v1h-1zM433 70h1v1h-1zM419 71h1v1h-1zM433 71h1v1h-1zM443 71h1v1h-1zM418 72h1v1h-1zM432 72h1v1h-1zM441 72h2v1h-2zM444 72h1v1h-1zM418 73h1v1h-1zM432 73h6v1h-6zM440 73h1v1h-1zM444 73h1v1h-1zM415 74h3v1h-3zM429 74h4v1h-4zM438 74h2v1h-2zM443 74h1v1h-1zM417 75h1v1h-1zM427 75h2v1h-2zM432 75h1v1h-1zM443 75h2v1h-2zM418 76h1v1h-1zM423 76h4v1h-4zM433 76h1v1h-1zM444 76h1v1h-1zM452 76h1v1h-1zM418 77h1v1h-1zM421 77h2v1h-2zM433 77h1v1h-1zM444 77h1v1h-1zM451 77h1v1h-1zM419 78h2v1h-2zM434 78h1v1h-1zM444 78h1v1h-1zM451 78h1v1h-1zM465 78h1v1h-1zM475 78h1v1h-1zM420 79h1v1h-1zM435 79h1v1h-1zM444 79h1v1h-1zM451 79h1v1h-1zM465 79h1v1h-1zM421 80h1v1h-1zM428 80h1v1h-1zM435 80h1v1h-1zM444 80h1v1h-1zM450 80h1v1h-1zM466 80h1v1h-1zM471 80h1v1h-1zM404 81h1v1h-1zM410 81h1v1h-1zM421 81h1v1h-1zM436 81h1v1h-1zM445 81h1v1h-1zM450 81h1v1h-1zM467 81h1v1h-1zM471 81h1v1h-1zM405 82h1v1h-1zM413 82h1v1h-1zM420 82h1v1h-1zM436 82h1v1h-1zM440 82h1v1h-1zM444 82h2v1h-2zM450 82h1v1h-1zM466 82h2v1h-2zM471 82h2v1h-2zM405 83h1v1h-1zM417 83h4v1h-4zM436 83h1v1h-1zM439 83h1v1h-1zM441 83h3v1h-3zM446 83h2v1h-2zM450 83h1v1h-1zM466 83h1v1h-1zM468 83h1v1h-1zM473 83h6v1h-6zM406 84h1v1h-1zM416 84h2v1h-2zM420 84h1v1h-1zM422 84h1v1h-1zM436 84h3v1h-3zM448 84h3v1h-3zM465 84h1v1h-1zM468 84h1v1h-1zM479 84h1v1h-1zM394 85h2v1h-2zM406 85h2v1h-2zM416 85h1v1h-1zM421 85h1v1h-1zM436 85h1v1h-1zM450 85h2v1h-2zM464 85h1v1h-1zM468 85h1v1h-1zM480 85h1v1h-1zM333 86h1v1h-1zM393 86h1v1h-1zM405 86h1v1h-1zM407 86h1v1h-1zM410 86h4v1h-4zM415 86h1v1h-1zM421 86h1v1h-1zM436 86h1v1h-1zM451 86h1v1h-1zM463 86h1v1h-1zM468 86h1v1h-1zM481 86h2v1h-2zM329 87h1v1h-1zM367 87h1v1h-1zM392 87h1v1h-1zM405 87h1v1h-1zM408 87h2v1h-2zM412 87h1v1h-1zM414 87h1v1h-1zM422 87h2v1h-2zM426 87h2v1h-2zM435 87h1v1h-1zM437 87h2v1h-2zM452 87h1v1h-1zM462 87h1v1h-1zM468 87h1v1h-1zM376 88h2v1h-2zM383 88h1v1h-1zM391 88h1v1h-1zM405 88h1v1h-1zM411 88h1v1h-1zM424 88h2v1h-2zM428 88h2v1h-2zM434 88h3v1h-3zM439 88h2v1h-2zM452 88h1v1h-1zM455 88h2v1h-2zM462 88h1v1h-1zM468 88h1v1h-1zM321 89h1v1h-1zM376 89h2v1h-2zM384 89h1v1h-1zM391 89h1v1h-1zM405 89h1v1h-1zM411 89h1v1h-1zM423 89h1v1h-1zM430 89h4v1h-4zM441 89h2v1h-2zM450 89h5v1h-5zM457 89h1v1h-1zM461 89h1v1h-1zM468 89h1v1h-1zM321 90h1v1h-1zM375 90h2v1h-2zM384 90h1v1h-1zM391 90h1v1h-1zM405 90h1v1h-1zM411 90h1v1h-1zM422 90h1v1h-1zM434 90h1v1h-1zM442 90h2v1h-2zM448 90h2v1h-2zM454 90h1v1h-1zM458 90h3v1h-3zM467 90h1v1h-1zM321 91h1v1h-1zM363 91h1v1h-1zM374 91h1v1h-1zM385 91h4v1h-4zM392 91h1v1h-1zM396 91h5v1h-5zM405 91h1v1h-1zM412 91h1v1h-1zM421 91h1v1h-1zM435 91h1v1h-1zM442 91h1v1h-1zM446 91h2v1h-2zM454 91h1v1h-1zM467 91h1v1h-1zM321 92h1v1h-1zM369 92h1v1h-1zM374 92h1v1h-1zM389 92h1v1h-1zM391 92h5v1h-5zM401 92h1v1h-1zM405 92h1v1h-1zM412 92h1v1h-1zM420 92h1v1h-1zM435 92h1v1h-1zM442 92h1v1h-1zM445 92h1v1h-1zM455 92h1v1h-1zM467 92h1v1h-1zM322 93h1v1h-1zM372 93h2v1h-2zM389 93h2v1h-2zM401 93h1v1h-1zM403 93h2v1h-2zM413 93h1v1h-1zM420 93h1v1h-1zM436 93h1v1h-1zM442 93h1v1h-1zM445 93h1v1h-1zM455 93h2v1h-2zM466 93h4v1h-4zM322 94h1v1h-1zM348 94h1v1h-1zM371 94h1v1h-1zM389 94h1v1h-1zM402 94h1v1h-1zM413 94h1v1h-1zM419 94h1v1h-1zM436 94h1v1h-1zM443 94h3v1h-3zM448 94h1v1h-1zM457 94h2v1h-2zM463 94h3v1h-3zM469 94h2v1h-2zM323 95h1v1h-1zM348 95h1v1h-1zM366 95h1v1h-1zM371 95h1v1h-1zM374 95h1v1h-1zM390 95h1v1h-1zM403 95h1v1h-1zM412 95h1v1h-1zM419 95h1v1h-1zM435 95h1v1h-1zM445 95h1v1h-1zM458 95h1v1h-1zM460 95h3v1h-3zM470 95h2v1h-2zM323 96h1v1h-1zM349 96h1v1h-1zM365 96h1v1h-1zM367 96h3v1h-3zM372 96h1v1h-1zM390 96h3v1h-3zM400 96h1v1h-1zM402 96h3v1h-3zM408 96h3v1h-3zM412 96h1v1h-1zM419 96h1v1h-1zM434 96h1v1h-1zM444 96h1v1h-1zM458 96h2v1h-2zM471 96h2v1h-2zM318 97h1v1h-1zM323 97h1v1h-1zM349 97h1v1h-1zM364 97h1v1h-1zM366 97h1v1h-1zM370 97h3v1h-3zM390 97h5v1h-5zM397 97h2v1h-2zM400 97h1v1h-1zM404 97h3v1h-3zM408 97h3v1h-3zM412 97h1v1h-1zM419 97h1v1h-1zM434 97h1v1h-1zM444 97h1v1h-1zM458 97h1v1h-1zM472 97h2v1h-2zM478 97h1v1h-1zM318 98h1v1h-1zM322 98h1v1h-1zM324 98h2v1h-2zM339 98h1v1h-1zM350 98h1v1h-1zM363 98h1v1h-1zM368 98h2v1h-2zM372 98h1v1h-1zM380 98h1v1h-1zM390 98h5v1h-5zM396 98h2v1h-2zM399 98h4v1h-4zM404 98h3v1h-3zM410 98h1v1h-1zM412 98h1v1h-1zM415 98h2v1h-2zM419 98h1v1h-1zM433 98h1v1h-1zM444 98h1v1h-1zM458 98h1v1h-1zM472 98h1v1h-1zM474 98h4v1h-4zM324 99h1v1h-1zM327 99h1v1h-1zM339 99h1v1h-1zM350 99h1v1h-1zM358 99h5v1h-5zM372 99h1v1h-1zM390 99h3v1h-3zM395 99h5v1h-5zM403 99h1v1h-1zM406 99h9v1h-9zM417 99h3v1h-3zM433 99h3v1h-3zM444 99h1v1h-1zM457 99h1v1h-1zM471 99h1v1h-1zM318 100h1v1h-1zM325 100h2v1h-2zM351 100h1v1h-1zM356 100h2v1h-2zM367 100h1v1h-1zM372 100h1v1h-1zM380 100h1v1h-1zM382 100h1v1h-1zM390 100h10v1h-10zM403 100h2v1h-2zM406 100h6v1h-6zM419 100h1v1h-1zM432 100h1v1h-1zM436 100h1v1h-1zM444 100h1v1h-1zM457 100h1v1h-1zM471 100h1v1h-1zM319 101h1v1h-1zM325 101h1v1h-1zM331 101h1v1h-1zM340 101h1v1h-1zM351 101h5v1h-5zM366 101h2v1h-2zM369 101h1v1h-1zM372 101h1v1h-1zM391 101h1v1h-1zM393 101h4v1h-4zM398 101h1v1h-1zM400 101h4v1h-4zM411 101h1v1h-1zM419 101h1v1h-1zM432 101h1v1h-1zM437 101h2v1h-2zM443 101h2v1h-2zM457 101h1v1h-1zM472 101h1v1h-1zM325 102h1v1h-1zM337 102h2v1h-2zM343 102h4v1h-4zM349 102h2v1h-2zM352 102h1v1h-1zM364 102h1v1h-1zM366 102h1v1h-1zM371 102h1v1h-1zM373 102h1v1h-1zM390 102h2v1h-2zM393 102h6v1h-6zM400 102h2v1h-2zM405 102h1v1h-1zM408 102h3v1h-3zM418 102h1v1h-1zM420 102h2v1h-2zM426 102h1v1h-1zM428 102h4v1h-4zM439 102h4v1h-4zM444 102h1v1h-1zM456 102h1v1h-1zM472 102h1v1h-1zM322 103h1v1h-1zM325 103h1v1h-1zM335 103h2v1h-2zM339 103h4v1h-4zM347 103h2v1h-2zM352 103h1v1h-1zM374 103h2v1h-2zM389 103h3v1h-3zM394 103h1v1h-1zM396 103h4v1h-4zM402 103h2v1h-2zM405 103h1v1h-1zM407 103h2v1h-2zM418 103h1v1h-1zM422 103h9v1h-9zM433 103h1v1h-1zM439 103h1v1h-1zM445 103h1v1h-1zM453 103h4v1h-4zM472 103h1v1h-1zM475 103h4v1h-4zM324 104h1v1h-1zM334 104h1v1h-1zM337 104h1v1h-1zM353 104h1v1h-1zM376 104h2v1h-2zM388 104h1v1h-1zM391 104h2v1h-2zM394 104h3v1h-3zM398 104h3v1h-3zM402 104h3v1h-3zM406 104h2v1h-2zM417 104h1v1h-1zM426 104h2v1h-2zM435 104h1v1h-1zM439 104h1v1h-1zM446 104h1v1h-1zM452 104h1v1h-1zM457 104h1v1h-1zM472 104h3v1h-3zM479 104h2v1h-2zM324 105h1v1h-1zM332 105h2v1h-2zM353 105h1v1h-1zM378 105h1v1h-1zM387 105h1v1h-1zM391 105h17v1h-17zM417 105h1v1h-1zM426 105h4v1h-4zM438 105h2v1h-2zM447 105h1v1h-1zM450 105h2v1h-2zM458 105h1v1h-1zM472 105h1v1h-1zM481 105h1v1h-1zM324 106h1v1h-1zM330 106h2v1h-2zM354 106h1v1h-1zM378 106h1v1h-1zM382 106h1v1h-1zM387 106h1v1h-1zM393 106h12v1h-12zM407 106h2v1h-2zM416 106h1v1h-1zM426 106h1v1h-1zM428 106h1v1h-1zM430 106h1v1h-1zM432 106h1v1h-1zM437 106h1v1h-1zM448 106h2v1h-2zM451 106h1v1h-1zM459 106h2v1h-2zM470 106h2v1h-2zM482 106h1v1h-1zM325 107h5v1h-5zM354 107h1v1h-1zM366 107h1v1h-1zM377 107h1v1h-1zM381 107h1v1h-1zM383 107h1v1h-1zM387 107h1v1h-1zM391 107h2v1h-2zM395 107h1v1h-1zM397 107h5v1h-5zM403 107h1v1h-1zM405 107h1v1h-1zM407 107h2v1h-2zM416 107h1v1h-1zM426 107h1v1h-1zM430 107h1v1h-1zM437 107h1v1h-1zM450 107h1v1h-1zM461 107h2v1h-2zM466 107h2v1h-2zM469 107h1v1h-1zM481 107h1v1h-1zM326 108h1v1h-1zM353 108h1v1h-1zM377 108h1v1h-1zM380 108h1v1h-1zM384 108h4v1h-4zM390 108h3v1h-3zM395 108h1v1h-1zM398 108h7v1h-7zM407 108h1v1h-1zM409 108h1v1h-1zM416 108h1v1h-1zM426 108h3v1h-3zM430 108h1v1h-1zM438 108h1v1h-1zM450 108h1v1h-1zM463 108h3v1h-3zM468 108h2v1h-2zM480 108h1v1h-1zM352 109h1v1h-1zM378 109h2v1h-2zM388 109h2v1h-2zM391 109h2v1h-2zM394 109h1v1h-1zM397 109h7v1h-7zM405 109h6v1h-6zM416 109h1v1h-1zM426 109h3v1h-3zM431 109h1v1h-1zM438 109h1v1h-1zM450 109h1v1h-1zM463 109h1v1h-1zM470 109h2v1h-2zM480 109h1v1h-1zM352 110h1v1h-1zM378 110h1v1h-1zM389 110h1v1h-1zM393 110h1v1h-1zM395 110h4v1h-4zM400 110h5v1h-5zM406 110h5v1h-5zM415 110h1v1h-1zM427 110h2v1h-2zM434 110h8v1h-8zM451 110h1v1h-1zM462 110h1v1h-1zM472 110h1v1h-1zM479 110h1v1h-1zM352 111h2v1h-2zM378 111h1v1h-1zM390 111h3v1h-3zM395 111h1v1h-1zM401 111h10v1h-10zM415 111h1v1h-1zM426 111h5v1h-5zM432 111h2v1h-2zM442 111h2v1h-2zM451 111h1v1h-1zM462 111h1v1h-1zM472 111h1v1h-1zM479 111h1v1h-1zM352 112h2v1h-2zM373 112h1v1h-1zM378 112h1v1h-1zM390 112h1v1h-1zM393 112h2v1h-2zM404 112h8v1h-8zM415 112h1v1h-1zM427 112h5v1h-5zM434 112h1v1h-1zM444 112h2v1h-2zM450 112h1v1h-1zM462 112h1v1h-1zM473 112h1v1h-1zM480 112h1v1h-1zM351 113h1v1h-1zM353 113h1v1h-1zM378 113h1v1h-1zM394 113h2v1h-2zM405 113h5v1h-5zM412 113h1v1h-1zM416 113h1v1h-1zM429 113h3v1h-3zM435 113h3v1h-3zM446 113h1v1h-1zM450 113h1v1h-1zM462 113h1v1h-1zM473 113h1v1h-1zM480 113h1v1h-1zM351 114h1v1h-1zM353 114h1v1h-1zM378 114h1v1h-1zM395 114h1v1h-1zM406 114h11v1h-11zM428 114h1v1h-1zM430 114h2v1h-2zM438 114h1v1h-1zM446 114h1v1h-1zM448 114h2v1h-2zM461 114h1v1h-1zM473 114h1v1h-1zM480 114h1v1h-1zM352 115h1v1h-1zM377 115h1v1h-1zM395 115h1v1h-1zM397 115h5v1h-5zM406 115h5v1h-5zM417 115h1v1h-1zM429 115h2v1h-2zM447 115h1v1h-1zM461 115h1v1h-1zM474 115h1v1h-1zM481 115h1v1h-1zM352 116h1v1h-1zM377 116h5v1h-5zM391 116h1v1h-1zM395 116h2v1h-2zM402 116h2v1h-2zM407 116h4v1h-4zM418 116h1v1h-1zM427 116h2v1h-2zM430 116h1v1h-1zM438 116h1v1h-1zM447 116h1v1h-1zM460 116h1v1h-1zM474 116h1v1h-1zM480 116h2v1h-2zM352 117h3v1h-3zM357 117h1v1h-1zM376 117h1v1h-1zM381 117h1v1h-1zM395 117h1v1h-1zM404 117h1v1h-1zM406 117h1v1h-1zM409 117h2v1h-2zM419 117h2v1h-2zM424 117h3v1h-3zM429 117h1v1h-1zM431 117h1v1h-1zM439 117h1v1h-1zM447 117h2v1h-2zM453 117h1v1h-1zM459 117h4v1h-4zM464 117h1v1h-1zM474 117h1v1h-1zM479 117h1v1h-1zM482 117h1v1h-1zM496 117h1v1h-1zM350 118h3v1h-3zM354 118h1v1h-1zM376 118h1v1h-1zM382 118h1v1h-1zM394 118h1v1h-1zM405 118h1v1h-1zM410 118h2v1h-2zM419 118h1v1h-1zM421 118h3v1h-3zM429 118h1v1h-1zM432 118h1v1h-1zM437 118h3v1h-3zM447 118h1v1h-1zM449 118h10v1h-10zM463 118h2v1h-2zM473 118h1v1h-1zM478 118h1v1h-1zM482 118h1v1h-1zM495 118h1v1h-1zM349 119h1v1h-1zM355 119h1v1h-1zM375 119h1v1h-1zM382 119h1v1h-1zM394 119h1v1h-1zM405 119h1v1h-1zM411 119h1v1h-1zM413 119h1v1h-1zM418 119h1v1h-1zM430 119h2v1h-2zM433 119h1v1h-1zM435 119h2v1h-2zM438 119h5v1h-5zM447 119h1v1h-1zM458 119h1v1h-1zM465 119h1v1h-1zM473 119h3v1h-3zM478 119h1v1h-1zM483 119h1v1h-1zM485 119h2v1h-2zM494 119h1v1h-1zM348 120h1v1h-1zM356 120h1v1h-1zM375 120h1v1h-1zM382 120h4v1h-4zM393 120h2v1h-2zM405 120h1v1h-1zM412 120h1v1h-1zM418 120h1v1h-1zM431 120h1v1h-1zM434 120h1v1h-1zM439 120h2v1h-2zM443 120h1v1h-1zM446 120h1v1h-1zM450 120h1v1h-1zM459 120h1v1h-1zM465 120h1v1h-1zM471 120h2v1h-2zM475 120h3v1h-3zM483 120h2v1h-2zM487 120h1v1h-1zM492 120h2v1h-2zM348 121h1v1h-1zM357 121h1v1h-1zM375 121h1v1h-1zM382 121h1v1h-1zM386 121h2v1h-2zM391 121h3v1h-3zM405 121h1v1h-1zM411 121h1v1h-1zM418 121h1v1h-1zM432 121h2v1h-2zM440 121h2v1h-2zM444 121h1v1h-1zM446 121h1v1h-1zM459 121h1v1h-1zM466 121h5v1h-5zM476 121h1v1h-1zM488 121h5v1h-5zM348 122h1v1h-1zM358 122h1v1h-1zM374 122h1v1h-1zM381 122h1v1h-1zM388 122h3v1h-3zM393 122h1v1h-1zM405 122h1v1h-1zM412 122h1v1h-1zM418 122h1v1h-1zM432 122h1v1h-1zM445 122h1v1h-1zM459 122h1v1h-1zM466 122h1v1h-1zM476 122h1v1h-1zM487 122h1v1h-1zM493 122h2v1h-2zM505 122h1v1h-1zM348 123h1v1h-1zM359 123h1v1h-1zM373 123h2v1h-2zM381 123h1v1h-1zM393 123h1v1h-1zM405 123h1v1h-1zM407 123h1v1h-1zM418 123h1v1h-1zM431 123h1v1h-1zM445 123h1v1h-1zM459 123h1v1h-1zM465 123h1v1h-1zM476 123h1v1h-1zM487 123h1v1h-1zM495 123h2v1h-2zM504 123h1v1h-1zM347 124h1v1h-1zM359 124h1v1h-1zM372 124h1v1h-1zM381 124h1v1h-1zM394 124h1v1h-1zM403 124h1v1h-1zM405 124h1v1h-1zM419 124h1v1h-1zM428 124h5v1h-5zM437 124h1v1h-1zM445 124h1v1h-1zM459 124h1v1h-1zM464 124h1v1h-1zM476 124h1v1h-1zM479 124h2v1h-2zM485 124h2v1h-2zM496 124h1v1h-1zM504 124h1v1h-1zM347 125h1v1h-1zM360 125h10v1h-10zM372 125h1v1h-1zM382 125h1v1h-1zM394 125h1v1h-1zM405 125h1v1h-1zM408 125h3v1h-3zM419 125h1v1h-1zM424 125h4v1h-4zM433 125h2v1h-2zM445 125h2v1h-2zM457 125h1v1h-1zM459 125h1v1h-1zM464 125h1v1h-1zM476 125h3v1h-3zM481 125h1v1h-1zM484 125h1v1h-1zM496 125h1v1h-1zM505 125h1v1h-1zM520 125h1v1h-1zM346 126h1v1h-1zM367 126h1v1h-1zM370 126h2v1h-2zM382 126h1v1h-1zM393 126h1v1h-1zM395 126h1v1h-1zM405 126h3v1h-3zM410 126h2v1h-2zM418 126h1v1h-1zM420 126h1v1h-1zM424 126h1v1h-1zM434 126h1v1h-1zM445 126h2v1h-2zM457 126h3v1h-3zM461 126h2v1h-2zM464 126h2v1h-2zM471 126h3v1h-3zM475 126h1v1h-1zM481 126h1v1h-1zM483 126h1v1h-1zM496 126h1v1h-1zM505 126h1v1h-1zM520 126h1v1h-1zM526 126h3v1h-3zM346 127h1v1h-1zM367 127h1v1h-1zM383 127h1v1h-1zM389 127h4v1h-4zM396 127h1v1h-1zM403 127h2v1h-2zM411 127h1v1h-1zM418 127h1v1h-1zM421 127h3v1h-3zM434 127h1v1h-1zM439 127h1v1h-1zM443 127h2v1h-2zM447 127h2v1h-2zM458 127h1v1h-1zM464 127h1v1h-1zM466 127h7v1h-7zM474 127h2v1h-2zM482 127h1v1h-1zM488 127h1v1h-1zM490 127h1v1h-1zM496 127h1v1h-1zM505 127h2v1h-2zM513 127h1v1h-1zM515 127h1v1h-1zM519 127h2v1h-2zM524 127h1v1h-1zM532 127h1v1h-1zM345 128h1v1h-1zM354 128h1v1h-1zM367 128h1v1h-1zM384 128h1v1h-1zM389 128h1v1h-1zM397 128h6v1h-6zM412 128h2v1h-2zM417 128h1v1h-1zM423 128h1v1h-1zM434 128h1v1h-1zM442 128h1v1h-1zM449 128h1v1h-1zM454 128h4v1h-4zM460 128h2v1h-2zM463 128h14v1h-14zM481 128h1v1h-1zM483 128h1v1h-1zM497 128h1v1h-1zM503 128h2v1h-2zM507 128h2v1h-2zM519 128h3v1h-3zM525 128h7v1h-7zM347 129h1v1h-1zM355 129h1v1h-1zM367 129h1v1h-1zM385 129h1v1h-1zM389 129h1v1h-1zM401 129h1v1h-1zM412 129h5v1h-5zM422 129h1v1h-1zM435 129h1v1h-1zM440 129h2v1h-2zM448 129h1v1h-1zM450 129h4v1h-4zM458 129h4v1h-4zM463 129h4v1h-4zM468 129h2v1h-2zM471 129h6v1h-6zM483 129h1v1h-1zM496 129h1v1h-1zM498 129h2v1h-2zM501 129h2v1h-2zM504 129h1v1h-1zM509 129h1v1h-1zM517 129h4v1h-4zM524 129h6v1h-6zM531 129h2v1h-2zM352 130h1v1h-1zM366 130h1v1h-1zM386 130h3v1h-3zM401 130h1v1h-1zM411 130h1v1h-1zM422 130h1v1h-1zM427 130h2v1h-2zM431 130h2v1h-2zM436 130h1v1h-1zM439 130h1v1h-1zM448 130h1v1h-1zM459 130h18v1h-18zM484 130h1v1h-1zM488 130h2v1h-2zM495 130h1v1h-1zM500 130h1v1h-1zM504 130h1v1h-1zM510 130h1v1h-1zM513 130h4v1h-4zM518 130h3v1h-3zM523 130h4v1h-4zM528 130h4v1h-4zM353 131h1v1h-1zM365 131h2v1h-2zM372 131h5v1h-5zM388 131h1v1h-1zM401 131h1v1h-1zM411 131h1v1h-1zM422 131h1v1h-1zM426 131h1v1h-1zM429 131h2v1h-2zM433 131h2v1h-2zM437 131h1v1h-1zM439 131h1v1h-1zM447 131h1v1h-1zM458 131h1v1h-1zM460 131h1v1h-1zM467 131h5v1h-5zM473 131h3v1h-3zM484 131h4v1h-4zM490 131h1v1h-1zM494 131h1v1h-1zM504 131h1v1h-1zM511 131h2v1h-2zM515 131h1v1h-1zM520 131h1v1h-1zM522 131h2v1h-2zM525 131h7v1h-7zM350 132h1v1h-1zM353 132h2v1h-2zM363 132h2v1h-2zM367 132h5v1h-5zM376 132h1v1h-1zM388 132h1v1h-1zM400 132h1v1h-1zM410 132h1v1h-1zM423 132h1v1h-1zM425 132h1v1h-1zM435 132h1v1h-1zM437 132h2v1h-2zM447 132h1v1h-1zM457 132h1v1h-1zM467 132h1v1h-1zM471 132h1v1h-1zM474 132h1v1h-1zM476 132h1v1h-1zM483 132h2v1h-2zM491 132h1v1h-1zM494 132h1v1h-1zM505 132h1v1h-1zM515 132h1v1h-1zM520 132h2v1h-2zM524 132h1v1h-1zM526 132h1v1h-1zM354 133h1v1h-1zM362 133h1v1h-1zM376 133h1v1h-1zM388 133h1v1h-1zM400 133h1v1h-1zM411 133h1v1h-1zM423 133h5v1h-5zM431 133h1v1h-1zM436 133h3v1h-3zM448 133h1v1h-1zM451 133h1v1h-1zM457 133h1v1h-1zM466 133h1v1h-1zM471 133h1v1h-1zM483 133h1v1h-1zM492 133h2v1h-2zM505 133h1v1h-1zM515 133h1v1h-1zM520 133h1v1h-1zM347 134h1v1h-1zM352 134h1v1h-1zM362 134h1v1h-1zM376 134h1v1h-1zM387 134h1v1h-1zM399 134h1v1h-1zM411 134h1v1h-1zM424 134h10v1h-10zM438 134h1v1h-1zM448 134h1v1h-1zM453 134h1v1h-1zM458 134h1v1h-1zM463 134h1v1h-1zM466 134h1v1h-1zM472 134h1v1h-1zM482 134h1v1h-1zM493 134h1v1h-1zM506 134h1v1h-1zM515 134h1v1h-1zM348 135h1v1h-1zM350 135h2v1h-2zM361 135h1v1h-1zM377 135h1v1h-1zM386 135h2v1h-2zM399 135h1v1h-1zM411 135h2v1h-2zM424 135h8v1h-8zM438 135h1v1h-1zM441 135h1v1h-1zM447 135h1v1h-1zM449 135h2v1h-2zM457 135h3v1h-3zM463 135h1v1h-1zM465 135h1v1h-1zM467 135h1v1h-1zM473 135h1v1h-1zM481 135h1v1h-1zM486 135h1v1h-1zM494 135h1v1h-1zM506 135h1v1h-1zM515 135h1v1h-1zM341 136h1v1h-1zM346 136h1v1h-1zM357 136h5v1h-5zM378 136h1v1h-1zM384 136h2v1h-2zM388 136h2v1h-2zM400 136h1v1h-1zM409 136h2v1h-2zM413 136h1v1h-1zM423 136h9v1h-9zM438 136h6v1h-6zM446 136h2v1h-2zM449 136h2v1h-2zM453 136h1v1h-1zM458 136h1v1h-1zM462 136h1v1h-1zM467 136h1v1h-1zM474 136h1v1h-1zM480 136h1v1h-1zM494 136h1v1h-1zM505 136h1v1h-1zM507 136h6v1h-6zM514 136h4v1h-4zM342 137h1v1h-1zM349 137h1v1h-1zM354 137h4v1h-4zM361 137h1v1h-1zM379 137h1v1h-1zM384 137h1v1h-1zM390 137h2v1h-2zM399 137h1v1h-1zM401 137h2v1h-2zM407 137h2v1h-2zM413 137h1v1h-1zM420 137h3v1h-3zM427 137h6v1h-6zM438 137h2v1h-2zM441 137h1v1h-1zM444 137h2v1h-2zM450 137h1v1h-1zM452 137h1v1h-1zM458 137h1v1h-1zM463 137h2v1h-2zM466 137h1v1h-1zM475 137h6v1h-6zM495 137h1v1h-1zM505 137h10v1h-10zM517 137h1v1h-1zM342 138h1v1h-1zM353 138h2v1h-2zM360 138h1v1h-1zM380 138h2v1h-2zM383 138h1v1h-1zM392 138h3v1h-3zM398 138h1v1h-1zM402 138h1v1h-1zM407 138h1v1h-1zM414 138h1v1h-1zM420 138h1v1h-1zM428 138h5v1h-5zM436 138h2v1h-2zM440 138h1v1h-1zM451 138h2v1h-2zM454 138h1v1h-1zM456 138h2v1h-2zM460 138h1v1h-1zM466 138h1v1h-1zM476 138h1v1h-1zM480 138h1v1h-1zM495 138h1v1h-1zM505 138h12v1h-12zM520 138h1v1h-1zM529 138h2v1h-2zM343 139h6v1h-6zM351 139h3v1h-3zM360 139h1v1h-1zM382 139h2v1h-2zM395 139h3v1h-3zM399 139h2v1h-2zM402 139h1v1h-1zM407 139h1v1h-1zM414 139h1v1h-1zM416 139h1v1h-1zM418 139h2v1h-2zM429 139h7v1h-7zM440 139h1v1h-1zM452 139h5v1h-5zM465 139h5v1h-5zM476 139h1v1h-1zM480 139h1v1h-1zM490 139h4v1h-4zM495 139h1v1h-1zM505 139h15v1h-15zM529 139h2v1h-2zM349 140h2v1h-2zM353 140h1v1h-1zM359 140h1v1h-1zM384 140h1v1h-1zM397 140h2v1h-2zM401 140h6v1h-6zM415 140h3v1h-3zM419 140h1v1h-1zM429 140h1v1h-1zM431 140h1v1h-1zM434 140h1v1h-1zM441 140h1v1h-1zM450 140h2v1h-2zM457 140h2v1h-2zM462 140h3v1h-3zM469 140h1v1h-1zM474 140h2v1h-2zM480 140h1v1h-1zM488 140h2v1h-2zM494 140h2v1h-2zM503 140h17v1h-17zM525 140h1v1h-1zM529 140h2v1h-2zM358 141h1v1h-1zM385 141h4v1h-4zM395 141h2v1h-2zM406 141h1v1h-1zM418 141h1v1h-1zM429 141h1v1h-1zM434 141h1v1h-1zM441 141h1v1h-1zM449 141h1v1h-1zM459 141h3v1h-3zM465 141h1v1h-1zM470 141h1v1h-1zM472 141h2v1h-2zM480 141h1v1h-1zM486 141h2v1h-2zM495 141h4v1h-4zM501 141h2v1h-2zM504 141h9v1h-9zM514 141h2v1h-2zM518 141h2v1h-2zM522 141h4v1h-4zM357 142h1v1h-1zM388 142h1v1h-1zM393 142h2v1h-2zM406 142h1v1h-1zM418 142h1v1h-1zM429 142h1v1h-1zM434 142h1v1h-1zM442 142h1v1h-1zM449 142h1v1h-1zM458 142h1v1h-1zM460 142h1v1h-1zM462 142h1v1h-1zM467 142h1v1h-1zM470 142h2v1h-2zM481 142h1v1h-1zM485 142h1v1h-1zM494 142h1v1h-1zM499 142h2v1h-2zM505 142h8v1h-8zM522 142h5v1h-5zM357 143h1v1h-1zM389 143h1v1h-1zM392 143h1v1h-1zM407 143h1v1h-1zM418 143h1v1h-1zM430 143h1v1h-1zM434 143h1v1h-1zM443 143h1v1h-1zM449 143h1v1h-1zM455 143h1v1h-1zM460 143h1v1h-1zM470 143h1v1h-1zM482 143h1v1h-1zM484 143h1v1h-1zM494 143h1v1h-1zM505 143h8v1h-8zM522 143h1v1h-1zM357 144h1v1h-1zM389 144h1v1h-1zM392 144h1v1h-1zM407 144h1v1h-1zM416 144h1v1h-1zM418 144h1v1h-1zM430 144h1v1h-1zM433 144h1v1h-1zM442 144h2v1h-2zM449 144h1v1h-1zM460 144h1v1h-1zM471 144h1v1h-1zM483 144h1v1h-1zM494 144h1v1h-1zM504 144h9v1h-9zM515 144h12v1h-12zM357 145h1v1h-1zM367 145h1v1h-1zM389 145h1v1h-1zM391 145h1v1h-1zM407 145h1v1h-1zM418 145h8v1h-8zM431 145h3v1h-3zM443 145h3v1h-3zM448 145h1v1h-1zM454 145h1v1h-1zM460 145h2v1h-2zM471 145h1v1h-1zM482 145h1v1h-1zM494 145h1v1h-1zM506 145h21v1h-21zM358 146h1v1h-1zM389 146h2v1h-2zM408 146h1v1h-1zM413 146h6v1h-6zM426 146h2v1h-2zM430 146h1v1h-1zM434 146h1v1h-1zM444 146h1v1h-1zM446 146h2v1h-2zM460 146h1v1h-1zM462 146h1v1h-1zM471 146h1v1h-1zM481 146h1v1h-1zM483 146h1v1h-1zM493 146h1v1h-1zM505 146h13v1h-13zM519 146h8v1h-8zM350 147h1v1h-1zM352 147h1v1h-1zM358 147h1v1h-1zM388 147h1v1h-1zM390 147h1v1h-1zM408 147h2v1h-2zM412 147h1v1h-1zM418 147h1v1h-1zM428 147h2v1h-2zM434 147h4v1h-4zM442 147h4v1h-4zM447 147h1v1h-1zM461 147h2v1h-2zM471 147h1v1h-1zM481 147h1v1h-1zM483 147h12v1h-12zM497 147h6v1h-6zM506 147h12v1h-12zM520 147h7v1h-7zM359 148h2v1h-2zM388 148h1v1h-1zM391 148h1v1h-1zM408 148h1v1h-1zM410 148h2v1h-2zM418 148h1v1h-1zM429 148h1v1h-1zM438 148h2v1h-2zM441 148h1v1h-1zM448 148h1v1h-1zM456 148h1v1h-1zM461 148h1v1h-1zM463 148h1v1h-1zM471 148h1v1h-1zM481 148h22v1h-22zM507 148h10v1h-10zM520 148h7v1h-7zM352 149h1v1h-1zM361 149h2v1h-2zM368 149h1v1h-1zM388 149h1v1h-1zM391 149h1v1h-1zM409 149h1v1h-1zM418 149h1v1h-1zM428 149h1v1h-1zM439 149h1v1h-1zM441 149h2v1h-2zM448 149h1v1h-1zM451 149h1v1h-1zM460 149h1v1h-1zM463 149h1v1h-1zM469 149h2v1h-2zM472 149h1v1h-1zM479 149h24v1h-24zM508 149h8v1h-8zM520 149h4v1h-4zM363 150h1v1h-1zM408 150h1v1h-1zM417 150h1v1h-1zM428 150h1v1h-1zM435 150h1v1h-1zM437 150h6v1h-6zM449 150h1v1h-1zM454 150h1v1h-1zM457 150h3v1h-3zM464 150h5v1h-5zM472 150h2v1h-2zM478 150h1v1h-1zM482 150h21v1h-21zM505 150h2v1h-2zM510 150h6v1h-6zM520 150h1v1h-1zM363 151h1v1h-1zM402 151h2v1h-2zM408 151h1v1h-1zM417 151h1v1h-1zM428 151h1v1h-1zM437 151h4v1h-4zM442 151h2v1h-2zM449 151h3v1h-3zM456 151h1v1h-1zM467 151h1v1h-1zM473 151h6v1h-6zM483 151h17v1h-17zM503 151h2v1h-2zM506 151h1v1h-1zM511 151h4v1h-4zM364 152h1v1h-1zM402 152h1v1h-1zM404 152h4v1h-4zM417 152h1v1h-1zM428 152h1v1h-1zM434 152h3v1h-3zM438 152h5v1h-5zM452 152h7v1h-7zM466 152h1v1h-1zM474 152h2v1h-2zM479 152h2v1h-2zM483 152h9v1h-9zM493 152h3v1h-3zM498 152h2v1h-2zM503 152h1v1h-1zM508 152h7v1h-7zM365 153h1v1h-1zM401 153h1v1h-1zM407 153h1v1h-1zM418 153h1v1h-1zM427 153h1v1h-1zM435 153h8v1h-8zM449 153h1v1h-1zM453 153h1v1h-1zM458 153h1v1h-1zM466 153h1v1h-1zM473 153h1v1h-1zM480 153h1v1h-1zM484 153h3v1h-3zM488 153h4v1h-4zM498 153h3v1h-3zM508 153h6v1h-6zM365 154h1v1h-1zM401 154h1v1h-1zM408 154h1v1h-1zM418 154h1v1h-1zM427 154h1v1h-1zM436 154h7v1h-7zM452 154h1v1h-1zM459 154h1v1h-1zM467 154h1v1h-1zM473 154h1v1h-1zM476 154h1v1h-1zM481 154h1v1h-1zM484 154h3v1h-3zM488 154h5v1h-5zM494 154h1v1h-1zM498 154h4v1h-4zM508 154h5v1h-5zM366 155h2v1h-2zM399 155h2v1h-2zM408 155h2v1h-2zM418 155h1v1h-1zM426 155h1v1h-1zM428 155h1v1h-1zM436 155h7v1h-7zM452 155h1v1h-1zM459 155h2v1h-2zM466 155h1v1h-1zM473 155h1v1h-1zM481 155h1v1h-1zM483 155h4v1h-4zM488 155h8v1h-8zM499 155h4v1h-4zM506 155h1v1h-1zM511 155h1v1h-1zM410 156h2v1h-2zM414 156h3v1h-3zM419 156h1v1h-1zM424 156h2v1h-2zM428 156h1v1h-1zM434 156h2v1h-2zM437 156h6v1h-6zM452 156h1v1h-1zM461 156h2v1h-2zM464 156h2v1h-2zM473 156h1v1h-1zM482 156h3v1h-3zM486 156h1v1h-1zM489 156h7v1h-7zM501 156h2v1h-2zM506 156h2v1h-2zM412 157h2v1h-2zM417 157h5v1h-5zM423 157h1v1h-1zM429 157h5v1h-5zM436 157h3v1h-3zM440 157h2v1h-2zM443 157h1v1h-1zM447 157h2v1h-2zM451 157h1v1h-1zM463 157h1v1h-1zM474 157h1v1h-1zM490 157h7v1h-7zM507 157h1v1h-1zM411 158h1v1h-1zM420 158h1v1h-1zM422 158h1v1h-1zM432 158h1v1h-1zM436 158h1v1h-1zM443 158h4v1h-4zM449 158h2v1h-2zM463 158h1v1h-1zM465 158h1v1h-1zM471 158h4v1h-4zM481 158h2v1h-2zM493 158h1v1h-1zM411 159h1v1h-1zM421 159h1v1h-1zM432 159h1v1h-1zM435 159h1v1h-1zM444 159h2v1h-2zM450 159h1v1h-1zM464 159h7v1h-7zM475 159h1v1h-1zM477 159h4v1h-4zM483 159h1v1h-1zM410 160h1v1h-1zM421 160h1v1h-1zM433 160h1v1h-1zM436 160h1v1h-1zM444 160h1v1h-1zM447 160h1v1h-1zM450 160h1v1h-1zM463 160h2v1h-2zM475 160h1v1h-1zM477 160h1v1h-1zM484 160h2v1h-2zM410 161h1v1h-1zM419 161h2v1h-2zM433 161h1v1h-1zM444 161h3v1h-3zM449 161h2v1h-2zM460 161h3v1h-3zM464 161h1v1h-1zM476 161h1v1h-1zM410 162h1v1h-1zM418 162h1v1h-1zM421 162h1v1h-1zM433 162h5v1h-5zM442 162h2v1h-2zM445 162h1v1h-1zM450 162h2v1h-2zM455 162h2v1h-2zM460 162h1v1h-1zM465 162h1v1h-1zM476 162h1v1h-1zM409 163h1v1h-1zM417 163h1v1h-1zM422 163h1v1h-1zM430 163h1v1h-1zM432 163h1v1h-1zM438 163h4v1h-4zM446 163h1v1h-1zM452 163h3v1h-3zM457 163h3v1h-3zM465 163h1v1h-1zM475 163h1v1h-1zM409 164h1v1h-1zM417 164h1v1h-1zM423 164h1v1h-1zM430 164h1v1h-1zM432 164h1v1h-1zM441 164h1v1h-1zM444 164h1v1h-1zM452 164h1v1h-1zM459 164h1v1h-1zM466 164h1v1h-1zM475 164h1v1h-1zM407 165h2v1h-2zM416 165h1v1h-1zM424 165h1v1h-1zM430 165h2v1h-2zM441 165h1v1h-1zM452 165h1v1h-1zM460 165h1v1h-1zM467 165h1v1h-1zM475 165h2v1h-2zM400 166h2v1h-2zM406 166h2v1h-2zM414 166h2v1h-2zM425 166h2v1h-2zM428 166h5v1h-5zM442 166h1v1h-1zM447 166h1v1h-1zM451 166h1v1h-1zM461 166h1v1h-1zM468 166h1v1h-1zM474 166h1v1h-1zM402 167h4v1h-4zM408 167h1v1h-1zM413 167h1v1h-1zM425 167h3v1h-3zM433 167h1v1h-1zM442 167h1v1h-1zM445 167h2v1h-2zM450 167h1v1h-1zM461 167h1v1h-1zM469 167h1v1h-1zM474 167h1v1h-1zM408 168h4v1h-4zM413 168h1v1h-1zM425 168h2v1h-2zM429 168h2v1h-2zM433 168h1v1h-1zM441 168h1v1h-1zM443 168h2v1h-2zM447 168h1v1h-1zM450 168h1v1h-1zM461 168h1v1h-1zM470 168h1v1h-1zM473 168h7v1h-7zM409 169h1v1h-1zM412 169h2v1h-2zM426 169h1v1h-1zM434 169h2v1h-2zM440 169h1v1h-1zM447 169h3v1h-3zM461 169h1v1h-1zM471 169h3v1h-3zM409 170h1v1h-1zM413 170h1v1h-1zM425 170h1v1h-1zM435 170h1v1h-1zM438 170h2v1h-2zM441 170h1v1h-1zM450 170h1v1h-1zM460 170h1v1h-1zM471 170h2v1h-2zM414 171h1v1h-1zM424 171h2v1h-2zM427 171h1v1h-1zM435 171h4v1h-4zM440 171h1v1h-1zM443 171h1v1h-1zM451 171h1v1h-1zM453 171h1v1h-1zM460 171h1v1h-1zM469 171h2v1h-2zM473 171h1v1h-1zM476 171h1v1h-1zM415 172h1v1h-1zM423 172h2v1h-2zM435 172h1v1h-1zM441 172h1v1h-1zM444 172h1v1h-1zM451 172h1v1h-1zM454 172h1v1h-1zM460 172h1v1h-1zM466 172h3v1h-3zM471 172h1v1h-1zM474 172h1v1h-1zM415 173h1v1h-1zM421 173h4v1h-4zM427 173h2v1h-2zM435 173h1v1h-1zM442 173h2v1h-2zM451 173h6v1h-6zM459 173h3v1h-3zM464 173h2v1h-2zM472 173h1v1h-1zM416 174h1v1h-1zM419 174h2v1h-2zM424 174h2v1h-2zM435 174h1v1h-1zM437 174h1v1h-1zM443 174h1v1h-1zM450 174h1v1h-1zM457 174h2v1h-2zM462 174h2v1h-2zM472 174h2v1h-2zM476 174h1v1h-1zM416 175h4v1h-4zM422 175h1v1h-1zM425 175h1v1h-1zM429 175h1v1h-1zM434 175h1v1h-1zM443 175h1v1h-1zM450 175h1v1h-1zM458 175h1v1h-1zM463 175h3v1h-3zM471 175h3v1h-3zM416 176h1v1h-1zM422 176h2v1h-2zM425 176h2v1h-2zM432 176h2v1h-2zM443 176h1v1h-1zM449 176h1v1h-1zM458 176h1v1h-1zM466 176h1v1h-1zM473 176h1v1h-1zM416 177h1v1h-1zM420 177h1v1h-1zM426 177h6v1h-6zM433 177h1v1h-1zM441 177h4v1h-4zM448 177h1v1h-1zM458 177h1v1h-1zM466 177h1v1h-1zM472 177h1v1h-1zM416 178h1v1h-1zM420 178h2v1h-2zM427 178h1v1h-1zM431 178h1v1h-1zM433 178h1v1h-1zM435 178h1v1h-1zM439 178h2v1h-2zM445 178h3v1h-3zM458 178h1v1h-1zM466 178h1v1h-1zM472 178h1v1h-1zM416 179h1v1h-1zM418 179h3v1h-3zM424 179h1v1h-1zM427 179h1v1h-1zM432 179h2v1h-2zM435 179h1v1h-1zM439 179h1v1h-1zM444 179h1v1h-1zM447 179h1v1h-1zM457 179h1v1h-1zM465 179h1v1h-1zM519 179h2v1h-2zM427 180h1v1h-1zM429 180h1v1h-1zM431 180h1v1h-1zM433 180h1v1h-1zM439 180h1v1h-1zM448 180h1v1h-1zM451 180h1v1h-1zM453 180h2v1h-2zM457 180h1v1h-1zM465 180h3v1h-3zM519 180h2v1h-2zM427 181h1v1h-1zM430 181h1v1h-1zM432 181h1v1h-1zM434 181h2v1h-2zM438 181h1v1h-1zM448 181h1v1h-1zM456 181h2v1h-2zM463 181h1v1h-1zM468 181h1v1h-1zM417 182h6v1h-6zM426 182h1v1h-1zM428 182h2v1h-2zM432 182h1v1h-1zM436 182h4v1h-4zM444 182h1v1h-1zM448 182h1v1h-1zM454 182h1v1h-1zM456 182h1v1h-1zM459 182h1v1h-1zM421 183h1v1h-1zM427 183h2v1h-2zM431 183h1v1h-1zM436 183h1v1h-1zM440 183h1v1h-1zM449 183h1v1h-1zM456 183h1v1h-1zM458 183h1v1h-1zM416 184h1v1h-1zM422 184h1v1h-1zM425 184h2v1h-2zM431 184h1v1h-1zM435 184h1v1h-1zM440 184h2v1h-2zM449 184h1v1h-1zM452 184h6v1h-6zM413 185h2v1h-2zM416 185h1v1h-1zM418 185h1v1h-1zM422 185h1v1h-1zM425 185h1v1h-1zM434 185h2v1h-2zM441 185h1v1h-1zM450 185h2v1h-2zM453 185h1v1h-1zM457 185h2v1h-2zM414 186h3v1h-3zM422 186h2v1h-2zM425 186h1v1h-1zM427 186h7v1h-7zM441 186h1v1h-1zM448 186h3v1h-3zM457 186h3v1h-3zM412 187h4v1h-4zM417 187h2v1h-2zM420 187h1v1h-1zM422 187h1v1h-1zM424 187h3v1h-3zM428 187h1v1h-1zM433 187h1v1h-1zM442 187h1v1h-1zM448 187h1v1h-1zM452 187h1v1h-1zM455 187h1v1h-1zM458 187h1v1h-1zM413 188h1v1h-1zM417 188h3v1h-3zM424 188h1v1h-1zM427 188h1v1h-1zM433 188h1v1h-1zM442 188h2v1h-2zM446 188h2v1h-2zM449 188h1v1h-1zM411 189h4v1h-4zM416 189h3v1h-3zM420 189h1v1h-1zM423 189h3v1h-3zM429 189h1v1h-1zM434 189h2v1h-2zM443 189h3v1h-3zM449 189h1v1h-1zM451 189h1v1h-1zM411 190h2v1h-2zM414 190h6v1h-6zM424 190h1v1h-1zM427 190h2v1h-2zM434 190h1v1h-1zM441 190h2v1h-2zM446 190h1v1h-1zM450 190h1v1h-1zM455 190h1v1h-1zM414 191h4v1h-4zM419 191h1v1h-1zM421 191h1v1h-1zM423 191h3v1h-3zM428 191h2v1h-2zM433 191h1v1h-1zM438 191h1v1h-1zM442 191h1v1h-1zM448 191h1v1h-1zM450 191h1v1h-1zM411 192h4v1h-4zM416 192h1v1h-1zM419 192h1v1h-1zM424 192h2v1h-2zM428 192h3v1h-3zM433 192h3v1h-3zM442 192h1v1h-1zM450 192h1v1h-1zM410 193h2v1h-2zM413 193h1v1h-1zM416 193h2v1h-2zM425 193h1v1h-1zM433 193h1v1h-1zM436 193h2v1h-2zM439 193h4v1h-4zM451 193h1v1h-1zM407 194h1v1h-1zM410 194h1v1h-1zM425 194h1v1h-1zM431 194h1v1h-1zM438 194h1v1h-1zM442 194h1v1h-1zM449 194h2v1h-2zM452 194h1v1h-1zM385 195h5v1h-5zM405 195h1v1h-1zM412 195h1v1h-1zM415 195h1v1h-1zM417 195h2v1h-2zM423 195h7v1h-7zM432 195h1v1h-1zM438 195h1v1h-1zM443 195h2v1h-2zM448 195h1v1h-1zM451 195h3v1h-3zM389 196h1v1h-1zM394 196h1v1h-1zM396 196h1v1h-1zM398 196h2v1h-2zM406 196h1v1h-1zM418 196h7v1h-7zM428 196h1v1h-1zM430 196h1v1h-1zM436 196h2v1h-2zM443 196h1v1h-1zM447 196h1v1h-1zM451 196h1v1h-1zM389 197h1v1h-1zM402 197h1v1h-1zM406 197h2v1h-2zM411 197h4v1h-4zM417 197h1v1h-1zM422 197h1v1h-1zM431 197h2v1h-2zM435 197h3v1h-3zM444 197h2v1h-2zM447 197h1v1h-1zM390 198h1v1h-1zM395 198h1v1h-1zM403 198h3v1h-3zM407 198h4v1h-4zM414 198h1v1h-1zM417 198h1v1h-1zM422 198h1v1h-1zM427 198h1v1h-1zM433 198h3v1h-3zM446 198h1v1h-1zM390 199h1v1h-1zM407 199h1v1h-1zM413 199h1v1h-1zM415 199h2v1h-2zM421 199h1v1h-1zM426 199h2v1h-2zM435 199h1v1h-1zM444 199h1v1h-1zM446 199h1v1h-1zM448 199h1v1h-1zM390 200h1v1h-1zM396 200h1v1h-1zM400 200h2v1h-2zM406 200h1v1h-1zM409 200h1v1h-1zM411 200h1v1h-1zM415 200h1v1h-1zM419 200h1v1h-1zM421 200h1v1h-1zM435 200h1v1h-1zM437 200h1v1h-1zM444 200h3v1h-3zM390 201h1v1h-1zM397 201h1v1h-1zM400 201h1v1h-1zM405 201h2v1h-2zM408 201h1v1h-1zM421 201h1v1h-1zM427 201h2v1h-2zM432 201h1v1h-1zM435 201h1v1h-1zM445 201h2v1h-2zM390 202h1v1h-1zM398 202h2v1h-2zM402 202h2v1h-2zM406 202h1v1h-1zM412 202h1v1h-1zM415 202h1v1h-1zM421 202h1v1h-1zM432 202h1v1h-1zM435 202h1v1h-1zM446 202h1v1h-1zM391 203h1v1h-1zM399 203h1v1h-1zM405 203h1v1h-1zM409 203h1v1h-1zM413 203h2v1h-2zM421 203h1v1h-1zM429 203h1v1h-1zM435 203h2v1h-2zM445 203h1v1h-1zM450 203h1v1h-1zM391 204h2v1h-2zM397 204h3v1h-3zM403 204h3v1h-3zM411 204h1v1h-1zM422 204h1v1h-1zM435 204h1v1h-1zM437 204h1v1h-1zM445 204h1v1h-1zM392 205h5v1h-5zM398 205h1v1h-1zM400 205h3v1h-3zM405 205h1v1h-1zM412 205h1v1h-1zM417 205h1v1h-1zM422 205h2v1h-2zM428 205h1v1h-1zM432 205h1v1h-1zM435 205h1v1h-1zM438 205h7v1h-7zM446 205h1v1h-1zM393 206h2v1h-2zM405 206h1v1h-1zM415 206h2v1h-2zM421 206h1v1h-1zM423 206h1v1h-1zM434 206h2v1h-2zM443 206h1v1h-1zM447 206h1v1h-1zM454 206h2v1h-2zM393 207h1v1h-1zM395 207h1v1h-1zM400 207h1v1h-1zM405 207h1v1h-1zM413 207h1v1h-1zM420 207h1v1h-1zM423 207h1v1h-1zM427 207h2v1h-2zM430 207h4v1h-4zM443 207h1v1h-1zM447 207h1v1h-1zM454 207h2v1h-2zM396 208h1v1h-1zM406 208h2v1h-2zM415 208h1v1h-1zM424 208h3v1h-3zM428 208h3v1h-3zM432 208h1v1h-1zM435 208h1v1h-1zM442 208h1v1h-1zM448 208h1v1h-1zM395 209h1v1h-1zM397 209h1v1h-1zM408 209h1v1h-1zM410 209h1v1h-1zM420 209h2v1h-2zM424 209h1v1h-1zM427 209h1v1h-1zM430 209h4v1h-4zM435 209h2v1h-2zM441 209h1v1h-1zM448 209h2v1h-2zM397 210h1v1h-1zM408 210h1v1h-1zM419 210h1v1h-1zM422 210h2v1h-2zM432 210h2v1h-2zM439 210h2v1h-2zM396 211h3v1h-3zM408 211h1v1h-1zM410 211h4v1h-4zM418 211h3v1h-3zM424 211h3v1h-3zM432 211h2v1h-2zM438 211h3v1h-3zM448 211h1v1h-1zM397 212h1v1h-1zM401 212h1v1h-1zM408 212h2v1h-2zM414 212h1v1h-1zM418 212h1v1h-1zM423 212h1v1h-1zM426 212h5v1h-5zM434 212h2v1h-2zM438 212h3v1h-3zM442 212h1v1h-1zM444 212h1v1h-1zM447 212h2v1h-2zM396 213h1v1h-1zM408 213h1v1h-1zM415 213h1v1h-1zM417 213h2v1h-2zM420 213h1v1h-1zM423 213h1v1h-1zM430 213h1v1h-1zM435 213h5v1h-5zM442 213h1v1h-1zM444 213h2v1h-2zM396 214h1v1h-1zM406 214h1v1h-1zM408 214h1v1h-1zM415 214h2v1h-2zM431 214h1v1h-1zM434 214h2v1h-2zM439 214h2v1h-2zM442 214h2v1h-2zM396 215h1v1h-1zM406 215h1v1h-1zM408 215h1v1h-1zM416 215h1v1h-1zM431 215h1v1h-1zM433 215h1v1h-1zM437 215h2v1h-2zM440 215h1v1h-1zM445 215h2v1h-2zM396 216h1v1h-1zM408 216h1v1h-1zM416 216h1v1h-1zM431 216h1v1h-1zM433 216h1v1h-1zM435 216h1v1h-1zM439 216h3v1h-3zM396 217h1v1h-1zM408 217h1v1h-1zM416 217h1v1h-1zM420 217h1v1h-1zM432 217h2v1h-2zM436 217h1v1h-1zM441 217h1v1h-1zM445 217h1v1h-1zM396 218h1v1h-1zM408 218h1v1h-1zM416 218h1v1h-1zM432 218h1v1h-1zM441 218h1v1h-1zM396 219h1v1h-1zM408 219h1v1h-1zM417 219h1v1h-1zM425 219h1v1h-1zM428 219h5v1h-5zM435 219h1v1h-1zM442 219h3v1h-3zM407 220h1v1h-1zM417 220h1v1h-1zM429 220h2v1h-2zM432 220h1v1h-1zM437 220h1v1h-1zM407 221h1v1h-1zM418 221h6v1h-6zM428 221h1v1h-1zM433 221h6v1h-6zM442 221h1v1h-1zM406 222h1v1h-1zM418 222h1v1h-1zM420 222h1v1h-1zM423 222h1v1h-1zM427 222h1v1h-1zM436 222h1v1h-1zM405 223h1v1h-1zM416 223h2v1h-2zM423 223h1v1h-1zM426 223h1v1h-1zM435 223h3v1h-3zM405 224h1v1h-1zM417 224h1v1h-1zM423 224h1v1h-1zM426 224h1v1h-1zM438 224h8v1h-8zM417 225h1v1h-1zM419 225h1v1h-1zM424 225h2v1h-2zM436 225h1v1h-1zM438 225h1v1h-1zM417 226h1v1h-1zM426 226h1v1h-1zM432 226h1v1h-1zM438 226h1v1h-1zM417 227h1v1h-1zM426 227h1v1h-1zM429 227h1v1h-1zM438 227h1v1h-1zM454 227h2v1h-2zM415 228h2v1h-2zM420 228h1v1h-1zM427 228h1v1h-1zM439 228h1v1h-1zM427 229h1v1h-1zM438 229h2v1h-2zM421 230h1v1h-1zM428 230h1v1h-1zM436 230h2v1h-2zM428 231h1v1h-1zM436 231h1v1h-1zM428 232h1v1h-1zM436 232h1v1h-1zM426 233h3v1h-3zM435 233h3v1h-3zM429 234h6v1h-6zM438 234h5v1h-5zM425 235h1v1h-1zM432 235h1v1h-1zM439 235h1v1h-1zM443 235h1v1h-1zM426 236h2v1h-2zM433 236h1v1h-1zM440 236h1v1h-1zM444 236h1v1h-1zM451 236h1v1h-1zM428 237h2v1h-2zM433 237h1v1h-1zM440 237h1v1h-1zM445 237h1v1h-1zM449 237h2v1h-2zM423 238h1v1h-1zM430 238h4v1h-4zM441 238h2v1h-2zM446 238h1v1h-1zM449 238h1v1h-1zM430 239h1v1h-1zM432 239h3v1h-3zM442 239h1v1h-1zM447 239h2v1h-2zM452 239h2v1h-2zM430 240h1v1h-1zM432 240h1v1h-1zM435 240h2v1h-2zM442 240h1v1h-1zM448 240h1v1h-1zM450 240h2v1h-2zM432 241h1v1h-1zM437 241h1v1h-1zM442 241h1v1h-1zM449 241h2v1h-2zM431 242h2v1h-2zM438 242h1v1h-1zM443 242h1v1h-1zM445 242h1v1h-1zM448 242h2v1h-2zM455 242h1v1h-1zM427 243h1v1h-1zM431 243h2v1h-2zM434 243h1v1h-1zM439 243h1v1h-1zM443 243h1v1h-1zM446 243h2v1h-2zM455 243h1v1h-1zM431 244h1v1h-1zM436 244h1v1h-1zM440 244h1v1h-1zM444 244h2v1h-2zM448 244h1v1h-1zM454 244h1v1h-1zM432 245h2v1h-2zM438 245h1v1h-1zM441 245h4v1h-4zM451 245h3v1h-3zM433 246h1v1h-1zM436 246h2v1h-2zM439 246h1v1h-1zM442 246h2v1h-2zM445 246h6v1h-6zM459 246h2v1h-2zM434 247h4v1h-4zM440 247h2v1h-2zM443 247h1v1h-1zM458 247h1v1h-1zM461 247h3v1h-3zM443 248h1v1h-1zM458 248h1v1h-1zM443 249h1v1h-1zM457 249h1v1h-1zM436 250h1v1h-1zM444 250h1v1h-1zM456 250h1v1h-1zM445 251h1v1h-1zM455 251h1v1h-1zM437 252h1v1h-1zM446 252h1v1h-1zM451 252h1v1h-1zM455 252h1v1h-1zM471 252h1v1h-1zM446 253h1v1h-1zM455 253h1v1h-1zM458 253h1v1h-1zM464 253h1v1h-1zM466 253h1v1h-1zM469 253h2v1h-2zM473 253h1v1h-1zM447 254h6v1h-6zM454 254h1v1h-1zM457 254h1v1h-1zM466 254h4v1h-4zM471 254h1v1h-1zM453 255h3v1h-3zM458 255h5v1h-5zM464 255h2v1h-2zM468 255h1v1h-1zM473 255h2v1h-2zM456 256h2v1h-2zM459 256h2v1h-2zM463 256h4v1h-4zM468 256h1v1h-1zM472 256h2v1h-2zM458 257h3v1h-3zM462 257h4v1h-4zM468 257h2v1h-2zM472 257h1v1h-1zM449 258h2v1h-2zM459 258h2v1h-2zM462 258h2v1h-2zM469 258h1v1h-1zM471 258h2v1h-2zM445 259h4v1h-4zM451 259h2v1h-2zM458 259h1v1h-1zM460 259h2v1h-2zM443 260h2v1h-2zM453 260h2v1h-2zM460 260h7v1h-7zM472 260h3v1h-3zM455 261h5v1h-5zM467 261h5v1h-5zM452 270h1v1h-1zM491 287h1v1h-1zM490 288h1v1h-1zM489 289h1v1h-1zM483 290h1v1h-1zM488 290h1v1h-1zM484 291h1v1h-1zM486 291h2v1h-2zM494 291h1v1h-1zM484 292h2v1h-2zM479 293h1v1h-1zM482 293h2v1h-2zM496 293h1v1h-1zM499 293h1v1h-1zM480 294h2v1h-2zM483 294h1v1h-1zM490 294h1v1h-1zM478 295h2v1h-2zM483 295h1v1h-1zM495 295h2v1h-2zM500 295h1v1h-1zM477 296h1v1h-1zM485 296h1v1h-1zM497 297h1v1h-1zM497 298h1v1h-1zM482 299h1v1h-1zM487 299h1v1h-1zM479 300h1v1h-1zM485 300h1v1h-1zM487 300h1v1h-1zM482 301h2v1h-2zM485 301h1v1h-1zM481 302h2v1h-2zM482 303h1v1h-1zM486 303h1v1h-1zM484 304h1v1h-1zM495 304h1v1h-1zM508 306h1v1h-1zM503 307h1v1h-1zM507 307h1v1h-1zM506 308h1v1h-1zM495 309h1v1h-1zM498 309h8v1h-8zM495 310h3v1h-3zM502 312h1v1h-1zM498 315h1v1h-1zM510 315h1v1h-1zM513 315h1v1h-1zM500 316h1v1h-1zM511 316h1v1h-1zM513 316h1v1h-1zM517 316h1v1h-1zM510 317h1v1h-1zM512 317h3v1h-3zM509 318h1v1h-1zM512 318h2v1h-2zM500 319h1v1h-1zM512 319h1v1h-1zM515 319h2v1h-2zM509 320h1v1h-1zM513 320h3v1h-3zM510 321h1v1h-1zM513 321h1v1h-1zM510 322h1v1h-1zM513 322h1v1h-1zM514 323h1v1h-1zM528 323h3v1h-3zM513 324h1v1h-1zM526 324h2v1h-2zM531 324h2v1h-2zM524 325h2v1h-2zM536 325h4v1h-4zM524 326h1v1h-1zM536 326h7v1h-7zM523 327h1v1h-1zM540 327h3v1h-3zM511 328h2v1h-2zM522 328h2v1h-2zM513 329h4v1h-4zM520 329h2v1h-2zM517 330h3v1h-3zM546 331h5v1h-5zM546 332h5v1h-5zM556 352h3v1h-3zM569 352h3v1h-3zM553 353h3v1h-3zM569 353h3v1h-3zM543 354h4v1h-4zM551 354h2v1h-2zM569 354h3v1h-3zM518 355h1v1h-1zM541 355h2v1h-2zM547 355h4v1h-4zM519 356h1v1h-1zM541 356h1v1h-1zM520 357h2v1h-2zM541 357h1v1h-1zM522 358h1v1h-1zM541 358h1v1h-1zM523 359h1v1h-1zM540 359h1v1h-1zM524 360h2v1h-2zM540 360h1v1h-1zM526 361h1v1h-1zM540 361h1v1h-1zM527 362h1v1h-1zM539 362h1v1h-1zM527 363h1v1h-1zM539 363h1v1h-1zM528 364h1v1h-1zM538 364h1v1h-1zM528 365h1v1h-1zM538 365h1v1h-1zM529 366h2v1h-2zM536 366h2v1h-2zM531 367h2v1h-2zM534 367h2v1h-2zM538 367h1v1h-1zM565 367h1v1h-1zM533 368h1v1h-1zM539 368h1v1h-1zM540 369h1v1h-1zM517 370h1v1h-1zM541 370h1v1h-1zM514 371h1v1h-1zM542 371h1v1h-1zM543 372h1v1h-1zM544 373h2v1h-2zM526 374h1v1h-1zM546 374h1v1h-1zM517 375h1v1h-1zM521 375h1v1h-1zM547 375h1v1h-1zM547 376h1v1h-1zM520 377h1v1h-1zM548 377h1v1h-1zM559 377h5v1h-5zM568 377h2v1h-2zM540 378h2v1h-2zM548 378h1v1h-1zM556 378h3v1h-3zM562 378h1v1h-1zM564 378h4v1h-4zM537 379h3v1h-3zM541 379h1v1h-1zM549 379h1v1h-1zM555 379h1v1h-1zM562 379h3v1h-3zM535 380h2v1h-2zM542 380h1v1h-1zM550 380h1v1h-1zM554 380h1v1h-1zM560 380h3v1h-3zM534 381h1v1h-1zM542 381h1v1h-1zM551 381h1v1h-1zM553 381h2v1h-2zM559 381h1v1h-1zM533 382h1v1h-1zM542 382h1v1h-1zM552 382h1v1h-1zM557 382h2v1h-2zM523 383h2v1h-2zM532 383h1v1h-1zM543 383h1v1h-1zM550 383h2v1h-2zM557 383h1v1h-1zM521 384h2v1h-2zM525 384h4v1h-4zM531 384h1v1h-1zM543 384h1v1h-1zM546 384h1v1h-1zM549 384h1v1h-1zM551 384h1v1h-1zM556 384h1v1h-1zM519 385h2v1h-2zM529 385h2v1h-2zM543 385h1v1h-1zM549 385h2v1h-2zM552 385h2v1h-2zM555 385h1v1h-1zM560 385h1v1h-1zM515 386h4v1h-4zM544 386h1v1h-1zM548 386h1v1h-1zM550 386h1v1h-1zM554 386h2v1h-2zM511 387h4v1h-4zM544 387h1v1h-1zM547 387h1v1h-1zM549 387h1v1h-1zM554 387h1v1h-1zM544 388h1v1h-1zM546 388h3v1h-3zM554 388h2v1h-2zM545 389h2v1h-2zM551 389h1v1h-1zM554 389h1v1h-1zM538 390h8v1h-8zM554 390h2v1h-2zM562 390h2v1h-2zM537 391h1v1h-1zM552 391h1v1h-1zM554 391h1v1h-1zM556 391h1v1h-1zM536 392h1v1h-1zM554 392h1v1h-1zM535 393h1v1h-1zM540 393h1v1h-1zM554 393h1v1h-1zM534 394h1v1h-1zM536 394h1v1h-1zM554 394h1v1h-1zM560 394h1v1h-1zM520 395h4v1h-4zM533 395h1v1h-1zM540 395h2v1h-2zM555 395h1v1h-1zM517 396h3v1h-3zM524 396h2v1h-2zM531 396h2v1h-2zM555 396h1v1h-1zM562 396h1v1h-1zM526 397h2v1h-2zM529 397h2v1h-2zM555 397h1v1h-1zM526 398h1v1h-1zM528 398h1v1h-1zM532 398h2v1h-2zM536 398h1v1h-1zM541 398h1v1h-1zM555 398h1v1h-1zM523 399h1v1h-1zM525 399h4v1h-4zM532 399h3v1h-3zM536 399h1v1h-1zM539 399h3v1h-3zM556 399h1v1h-1zM574 399h1v1h-1zM524 400h4v1h-4zM533 400h4v1h-4zM538 400h5v1h-5zM556 400h1v1h-1zM574 400h1v1h-1zM517 401h1v1h-1zM524 401h4v1h-4zM533 401h6v1h-6zM541 401h1v1h-1zM557 401h1v1h-1zM574 401h2v1h-2zM523 402h1v1h-1zM526 402h3v1h-3zM534 402h4v1h-4zM541 402h1v1h-1zM557 402h1v1h-1zM527 403h4v1h-4zM533 403h7v1h-7zM558 403h1v1h-1zM572 403h1v1h-1zM575 403h1v1h-1zM527 404h4v1h-4zM533 404h4v1h-4zM542 404h2v1h-2zM558 404h1v1h-1zM574 404h1v1h-1zM525 405h1v1h-1zM534 405h1v1h-1zM543 405h1v1h-1zM559 405h1v1h-1zM525 406h2v1h-2zM533 406h2v1h-2zM536 406h1v1h-1zM542 406h1v1h-1zM549 406h1v1h-1zM559 406h1v1h-1zM525 407h5v1h-5zM533 407h1v1h-1zM536 407h1v1h-1zM539 407h1v1h-1zM542 407h1v1h-1zM559 407h1v1h-1zM517 408h1v1h-1zM526 408h3v1h-3zM536 408h1v1h-1zM540 408h4v1h-4zM559 408h1v1h-1zM527 409h2v1h-2zM540 409h3v1h-3zM551 409h1v1h-1zM559 409h1v1h-1zM559 410h1v1h-1zM571 410h1v1h-1zM530 411h1v1h-1zM560 411h1v1h-1zM517 412h1v1h-1zM523 412h1v1h-1zM526 412h1v1h-1zM539 412h1v1h-1zM560 412h1v1h-1zM514 413h1v1h-1zM523 413h1v1h-1zM525 413h1v1h-1zM532 413h1v1h-1zM560 413h1v1h-1zM519 414h1v1h-1zM534 414h1v1h-1zM550 414h1v1h-1zM560 414h1v1h-1zM516 415h1v1h-1zM551 415h1v1h-1zM560 415h1v1h-1zM552 416h1v1h-1zM560 416h1v1h-1zM519 417h2v1h-2zM542 417h2v1h-2zM560 417h1v1h-1zM534 418h1v1h-1zM560 418h1v1h-1zM576 418h1v1h-1zM542 419h3v1h-3zM546 419h1v1h-1zM560 419h1v1h-1zM574 419h2v1h-2zM528 420h1v1h-1zM539 420h3v1h-3zM544 420h1v1h-1zM548 420h1v1h-1zM560 420h3v1h-3zM570 420h4v1h-4zM540 421h1v1h-1zM558 421h2v1h-2zM563 421h7v1h-7zM517 422h1v1h-1zM538 422h1v1h-1zM556 422h2v1h-2zM540 423h1v1h-1zM544 423h1v1h-1zM555 423h1v1h-1zM541 424h1v1h-1zM556 424h1v1h-1zM541 425h1v1h-1zM556 425h1v1h-1zM517 426h7v1h-7zM527 426h1v1h-1zM533 426h4v1h-4zM557 426h1v1h-1zM524 427h9v1h-9zM536 427h4v1h-4zM557 427h1v1h-1zM540 428h2v1h-2zM558 428h1v1h-1zM542 429h1v1h-1zM558 429h1v1h-1zM526 430h1v1h-1zM543 430h1v1h-1zM559 430h2v1h-2zM526 431h1v1h-1zM544 431h1v1h-1zM559 431h2v1h-2zM525 432h1v1h-1zM529 432h1v1h-1zM532 432h3v1h-3zM545 432h1v1h-1zM559 432h2v1h-2zM525 433h1v1h-1zM531 433h2v1h-2zM546 433h1v1h-1zM559 433h2v1h-2zM525 434h1v1h-1zM531 434h1v1h-1zM534 434h1v1h-1zM547 434h1v1h-1zM558 434h2v1h-2zM513 435h1v1h-1zM525 435h1v1h-1zM533 435h3v1h-3zM548 435h1v1h-1zM558 435h2v1h-2zM525 436h1v1h-1zM528 436h7v1h-7zM548 436h1v1h-1zM557 436h2v1h-2zM526 437h1v1h-1zM528 437h8v1h-8zM549 437h1v1h-1zM557 437h2v1h-2zM526 438h1v1h-1zM550 438h2v1h-2zM556 438h2v1h-2zM526 439h1v1h-1zM552 439h3v1h-3zM556 439h2v1h-2zM526 440h1v1h-1zM555 440h2v1h-2zM510 441h1v1h-1zM525 441h1v1h-1zM555 441h1v1h-1zM557 441h2v1h-2zM567 441h2v1h-2zM524 442h1v1h-1zM538 442h1v1h-1zM556 442h1v1h-1zM559 442h2v1h-2zM563 442h4v1h-4zM569 442h2v1h-2zM516 443h1v1h-1zM523 443h1v1h-1zM556 443h1v1h-1zM561 443h2v1h-2zM571 443h2v1h-2zM579 443h2v1h-2zM511 444h1v1h-1zM523 444h1v1h-1zM557 444h1v1h-1zM573 444h2v1h-2zM577 444h2v1h-2zM524 445h1v1h-1zM534 445h2v1h-2zM557 445h1v1h-1zM575 445h2v1h-2zM524 446h1v1h-1zM539 446h1v1h-1zM558 446h1v1h-1zM525 447h1v1h-1zM536 447h1v1h-1zM557 447h1v1h-1zM525 448h1v1h-1zM557 448h1v1h-1zM578 448h2v1h-2zM525 449h1v1h-1zM556 449h1v1h-1zM575 449h3v1h-3zM524 450h1v1h-1zM556 450h1v1h-1zM572 450h3v1h-3zM524 451h1v1h-1zM534 451h1v1h-1zM555 451h1v1h-1zM570 451h2v1h-2zM579 451h2v1h-2zM524 452h1v1h-1zM555 452h1v1h-1zM568 452h2v1h-2zM580 452h5v1h-5zM521 453h1v1h-1zM524 453h1v1h-1zM554 453h1v1h-1zM557 453h1v1h-1zM565 453h3v1h-3zM580 453h5v1h-5zM523 454h1v1h-1zM554 454h1v1h-1zM563 454h2v1h-2zM580 454h4v1h-4zM523 455h1v1h-1zM553 455h1v1h-1zM561 455h2v1h-2zM580 455h4v1h-4zM523 456h1v1h-1zM553 456h1v1h-1zM560 456h1v1h-1zM583 456h1v1h-1zM524 457h1v1h-1zM554 457h1v1h-1zM559 457h1v1h-1zM524 458h1v1h-1zM554 458h1v1h-1zM557 458h2v1h-2zM562 458h1v1h-1zM525 459h1v1h-1zM555 459h2v1h-2zM525 460h2v1h-2zM555 460h1v1h-1zM572 460h7v1h-7zM526 461h1v1h-1zM555 461h1v1h-1zM572 461h7v1h-7zM526 462h2v1h-2zM555 462h1v1h-1zM573 462h6v1h-6zM528 463h1v1h-1zM555 463h1v1h-1zM573 463h6v1h-6zM528 464h1v1h-1zM555 464h1v1h-1zM524 465h1v1h-1zM528 465h3v1h-3zM552 465h4v1h-4zM501 466h1v1h-1zM530 466h1v1h-1zM546 466h6v1h-6zM555 466h1v1h-1zM501 467h1v1h-1zM531 467h1v1h-1zM542 467h4v1h-4zM555 467h1v1h-1zM501 468h1v1h-1zM530 468h1v1h-1zM532 468h1v1h-1zM538 468h4v1h-4zM556 468h1v1h-1zM497 469h1v1h-1zM500 469h1v1h-1zM502 469h1v1h-1zM532 469h1v1h-1zM535 469h3v1h-3zM547 469h1v1h-1zM556 469h1v1h-1zM500 470h3v1h-3zM533 470h2v1h-2zM556 470h1v1h-1zM494 471h1v1h-1zM500 471h1v1h-1zM502 471h1v1h-1zM531 471h2v1h-2zM556 471h1v1h-1zM494 472h1v1h-1zM500 472h1v1h-1zM502 472h1v1h-1zM529 472h2v1h-2zM551 472h1v1h-1zM556 472h2v1h-2zM500 473h4v1h-4zM528 473h1v1h-1zM556 473h1v1h-1zM558 473h1v1h-1zM500 474h1v1h-1zM503 474h1v1h-1zM528 474h1v1h-1zM556 474h1v1h-1zM559 474h1v1h-1zM485 475h1v1h-1zM501 475h1v1h-1zM504 475h2v1h-2zM529 475h1v1h-1zM556 475h1v1h-1zM560 475h1v1h-1zM485 476h1v1h-1zM489 476h1v1h-1zM501 476h1v1h-1zM504 476h1v1h-1zM506 476h1v1h-1zM529 476h1v1h-1zM555 476h1v1h-1zM561 476h1v1h-1zM485 477h1v1h-1zM502 477h1v1h-1zM504 477h1v1h-1zM507 477h1v1h-1zM529 477h1v1h-1zM555 477h1v1h-1zM562 477h1v1h-1zM478 478h1v1h-1zM480 478h1v1h-1zM485 478h1v1h-1zM502 478h1v1h-1zM504 478h1v1h-1zM508 478h1v1h-1zM520 478h1v1h-1zM529 478h1v1h-1zM555 478h1v1h-1zM563 478h2v1h-2zM571 478h6v1h-6zM479 479h1v1h-1zM486 479h1v1h-1zM503 479h1v1h-1zM505 479h1v1h-1zM509 479h1v1h-1zM518 479h4v1h-4zM524 479h1v1h-1zM530 479h1v1h-1zM546 479h1v1h-1zM555 479h1v1h-1zM565 479h4v1h-4zM571 479h6v1h-6zM486 480h1v1h-1zM503 480h1v1h-1zM505 480h1v1h-1zM510 480h3v1h-3zM516 480h2v1h-2zM519 480h1v1h-1zM522 480h1v1h-1zM530 480h1v1h-1zM555 480h1v1h-1zM569 480h8v1h-8zM486 481h1v1h-1zM503 481h1v1h-1zM505 481h1v1h-1zM513 481h3v1h-3zM520 481h1v1h-1zM523 481h2v1h-2zM528 481h2v1h-2zM555 481h1v1h-1zM572 481h5v1h-5zM486 482h1v1h-1zM503 482h1v1h-1zM505 482h1v1h-1zM522 482h1v1h-1zM525 482h1v1h-1zM527 482h1v1h-1zM554 482h1v1h-1zM572 482h5v1h-5zM486 483h1v1h-1zM503 483h1v1h-1zM505 483h1v1h-1zM524 483h3v1h-3zM554 483h1v1h-1zM572 483h1v1h-1zM486 484h1v1h-1zM503 484h1v1h-1zM506 484h1v1h-1zM516 484h1v1h-1zM519 484h5v1h-5zM526 484h1v1h-1zM554 484h1v1h-1zM472 485h1v1h-1zM486 485h1v1h-1zM503 485h1v1h-1zM506 485h1v1h-1zM513 485h7v1h-7zM553 485h1v1h-1zM472 486h1v1h-1zM486 486h1v1h-1zM503 486h1v1h-1zM506 486h7v1h-7zM520 486h1v1h-1zM522 486h1v1h-1zM524 486h1v1h-1zM553 486h1v1h-1zM473 487h1v1h-1zM485 487h2v1h-2zM503 487h1v1h-1zM505 487h2v1h-2zM523 487h1v1h-1zM552 487h1v1h-1zM473 488h1v1h-1zM485 488h1v1h-1zM503 488h3v1h-3zM552 488h1v1h-1zM474 489h1v1h-1zM485 489h1v1h-1zM503 489h1v1h-1zM505 489h1v1h-1zM551 489h1v1h-1zM474 490h1v1h-1zM485 490h1v1h-1zM502 490h1v1h-1zM504 490h1v1h-1zM526 490h1v1h-1zM551 490h1v1h-1zM474 491h1v1h-1zM485 491h1v1h-1zM499 491h1v1h-1zM502 491h1v1h-1zM504 491h1v1h-1zM522 491h1v1h-1zM550 491h1v1h-1zM475 492h1v1h-1zM485 492h1v1h-1zM502 492h3v1h-3zM550 492h3v1h-3zM475 493h1v1h-1zM486 493h1v1h-1zM502 493h3v1h-3zM548 493h3v1h-3zM553 493h1v1h-1zM473 494h2v1h-2zM486 494h1v1h-1zM498 494h4v1h-4zM505 494h4v1h-4zM544 494h4v1h-4zM554 494h2v1h-2zM471 495h4v1h-4zM479 495h1v1h-1zM486 495h1v1h-1zM496 495h2v1h-2zM500 495h2v1h-2zM505 495h3v1h-3zM509 495h4v1h-4zM519 495h1v1h-1zM523 495h1v1h-1zM541 495h3v1h-3zM556 495h2v1h-2zM455 496h1v1h-1zM470 496h2v1h-2zM475 496h4v1h-4zM486 496h1v1h-1zM494 496h2v1h-2zM498 496h2v1h-2zM508 496h4v1h-4zM513 496h3v1h-3zM540 496h1v1h-1zM558 496h1v1h-1zM469 497h2v1h-2zM479 497h2v1h-2zM486 497h1v1h-1zM492 497h2v1h-2zM495 497h3v1h-3zM510 497h2v1h-2zM516 497h3v1h-3zM540 497h1v1h-1zM559 497h2v1h-2zM457 498h1v1h-1zM460 498h2v1h-2zM467 498h2v1h-2zM470 498h1v1h-1zM481 498h2v1h-2zM486 498h1v1h-1zM491 498h1v1h-1zM493 498h2v1h-2zM511 498h1v1h-1zM519 498h2v1h-2zM524 498h3v1h-3zM539 498h1v1h-1zM561 498h2v1h-2zM462 499h2v1h-2zM466 499h1v1h-1zM470 499h2v1h-2zM483 499h2v1h-2zM486 499h1v1h-1zM491 499h2v1h-2zM510 499h2v1h-2zM519 499h5v1h-5zM527 499h1v1h-1zM539 499h1v1h-1zM563 499h2v1h-2zM457 500h1v1h-1zM464 500h2v1h-2zM471 500h1v1h-1zM485 500h1v1h-1zM491 500h2v1h-2zM510 500h1v1h-1zM512 500h1v1h-1zM514 500h5v1h-5zM528 500h1v1h-1zM537 500h2v1h-2zM565 500h2v1h-2zM471 501h2v1h-2zM485 501h3v1h-3zM490 501h2v1h-2zM510 501h1v1h-1zM512 501h2v1h-2zM523 501h1v1h-1zM529 501h1v1h-1zM535 501h2v1h-2zM471 502h2v1h-2zM485 502h1v1h-1zM488 502h4v1h-4zM510 502h1v1h-1zM512 502h1v1h-1zM530 502h1v1h-1zM533 502h2v1h-2zM471 503h3v1h-3zM484 503h7v1h-7zM510 503h2v1h-2zM531 503h2v1h-2zM472 504h5v1h-5zM480 504h4v1h-4zM490 504h1v1h-1zM510 504h2v1h-2zM472 505h1v1h-1zM477 505h3v1h-3zM490 505h2v1h-2zM511 505h1v1h-1zM471 506h1v1h-1zM490 506h2v1h-2zM511 506h1v1h-1zM471 507h1v1h-1zM490 507h3v1h-3zM506 507h1v1h-1zM510 507h1v1h-1zM512 507h1v1h-1zM469 508h2v1h-2zM490 508h3v1h-3zM510 508h1v1h-1zM512 508h1v1h-1zM467 509h2v1h-2zM490 509h2v1h-2zM493 509h1v1h-1zM510 509h1v1h-1zM513 509h1v1h-1zM465 510h2v1h-2zM490 510h2v1h-2zM493 510h1v1h-1zM511 510h1v1h-1zM513 510h1v1h-1zM463 511h2v1h-2zM489 511h2v1h-2zM493 511h1v1h-1zM511 511h1v1h-1zM513 511h1v1h-1zM476 512h3v1h-3zM480 512h10v1h-10zM493 512h1v1h-1zM508 512h1v1h-1zM512 512h1v1h-1zM475 513h2v1h-2zM478 513h1v1h-1zM480 513h1v1h-1zM483 513h1v1h-1zM488 513h1v1h-1zM492 513h1v1h-1zM512 513h1v1h-1zM516 513h1v1h-1zM473 514h1v1h-1zM476 514h5v1h-5zM487 514h1v1h-1zM492 514h1v1h-1zM512 514h1v1h-1zM516 514h1v1h-1zM440 515h1v1h-1zM476 515h5v1h-5zM483 515h2v1h-2zM486 515h1v1h-1zM488 515h2v1h-2zM492 515h1v1h-1zM511 515h1v1h-1zM513 515h1v1h-1zM518 515h1v1h-1zM433 516h1v1h-1zM441 516h1v1h-1zM469 516h1v1h-1zM476 516h3v1h-3zM481 516h4v1h-4zM487 516h3v1h-3zM491 516h2v1h-2zM511 516h1v1h-1zM513 516h1v1h-1zM520 516h1v1h-1zM441 517h1v1h-1zM477 517h1v1h-1zM482 517h2v1h-2zM487 517h1v1h-1zM492 517h1v1h-1zM512 517h2v1h-2zM442 518h1v1h-1zM476 518h3v1h-3zM483 518h1v1h-1zM487 518h1v1h-1zM493 518h2v1h-2zM502 518h3v1h-3zM512 518h2v1h-2zM520 518h1v1h-1zM420 519h1v1h-1zM442 519h2v1h-2zM476 519h3v1h-3zM486 519h1v1h-1zM493 519h1v1h-1zM495 519h1v1h-1zM498 519h4v1h-4zM505 519h4v1h-4zM512 519h2v1h-2zM420 520h3v1h-3zM429 520h3v1h-3zM443 520h1v1h-1zM446 520h1v1h-1zM476 520h1v1h-1zM478 520h1v1h-1zM486 520h2v1h-2zM494 520h1v1h-1zM496 520h2v1h-2zM509 520h2v1h-2zM512 520h1v1h-1zM514 520h1v1h-1zM519 520h1v1h-1zM423 521h6v1h-6zM431 521h1v1h-1zM444 521h1v1h-1zM486 521h3v1h-3zM494 521h1v1h-1zM502 521h1v1h-1zM511 521h2v1h-2zM515 521h1v1h-1zM520 521h1v1h-1zM522 521h1v1h-1zM432 522h1v1h-1zM445 522h1v1h-1zM483 522h6v1h-6zM495 522h1v1h-1zM503 522h1v1h-1zM511 522h1v1h-1zM515 522h1v1h-1zM432 523h1v1h-1zM446 523h1v1h-1zM460 523h1v1h-1zM466 523h1v1h-1zM479 523h2v1h-2zM482 523h7v1h-7zM495 523h1v1h-1zM511 523h2v1h-2zM514 523h1v1h-1zM517 523h1v1h-1zM433 524h1v1h-1zM447 524h1v1h-1zM481 524h8v1h-8zM495 524h1v1h-1zM505 524h1v1h-1zM512 524h1v1h-1zM514 524h1v1h-1zM517 524h1v1h-1zM523 524h1v1h-1zM433 525h1v1h-1zM448 525h1v1h-1zM475 525h4v1h-4zM482 525h8v1h-8zM494 525h1v1h-1zM507 525h1v1h-1zM513 525h1v1h-1zM515 525h1v1h-1zM519 525h2v1h-2zM417 526h1v1h-1zM426 526h1v1h-1zM434 526h1v1h-1zM449 526h2v1h-2zM476 526h4v1h-4zM482 526h2v1h-2zM485 526h5v1h-5zM494 526h1v1h-1zM513 526h1v1h-1zM431 527h1v1h-1zM435 527h1v1h-1zM451 527h2v1h-2zM485 527h5v1h-5zM493 527h1v1h-1zM514 527h1v1h-1zM435 528h2v1h-2zM453 528h1v1h-1zM469 528h3v1h-3zM485 528h2v1h-2zM489 528h1v1h-1zM493 528h1v1h-1zM515 528h1v1h-1zM437 529h1v1h-1zM452 529h1v1h-1zM465 529h4v1h-4zM472 529h3v1h-3zM489 529h1v1h-1zM493 529h1v1h-1zM506 529h1v1h-1zM514 529h1v1h-1zM438 530h2v1h-2zM452 530h1v1h-1zM462 530h3v1h-3zM475 530h2v1h-2zM494 530h1v1h-1zM513 530h1v1h-1zM440 531h1v1h-1zM451 531h1v1h-1zM460 531h2v1h-2zM477 531h2v1h-2zM494 531h1v1h-1zM440 532h1v1h-1zM451 532h1v1h-1zM458 532h2v1h-2zM479 532h2v1h-2zM494 532h1v1h-1zM408 533h3v1h-3zM440 533h1v1h-1zM450 533h1v1h-1zM456 533h2v1h-2zM481 533h2v1h-2zM494 533h1v1h-1zM411 534h4v1h-4zM440 534h1v1h-1zM450 534h1v1h-1zM454 534h2v1h-2zM483 534h3v1h-3zM495 534h1v1h-1zM415 535h4v1h-4zM440 535h1v1h-1zM446 535h1v1h-1zM451 535h3v1h-3zM495 535h1v1h-1zM419 536h3v1h-3zM440 536h1v1h-1zM451 536h1v1h-1zM465 536h3v1h-3zM422 537h2v1h-2zM439 537h1v1h-1zM451 537h2v1h-2zM463 537h2v1h-2zM468 537h4v1h-4zM394 538h2v1h-2zM424 538h3v1h-3zM438 538h1v1h-1zM450 538h1v1h-1zM453 538h2v1h-2zM460 538h3v1h-3zM472 538h2v1h-2zM394 539h2v1h-2zM427 539h2v1h-2zM437 539h1v1h-1zM450 539h1v1h-1zM455 539h1v1h-1zM458 539h2v1h-2zM463 539h2v1h-2zM474 539h2v1h-2zM429 540h11v1h-11zM449 540h1v1h-1zM456 540h2v1h-2zM465 540h2v1h-2zM476 540h2v1h-2zM431 541h1v1h-1zM440 541h5v1h-5zM449 541h1v1h-1zM467 541h2v1h-2zM478 541h2v1h-2zM431 542h1v1h-1zM445 542h2v1h-2zM448 542h1v1h-1zM469 542h1v1h-1zM480 542h3v1h-3zM432 543h1v1h-1zM445 543h1v1h-1zM447 543h2v1h-2zM470 543h1v1h-1zM483 543h2v1h-2zM432 544h1v1h-1zM468 544h2v1h-2zM471 544h2v1h-2zM433 545h1v1h-1zM466 545h2v1h-2zM473 545h2v1h-2zM434 546h2v1h-2zM464 546h2v1h-2zM475 546h2v1h-2zM436 547h2v1h-2zM460 547h5v1h-5zM477 547h1v1h-1zM403 548h2v1h-2zM438 548h1v1h-1zM458 548h2v1h-2zM462 548h2v1h-2zM478 548h1v1h-1zM403 549h2v1h-2zM439 549h2v1h-2zM456 549h2v1h-2zM461 549h1v1h-1zM478 549h1v1h-1zM441 550h2v1h-2zM446 550h5v1h-5zM454 550h2v1h-2zM460 550h1v1h-1zM479 550h1v1h-1zM439 551h7v1h-7zM449 551h1v1h-1zM451 551h3v1h-3zM459 551h1v1h-1zM480 551h1v1h-1zM437 552h2v1h-2zM450 552h1v1h-1zM454 552h1v1h-1zM458 552h1v1h-1zM436 553h1v1h-1zM451 553h1v1h-1zM455 553h1v1h-1zM458 553h1v1h-1zM435 554h1v1h-1zM451 554h1v1h-1zM455 554h1v1h-1zM457 554h1v1h-1zM435 555h1v1h-1zM451 555h1v1h-1zM456 555h1v1h-1zM405 556h3v1h-3zM434 556h1v1h-1zM451 556h1v1h-1zM457 556h1v1h-1zM405 557h3v1h-3zM434 557h1v1h-1zM450 557h1v1h-1zM458 557h1v1h-1zM405 558h3v1h-3zM433 558h1v1h-1zM450 558h1v1h-1zM459 558h1v1h-1zM433 559h1v1h-1zM450 559h1v1h-1zM460 559h1v1h-1zM466 559h1v1h-1zM396 560h4v1h-4zM434 560h1v1h-1zM450 560h1v1h-1zM461 560h1v1h-1zM396 561h4v1h-4zM434 561h1v1h-1zM448 561h2v1h-2zM462 561h1v1h-1zM465 561h1v1h-1zM396 562h4v1h-4zM435 562h1v1h-1zM446 562h2v1h-2zM463 562h1v1h-1zM396 563h4v1h-4zM415 563h2v1h-2zM435 563h2v1h-2zM444 563h2v1h-2zM449 563h1v1h-1zM464 563h1v1h-1zM417 564h2v1h-2zM434 564h1v1h-1zM437 564h2v1h-2zM442 564h2v1h-2zM465 564h1v1h-1zM419 565h4v1h-4zM432 565h2v1h-2zM439 565h3v1h-3zM466 565h2v1h-2zM423 566h3v1h-3zM431 566h1v1h-1zM440 566h1v1h-1zM447 566h1v1h-1zM468 566h2v1h-2zM425 567h2v1h-2zM431 567h1v1h-1zM440 567h1v1h-1zM450 567h1v1h-1zM464 567h1v1h-1zM427 568h1v1h-1zM431 568h1v1h-1zM441 568h2v1h-2zM427 569h1v1h-1zM431 569h1v1h-1zM441 569h1v1h-1zM428 570h1v1h-1zM430 570h1v1h-1zM441 570h3v1h-3zM428 571h1v1h-1zM430 571h1v1h-1zM444 571h7v1h-7zM428 572h1v1h-1zM430 572h2v1h-2zM427 573h1v1h-1zM430 573h1v1h-1zM427 574h1v1h-1zM431 574h1v1h-1zM427 575h1v1h-1zM431 575h1v1h-1zM426 576h1v1h-1zM426 577h1v1h-1zM425 578h1v1h-1zM402 588h2v1h-2zM402 589h2v1h-2zM485 597h1v1h-1zM479 598h8v1h-8zM479 599h9v1h-9zM480 600h8v1h-8zM461 601h2v1h-2zM480 601h7v1h-7zM461 602h2v1h-2zM480 602h7v1h-7zM413 607h2v1h-2zM413 608h2v1h-2z" fill="#000"/>
<path d="M431 60h2v1h-2zM429 61h5v1h-5zM425 62h4v1h-4zM432 62h3v1h-3zM424 63h3v1h-3zM433 63h3v1h-3zM422 64h4v1h-4zM434 64h3v1h-3zM421 65h3v1h-3zM435 65h3v1h-3zM419 66h4v1h-4zM436 66h4v1h-4zM415 67h5v1h-5zM438 67h3v1h-3zM414 68h3v1h-3zM439 68h3v1h-3zM413 69h3v1h-3zM440 69h2v1h-2zM412 70h3v1h-3zM440 70h3v1h-3zM412 71h2v1h-2zM441 71h3v1h-3zM413 72h2v1h-2zM444 72h4v1h-4zM413 73h2v1h-2zM446 73h4v1h-4zM414 74h2v1h-2zM448 74h3v1h-3zM414 75h2v1h-2zM449 75h4v1h-4zM459 75h7v1h-7zM413 76h3v1h-3zM451 76h15v1h-15zM479 76h2v1h-2zM412 77h3v1h-3zM455 77h1v1h-1zM465 77h2v1h-2zM474 77h8v1h-8zM410 78h3v1h-3zM466 78h1v1h-1zM472 78h4v1h-4zM480 78h4v1h-4zM409 79h3v1h-3zM466 79h2v1h-2zM471 79h3v1h-3zM482 79h3v1h-3zM392 80h2v1h-2zM405 80h6v1h-6zM466 80h7v1h-7zM483 80h5v1h-5zM369 81h1v1h-1zM371 81h1v1h-1zM386 81h9v1h-9zM403 81h3v1h-3zM470 81h1v1h-1zM486 81h2v1h-2zM325 82h2v1h-2zM356 82h8v1h-8zM368 82h5v1h-5zM385 82h3v1h-3zM393 82h2v1h-2zM400 82h4v1h-4zM486 82h2v1h-2zM325 83h6v1h-6zM355 83h10v1h-10zM368 83h2v1h-2zM371 83h3v1h-3zM385 83h2v1h-2zM394 83h2v1h-2zM399 83h3v1h-3zM485 83h2v1h-2zM324 84h2v1h-2zM330 84h3v1h-3zM355 84h2v1h-2zM363 84h2v1h-2zM367 84h3v1h-3zM372 84h3v1h-3zM384 84h2v1h-2zM394 84h3v1h-3zM398 84h3v1h-3zM485 84h2v1h-2zM324 85h2v1h-2zM333 85h4v1h-4zM354 85h2v1h-2zM363 85h3v1h-3zM367 85h2v1h-2zM373 85h3v1h-3zM383 85h3v1h-3zM395 85h5v1h-5zM484 85h3v1h-3zM323 86h3v1h-3zM335 86h3v1h-3zM354 86h2v1h-2zM364 86h4v1h-4zM374 86h3v1h-3zM383 86h2v1h-2zM398 86h1v1h-1zM482 86h3v1h-3zM322 87h3v1h-3zM336 87h3v1h-3zM353 87h2v1h-2zM365 87h3v1h-3zM375 87h3v1h-3zM382 87h2v1h-2zM481 87h3v1h-3zM321 88h3v1h-3zM338 88h3v1h-3zM353 88h2v1h-2zM365 88h3v1h-3zM376 88h3v1h-3zM382 88h2v1h-2zM481 88h2v1h-2zM320 89h3v1h-3zM339 89h3v1h-3zM352 89h2v1h-2zM365 89h3v1h-3zM377 89h3v1h-3zM382 89h2v1h-2zM480 89h3v1h-3zM319 90h3v1h-3zM340 90h4v1h-4zM351 90h3v1h-3zM365 90h3v1h-3zM378 90h3v1h-3zM382 90h2v1h-2zM479 90h3v1h-3zM318 91h3v1h-3zM342 91h3v1h-3zM350 91h3v1h-3zM379 91h4v1h-4zM479 91h2v1h-2zM317 92h3v1h-3zM343 92h4v1h-4zM350 92h2v1h-2zM381 92h3v1h-3zM478 92h2v1h-2zM316 93h3v1h-3zM345 93h3v1h-3zM349 93h3v1h-3zM382 93h1v1h-1zM477 93h3v1h-3zM315 94h3v1h-3zM347 94h4v1h-4zM477 94h2v1h-2zM314 95h3v1h-3zM349 95h1v1h-1zM477 95h2v1h-2zM314 96h2v1h-2zM478 96h1v1h-1zM315 97h2v1h-2zM478 97h2v1h-2zM315 98h2v1h-2zM478 98h2v1h-2zM316 99h2v1h-2zM478 99h3v1h-3zM316 100h4v1h-4zM480 100h3v1h-3zM318 101h3v1h-3zM481 101h2v1h-2zM319 102h4v1h-4zM481 102h2v1h-2zM321 103h3v1h-3zM482 103h1v1h-1zM322 104h3v1h-3zM482 104h2v1h-2zM323 105h2v1h-2zM482 105h2v1h-2zM323 106h3v1h-3zM482 106h2v1h-2zM324 107h3v1h-3zM483 107h1v1h-1zM325 108h3v1h-3zM483 108h2v1h-2zM326 109h3v1h-3zM484 109h1v1h-1zM327 110h2v1h-2zM484 110h2v1h-2zM327 111h3v1h-3zM484 111h3v1h-3zM328 112h3v1h-3zM486 112h3v1h-3zM329 113h4v1h-4zM488 113h7v1h-7zM331 114h3v1h-3zM493 114h3v1h-3zM332 115h4v1h-4zM494 115h2v1h-2zM334 116h8v1h-8zM494 116h3v1h-3zM341 117h5v1h-5zM495 117h3v1h-3zM344 118h2v1h-2zM498 118h4v1h-4zM344 119h2v1h-2zM500 119h3v1h-3zM345 120h2v1h-2zM502 120h3v1h-3zM345 121h2v1h-2zM503 121h3v1h-3zM346 122h2v1h-2zM504 122h3v1h-3zM346 123h2v1h-2zM505 123h3v1h-3zM346 124h2v1h-2zM506 124h5v1h-5zM520 124h7v1h-7zM345 125h2v1h-2zM510 125h18v1h-18zM345 126h2v1h-2zM515 126h1v1h-1zM527 126h3v1h-3zM344 127h2v1h-2zM528 127h3v1h-3zM344 128h2v1h-2zM529 128h4v1h-4zM344 129h2v1h-2zM531 129h3v1h-3zM343 130h2v1h-2zM530 130h3v1h-3zM343 131h2v1h-2zM529 131h3v1h-3zM342 132h2v1h-2zM521 132h1v1h-1zM527 132h4v1h-4zM342 133h2v1h-2zM519 133h9v1h-9zM341 134h3v1h-3zM517 134h3v1h-3zM525 134h1v1h-1zM341 135h2v1h-2zM515 135h3v1h-3zM340 136h3v1h-3zM514 136h3v1h-3zM340 137h2v1h-2zM513 137h3v1h-3zM339 138h3v1h-3zM511 138h3v1h-3zM340 139h3v1h-3zM510 139h3v1h-3zM341 140h3v1h-3zM509 140h3v1h-3zM342 141h2v1h-2zM508 141h3v1h-3zM343 142h1v1h-1zM508 142h2v1h-2zM343 143h2v1h-2zM507 143h2v1h-2zM344 144h2v1h-2zM506 144h3v1h-3zM344 145h3v1h-3zM505 145h3v1h-3zM345 146h3v1h-3zM503 146h4v1h-4zM347 147h3v1h-3zM500 147h3v1h-3zM348 148h3v1h-3zM388 148h1v1h-1zM498 148h3v1h-3zM349 149h3v1h-3zM383 149h11v1h-11zM485 149h13v1h-13zM350 150h4v1h-4zM381 150h4v1h-4zM392 150h3v1h-3zM485 150h11v1h-11zM352 151h3v1h-3zM380 151h3v1h-3zM393 151h3v1h-3zM485 151h2v1h-2zM353 152h4v1h-4zM378 152h4v1h-4zM394 152h3v1h-3zM485 152h2v1h-2zM357 153h3v1h-3zM375 153h5v1h-5zM395 153h3v1h-3zM485 153h1v1h-1zM359 154h16v1h-16zM396 154h3v1h-3zM484 154h2v1h-2zM365 155h7v1h-7zM397 155h3v1h-3zM484 155h2v1h-2zM398 156h2v1h-2zM484 156h2v1h-2zM399 157h2v1h-2zM484 157h2v1h-2zM399 158h3v1h-3zM485 158h1v1h-1zM400 159h3v1h-3zM485 159h2v1h-2zM401 160h2v1h-2zM484 160h3v1h-3zM401 161h2v1h-2zM482 161h4v1h-4zM402 162h1v1h-1zM481 162h3v1h-3zM402 163h2v1h-2zM481 163h2v1h-2zM402 164h2v1h-2zM481 164h1v1h-1zM401 165h3v1h-3zM480 165h2v1h-2zM399 166h3v1h-3zM480 166h1v1h-1zM399 167h2v1h-2zM479 167h2v1h-2zM399 168h2v1h-2zM479 168h2v1h-2zM399 169h5v1h-5zM479 169h2v1h-2zM399 170h11v1h-11zM479 170h1v1h-1zM408 171h3v1h-3zM478 171h2v1h-2zM409 172h3v1h-3zM478 172h2v1h-2zM410 173h1v1h-1zM477 173h3v1h-3zM409 174h3v1h-3zM476 174h3v1h-3zM408 175h3v1h-3zM475 175h3v1h-3zM407 176h3v1h-3zM474 176h3v1h-3zM408 177h6v1h-6zM473 177h3v1h-3zM413 178h3v1h-3zM471 178h3v1h-3zM415 179h3v1h-3zM470 179h3v1h-3zM416 180h2v1h-2zM468 180h4v1h-4zM416 181h2v1h-2zM467 181h3v1h-3zM416 182h2v1h-2zM465 182h4v1h-4zM416 183h2v1h-2zM463 183h4v1h-4zM415 184h3v1h-3zM461 184h3v1h-3zM412 185h4v1h-4zM460 185h3v1h-3zM411 186h3v1h-3zM458 186h4v1h-4zM410 187h3v1h-3zM457 187h3v1h-3zM410 188h2v1h-2zM457 188h2v1h-2zM410 189h2v1h-2zM457 189h1v1h-1zM410 190h2v1h-2zM456 190h2v1h-2zM410 191h2v1h-2zM455 191h2v1h-2zM409 192h3v1h-3zM454 192h3v1h-3zM407 193h3v1h-3zM454 193h2v1h-2zM397 194h2v1h-2zM406 194h3v1h-3zM453 194h2v1h-2zM384 195h16v1h-16zM404 195h3v1h-3zM452 195h3v1h-3zM384 196h8v1h-8zM399 196h7v1h-7zM452 196h2v1h-2zM383 197h2v1h-2zM400 197h1v1h-1zM452 197h1v1h-1zM383 198h2v1h-2zM451 198h2v1h-2zM384 199h1v1h-1zM451 199h1v1h-1zM384 200h2v1h-2zM450 200h3v1h-3zM385 201h1v1h-1zM450 201h3v1h-3zM385 202h2v1h-2zM451 202h2v1h-2zM384 203h3v1h-3zM450 203h2v1h-2zM382 204h4v1h-4zM450 204h2v1h-2zM381 205h3v1h-3zM450 205h2v1h-2zM380 206h3v1h-3zM450 206h2v1h-2zM379 207h3v1h-3zM450 207h2v1h-2zM378 208h3v1h-3zM449 208h2v1h-2zM377 209h3v1h-3zM449 209h2v1h-2zM378 210h4v1h-4zM448 210h3v1h-3zM380 211h4v1h-4zM448 211h2v1h-2zM384 212h3v1h-3zM447 212h3v1h-3zM385 213h3v1h-3zM447 213h2v1h-2zM386 214h4v1h-4zM446 214h3v1h-3zM388 215h3v1h-3zM446 215h2v1h-2zM389 216h4v1h-4zM446 216h2v1h-2zM393 217h3v1h-3zM445 217h2v1h-2zM394 218h3v1h-3zM445 218h2v1h-2zM395 219h4v1h-4zM444 219h2v1h-2zM397 220h3v1h-3zM444 220h2v1h-2zM398 221h3v1h-3zM444 221h2v1h-2zM399 222h4v1h-4zM445 222h1v1h-1zM401 223h3v1h-3zM445 223h2v1h-2zM402 224h4v1h-4zM445 224h2v1h-2zM404 225h3v1h-3zM445 225h3v1h-3zM405 226h4v1h-4zM446 226h2v1h-2zM407 227h6v1h-6zM447 227h2v1h-2zM412 228h3v1h-3zM447 228h3v1h-3zM415 229h3v1h-3zM448 229h2v1h-2zM417 230h6v1h-6zM449 230h2v1h-2zM422 231h5v1h-5zM449 231h2v1h-2zM425 232h2v1h-2zM450 232h2v1h-2zM425 233h2v1h-2zM450 233h2v1h-2zM425 234h1v1h-1zM450 234h2v1h-2zM424 235h2v1h-2zM451 235h1v1h-1zM424 236h2v1h-2zM451 236h2v1h-2zM423 237h3v1h-3zM451 237h2v1h-2zM422 238h3v1h-3zM451 238h3v1h-3zM422 239h2v1h-2zM452 239h3v1h-3zM423 240h1v1h-1zM453 240h3v1h-3zM423 241h2v1h-2zM454 241h3v1h-3zM423 242h3v1h-3zM455 242h3v1h-3zM424 243h3v1h-3zM456 243h3v1h-3zM425 244h3v1h-3zM458 244h3v1h-3zM426 245h3v1h-3zM459 245h3v1h-3zM427 246h2v1h-2zM460 246h4v1h-4zM427 247h3v1h-3zM462 247h3v1h-3zM428 248h4v1h-4zM463 248h4v1h-4zM431 249h4v1h-4zM465 249h3v1h-3zM434 250h3v1h-3zM468 250h4v1h-4zM435 251h3v1h-3zM470 251h3v1h-3zM436 252h3v1h-3zM471 252h3v1h-3zM437 253h3v1h-3zM472 253h3v1h-3zM438 254h3v1h-3zM473 254h2v1h-2zM439 255h3v1h-3zM474 255h2v1h-2zM440 256h2v1h-2zM474 256h2v1h-2zM440 257h3v1h-3zM475 257h2v1h-2zM441 258h2v1h-2zM474 258h3v1h-3zM441 259h3v1h-3zM474 259h2v1h-2zM442 260h3v1h-3zM473 260h3v1h-3zM443 261h2v1h-2zM473 261h2v1h-2zM443 262h3v1h-3zM473 262h2v1h-2zM444 263h2v1h-2zM473 263h2v1h-2zM444 264h3v1h-3zM474 264h2v1h-2zM445 265h3v1h-3zM474 265h2v1h-2zM446 266h3v1h-3zM474 266h2v1h-2zM447 267h2v1h-2zM474 267h2v1h-2zM447 268h3v1h-3zM475 268h2v1h-2zM448 269h3v1h-3zM475 269h2v1h-2zM449 270h3v1h-3zM476 270h2v1h-2zM450 271h3v1h-3zM476 271h2v1h-2zM452 272h3v1h-3zM476 272h3v1h-3zM453 273h3v1h-3zM477 273h2v1h-2zM454 274h3v1h-3zM478 274h2v1h-2zM455 275h3v1h-3zM478 275h3v1h-3zM456 276h3v1h-3zM479 276h3v1h-3zM457 277h3v1h-3zM480 277h3v1h-3zM458 278h3v1h-3zM481 278h2v1h-2zM459 279h3v1h-3zM481 279h3v1h-3zM460 280h3v1h-3zM482 280h3v1h-3zM461 281h3v1h-3zM483 281h3v1h-3zM462 282h3v1h-3zM484 282h3v1h-3zM463 283h4v1h-4zM485 283h3v1h-3zM465 284h3v1h-3zM486 284h3v1h-3zM466 285h3v1h-3zM487 285h3v1h-3zM467 286h2v1h-2zM488 286h4v1h-4zM467 287h3v1h-3zM490 287h3v1h-3zM468 288h2v1h-2zM491 288h4v1h-4zM468 289h3v1h-3zM493 289h3v1h-3zM469 290h3v1h-3zM494 290h4v1h-4zM470 291h2v1h-2zM496 291h3v1h-3zM471 292h2v1h-2zM497 292h3v1h-3zM471 293h3v1h-3zM498 293h3v1h-3zM472 294h4v1h-4zM499 294h3v1h-3zM475 295h3v1h-3zM500 295h2v1h-2zM476 296h2v1h-2zM500 296h2v1h-2zM476 297h2v1h-2zM501 297h1v1h-1zM476 298h1v1h-1zM501 298h2v1h-2zM475 299h2v1h-2zM501 299h2v1h-2zM475 300h2v1h-2zM501 300h2v1h-2zM475 301h2v1h-2zM501 301h3v1h-3zM475 302h2v1h-2zM502 302h4v1h-4zM475 303h2v1h-2zM504 303h3v1h-3zM475 304h2v1h-2zM505 304h3v1h-3zM475 305h3v1h-3zM507 305h3v1h-3zM476 306h2v1h-2zM508 306h3v1h-3zM476 307h3v1h-3zM510 307h3v1h-3zM477 308h2v1h-2zM511 308h3v1h-3zM477 309h3v1h-3zM486 309h1v1h-1zM513 309h3v1h-3zM478 310h3v1h-3zM485 310h3v1h-3zM514 310h3v1h-3zM479 311h2v1h-2zM484 311h5v1h-5zM516 311h3v1h-3zM480 312h2v1h-2zM483 312h3v1h-3zM487 312h3v1h-3zM517 312h3v1h-3zM480 313h5v1h-5zM488 313h3v1h-3zM519 313h3v1h-3zM481 314h1v1h-1zM483 314h1v1h-1zM489 314h3v1h-3zM520 314h3v1h-3zM490 315h2v1h-2zM522 315h3v1h-3zM491 316h2v1h-2zM523 316h3v1h-3zM491 317h3v1h-3zM526 317h4v1h-4zM492 318h4v1h-4zM528 318h3v1h-3zM495 319h3v1h-3zM529 319h4v1h-4zM496 320h2v1h-2zM531 320h3v1h-3zM496 321h2v1h-2zM532 321h3v1h-3zM497 322h2v1h-2zM533 322h2v1h-2zM497 323h2v1h-2zM533 323h3v1h-3zM498 324h2v1h-2zM534 324h2v1h-2zM498 325h7v1h-7zM534 325h3v1h-3zM504 326h6v1h-6zM535 326h6v1h-6zM508 327h2v1h-2zM539 327h2v1h-2zM508 328h2v1h-2zM540 328h2v1h-2zM509 329h1v1h-1zM541 329h1v1h-1zM509 330h2v1h-2zM541 330h2v1h-2zM509 331h2v1h-2zM541 331h2v1h-2zM507 332h4v1h-4zM542 332h2v1h-2zM506 333h3v1h-3zM542 333h2v1h-2zM504 334h4v1h-4zM543 334h2v1h-2zM502 335h4v1h-4zM543 335h2v1h-2zM501 336h3v1h-3zM543 336h2v1h-2zM499 337h4v1h-4zM544 337h2v1h-2zM499 338h2v1h-2zM544 338h2v1h-2zM500 339h2v1h-2zM545 339h2v1h-2zM500 340h2v1h-2zM545 340h2v1h-2zM501 341h2v1h-2zM545 341h3v1h-3zM501 342h3v1h-3zM546 342h3v1h-3zM502 343h3v1h-3zM547 343h3v1h-3zM503 344h3v1h-3zM548 344h3v1h-3zM504 345h3v1h-3zM549 345h3v1h-3zM505 346h2v1h-2zM550 346h3v1h-3zM505 347h3v1h-3zM551 347h3v1h-3zM506 348h2v1h-2zM552 348h3v1h-3zM506 349h3v1h-3zM553 349h3v1h-3zM507 350h7v1h-7zM555 350h4v1h-4zM512 351h3v1h-3zM557 351h3v1h-3zM513 352h2v1h-2zM558 352h3v1h-3zM514 353h2v1h-2zM559 353h3v1h-3zM514 354h3v1h-3zM560 354h3v1h-3zM515 355h2v1h-2zM561 355h2v1h-2zM515 356h1v1h-1zM562 356h2v1h-2zM514 357h2v1h-2zM562 357h3v1h-3zM514 358h1v1h-1zM563 358h2v1h-2zM513 359h2v1h-2zM563 359h2v1h-2zM513 360h2v1h-2zM564 360h2v1h-2zM513 361h2v1h-2zM564 361h2v1h-2zM512 362h2v1h-2zM564 362h2v1h-2zM512 363h2v1h-2zM564 363h2v1h-2zM512 364h2v1h-2zM564 364h2v1h-2zM511 365h3v1h-3zM565 365h2v1h-2zM510 366h3v1h-3zM565 366h2v1h-2zM509 367h3v1h-3zM565 367h2v1h-2zM509 368h2v1h-2zM565 368h2v1h-2zM510 369h2v1h-2zM566 369h2v1h-2zM510 370h2v1h-2zM566 370h2v1h-2zM511 371h2v1h-2zM567 371h2v1h-2zM511 372h2v1h-2zM567 372h2v1h-2zM511 373h2v1h-2zM567 373h2v1h-2zM511 374h2v1h-2zM568 374h2v1h-2zM512 375h2v1h-2zM568 375h2v1h-2zM512 376h2v1h-2zM569 376h2v1h-2zM512 377h2v1h-2zM569 377h2v1h-2zM512 378h2v1h-2zM569 378h2v1h-2zM512 379h2v1h-2zM569 379h2v1h-2zM511 380h2v1h-2zM570 380h2v1h-2zM511 381h2v1h-2zM570 381h2v1h-2zM511 382h2v1h-2zM570 382h2v1h-2zM511 383h2v1h-2zM570 383h2v1h-2zM511 384h2v1h-2zM570 384h2v1h-2zM510 385h2v1h-2zM571 385h2v1h-2zM510 386h2v1h-2zM571 386h2v1h-2zM510 387h2v1h-2zM571 387h2v1h-2zM509 388h3v1h-3zM571 388h2v1h-2zM508 389h3v1h-3zM572 389h2v1h-2zM507 390h3v1h-3zM572 390h2v1h-2zM507 391h2v1h-2zM573 391h2v1h-2zM507 392h2v1h-2zM573 392h2v1h-2zM506 393h2v1h-2zM573 393h2v1h-2zM506 394h2v1h-2zM574 394h2v1h-2zM506 395h2v1h-2zM574 395h2v1h-2zM506 396h2v1h-2zM575 396h2v1h-2zM505 397h2v1h-2zM575 397h2v1h-2zM505 398h2v1h-2zM575 398h2v1h-2zM504 399h2v1h-2zM575 399h2v1h-2zM504 400h3v1h-3zM575 400h2v1h-2zM505 401h2v1h-2zM575 401h2v1h-2zM506 402h2v1h-2zM575 402h2v1h-2zM506 403h3v1h-3zM575 403h2v1h-2zM507 404h2v1h-2zM575 404h2v1h-2zM507 405h2v1h-2zM576 405h1v1h-1zM508 406h2v1h-2zM576 406h2v1h-2zM508 407h2v1h-2zM576 407h2v1h-2zM509 408h2v1h-2zM576 408h2v1h-2zM509 409h2v1h-2zM576 409h2v1h-2zM509 410h2v1h-2zM576 410h2v1h-2zM510 411h1v1h-1zM575 411h2v1h-2zM510 412h2v1h-2zM575 412h2v1h-2zM510 413h3v1h-3zM575 413h2v1h-2zM511 414h2v1h-2zM575 414h2v1h-2zM512 415h2v1h-2zM575 415h2v1h-2zM512 416h3v1h-3zM576 416h2v1h-2zM513 417h2v1h-2zM576 417h2v1h-2zM513 418h2v1h-2zM576 418h2v1h-2zM513 419h2v1h-2zM576 419h2v1h-2zM514 420h2v1h-2zM576 420h2v1h-2zM514 421h2v1h-2zM577 421h1v1h-1zM514 422h2v1h-2zM577 422h2v1h-2zM515 423h1v1h-1zM577 423h2v1h-2zM515 424h2v1h-2zM577 424h2v1h-2zM516 425h1v1h-1zM577 425h2v1h-2zM516 426h2v1h-2zM577 426h2v1h-2zM516 427h1v1h-1zM577 427h2v1h-2zM515 428h2v1h-2zM577 428h2v1h-2zM515 429h1v1h-1zM577 429h2v1h-2zM512 430h4v1h-4zM577 430h2v1h-2zM512 431h4v1h-4zM577 431h2v1h-2zM511 432h2v1h-2zM578 432h2v1h-2zM511 433h2v1h-2zM578 433h2v1h-2zM511 434h1v1h-1zM579 434h2v1h-2zM510 435h2v1h-2zM579 435h2v1h-2zM510 436h2v1h-2zM579 436h2v1h-2zM509 437h2v1h-2zM579 437h2v1h-2zM509 438h2v1h-2zM580 438h2v1h-2zM509 439h2v1h-2zM580 439h2v1h-2zM509 440h2v1h-2zM580 440h2v1h-2zM509 441h2v1h-2zM580 441h3v1h-3zM509 442h2v1h-2zM581 442h2v1h-2zM509 443h3v1h-3zM582 443h2v1h-2zM510 444h2v1h-2zM582 444h3v1h-3zM510 445h3v1h-3zM580 445h4v1h-4zM511 446h2v1h-2zM580 446h2v1h-2zM511 447h3v1h-3zM580 447h2v1h-2zM512 448h2v1h-2zM580 448h1v1h-1zM512 449h2v1h-2zM579 449h2v1h-2zM512 450h2v1h-2zM579 450h2v1h-2zM512 451h2v1h-2zM579 451h3v1h-3zM512 452h2v1h-2zM580 452h4v1h-4zM512 453h2v1h-2zM582 453h3v1h-3zM512 454h2v1h-2zM581 454h3v1h-3zM512 455h2v1h-2zM580 455h3v1h-3zM512 456h2v1h-2zM579 456h3v1h-3zM512 457h2v1h-2zM578 457h3v1h-3zM512 458h1v1h-1zM576 458h3v1h-3zM511 459h2v1h-2zM575 459h3v1h-3zM511 460h2v1h-2zM574 460h3v1h-3zM511 461h2v1h-2zM574 461h2v1h-2zM510 462h3v1h-3zM573 462h3v1h-3zM509 463h3v1h-3zM573 463h2v1h-2zM508 464h3v1h-3zM573 464h2v1h-2zM504 465h6v1h-6zM573 465h2v1h-2zM499 466h10v1h-10zM574 466h2v1h-2zM498 467h3v1h-3zM574 467h2v1h-2zM497 468h3v1h-3zM574 468h2v1h-2zM495 469h3v1h-3zM574 469h2v1h-2zM494 470h3v1h-3zM574 470h2v1h-2zM492 471h4v1h-4zM575 471h2v1h-2zM491 472h3v1h-3zM575 472h2v1h-2zM489 473h4v1h-4zM575 473h2v1h-2zM488 474h3v1h-3zM575 474h2v1h-2zM484 475h4v1h-4zM575 475h2v1h-2zM483 476h3v1h-3zM575 476h2v1h-2zM470 477h2v1h-2zM481 477h3v1h-3zM575 477h2v1h-2zM470 478h13v1h-13zM575 478h2v1h-2zM470 479h2v1h-2zM476 479h1v1h-1zM575 479h2v1h-2zM471 480h1v1h-1zM575 480h2v1h-2zM471 481h2v1h-2zM574 481h2v1h-2zM471 482h2v1h-2zM574 482h2v1h-2zM471 483h2v1h-2zM574 483h2v1h-2zM470 484h3v1h-3zM574 484h2v1h-2zM455 485h11v1h-11zM470 485h2v1h-2zM575 485h1v1h-1zM455 486h17v1h-17zM575 486h2v1h-2zM454 487h2v1h-2zM470 487h1v1h-1zM574 487h3v1h-3zM454 488h1v1h-1zM574 488h2v1h-2zM453 489h2v1h-2zM573 489h2v1h-2zM449 490h6v1h-6zM572 490h3v1h-3zM449 491h2v1h-2zM571 491h3v1h-3zM449 492h2v1h-2zM571 492h2v1h-2zM450 493h2v1h-2zM570 493h2v1h-2zM450 494h2v1h-2zM569 494h3v1h-3zM450 495h2v1h-2zM569 495h2v1h-2zM450 496h2v1h-2zM569 496h2v1h-2zM450 497h2v1h-2zM568 497h2v1h-2zM451 498h2v1h-2zM568 498h2v1h-2zM451 499h2v1h-2zM567 499h2v1h-2zM451 500h3v1h-3zM565 500h4v1h-4zM452 501h2v1h-2zM563 501h3v1h-3zM452 502h3v1h-3zM558 502h6v1h-6zM453 503h2v1h-2zM556 503h3v1h-3zM453 504h3v1h-3zM554 504h3v1h-3zM454 505h3v1h-3zM552 505h3v1h-3zM455 506h4v1h-4zM550 506h3v1h-3zM457 507h3v1h-3zM549 507h3v1h-3zM458 508h3v1h-3zM547 508h4v1h-4zM459 509h4v1h-4zM546 509h3v1h-3zM461 510h3v1h-3zM544 510h4v1h-4zM462 511h2v1h-2zM543 511h3v1h-3zM462 512h2v1h-2zM541 512h4v1h-4zM450 513h2v1h-2zM463 513h1v1h-1zM540 513h3v1h-3zM436 514h1v1h-1zM445 514h8v1h-8zM463 514h2v1h-2zM538 514h4v1h-4zM422 515h2v1h-2zM434 515h12v1h-12zM452 515h3v1h-3zM463 515h2v1h-2zM537 515h3v1h-3zM421 516h5v1h-5zM432 516h3v1h-3zM441 516h1v1h-1zM453 516h3v1h-3zM462 516h3v1h-3zM535 516h4v1h-4zM419 517h3v1h-3zM425 517h8v1h-8zM454 517h3v1h-3zM461 517h3v1h-3zM533 517h3v1h-3zM419 518h2v1h-2zM427 518h1v1h-1zM455 518h3v1h-3zM460 518h3v1h-3zM533 518h2v1h-2zM419 519h2v1h-2zM456 519h6v1h-6zM533 519h1v1h-1zM419 520h2v1h-2zM460 520h1v1h-1zM532 520h2v1h-2zM419 521h2v1h-2zM531 521h2v1h-2zM419 522h1v1h-1zM530 522h3v1h-3zM418 523h2v1h-2zM528 523h4v1h-4zM418 524h1v1h-1zM527 524h3v1h-3zM417 525h2v1h-2zM523 525h6v1h-6zM416 526h3v1h-3zM521 526h3v1h-3zM415 527h3v1h-3zM518 527h3v1h-3zM414 528h3v1h-3zM516 528h3v1h-3zM413 529h3v1h-3zM513 529h3v1h-3zM405 530h9v1h-9zM511 530h3v1h-3zM404 531h8v1h-8zM508 531h3v1h-3zM402 532h3v1h-3zM485 532h1v1h-1zM507 532h3v1h-3zM401 533h3v1h-3zM485 533h3v1h-3zM492 533h1v1h-1zM505 533h4v1h-4zM400 534h3v1h-3zM485 534h9v1h-9zM499 534h8v1h-8zM399 535h3v1h-3zM484 535h2v1h-2zM489 535h1v1h-1zM493 535h13v1h-13zM400 536h2v1h-2zM484 536h2v1h-2zM494 536h2v1h-2zM400 537h3v1h-3zM483 537h2v1h-2zM401 538h3v1h-3zM483 538h2v1h-2zM402 539h3v1h-3zM483 539h2v1h-2zM403 540h3v1h-3zM484 540h2v1h-2zM404 541h4v1h-4zM484 541h2v1h-2zM406 542h3v1h-3zM485 542h2v1h-2zM407 543h4v1h-4zM485 543h2v1h-2zM409 544h4v1h-4zM485 544h2v1h-2zM412 545h3v1h-3zM485 545h2v1h-2zM413 546h4v1h-4zM484 546h3v1h-3zM415 547h3v1h-3zM483 547h3v1h-3zM416 548h4v1h-4zM482 548h3v1h-3zM418 549h3v1h-3zM481 549h3v1h-3zM420 550h3v1h-3zM481 550h2v1h-2zM421 551h1v1h-1zM481 551h2v1h-2zM420 552h3v1h-3zM481 552h1v1h-1zM420 553h2v1h-2zM480 553h2v1h-2zM419 554h2v1h-2zM479 554h3v1h-3zM418 555h3v1h-3zM479 555h2v1h-2zM417 556h3v1h-3zM478 556h2v1h-2zM416 557h3v1h-3zM477 557h3v1h-3zM415 558h3v1h-3zM477 558h2v1h-2zM415 559h2v1h-2zM477 559h2v1h-2zM415 560h2v1h-2zM476 560h2v1h-2zM414 561h2v1h-2zM476 561h2v1h-2zM414 562h2v1h-2zM475 562h2v1h-2zM414 563h2v1h-2zM473 563h4v1h-4zM414 564h2v1h-2zM471 564h3v1h-3zM414 565h2v1h-2zM469 565h3v1h-3zM413 566h2v1h-2zM467 566h3v1h-3zM413 567h2v1h-2zM467 567h2v1h-2zM413 568h2v1h-2zM467 568h1v1h-1zM413 569h2v1h-2zM466 569h2v1h-2zM413 570h2v1h-2zM465 570h2v1h-2zM413 571h2v1h-2zM464 571h3v1h-3zM413 572h2v1h-2zM462 572h4v1h-4zM413 573h2v1h-2zM461 573h3v1h-3zM413 574h2v1h-2zM459 574h4v1h-4zM413 575h2v1h-2zM456 575h3v1h-3zM412 576h2v1h-2zM454 576h3v1h-3zM412 577h2v1h-2zM451 577h3v1h-3zM412 578h2v1h-2zM449 578h3v1h-3zM412 579h2v1h-2zM446 579h3v1h-3zM412 580h2v1h-2zM444 580h4v1h-4zM412 581h2v1h-2zM443 581h3v1h-3zM412 582h2v1h-2zM441 582h4v1h-4zM412 583h2v1h-2zM439 583h4v1h-4zM412 584h2v1h-2zM436 584h3v1h-3zM412 585h2v1h-2zM435 585h3v1h-3zM412 586h2v1h-2zM435 586h2v1h-2zM412 587h2v1h-2zM434 587h3v1h-3zM412 588h2v1h-2zM433 588h3v1h-3zM412 589h2v1h-2zM433 589h2v1h-2zM412 590h2v1h-2zM432 590h2v1h-2zM411 591h2v1h-2zM431 591h3v1h-3zM411 592h2v1h-2zM430 592h3v1h-3zM411 593h2v1h-2zM428 593h4v1h-4zM411 594h2v1h-2zM427 594h3v1h-3zM411 595h1v1h-1zM426 595h3v1h-3zM410 596h2v1h-2zM425 596h3v1h-3zM410 597h2v1h-2zM424 597h3v1h-3zM410 598h2v1h-2zM423 598h3v1h-3zM409 599h2v1h-2zM421 599h4v1h-4zM409 600h4v1h-4zM419 600h3v1h-3zM412 601h8v1h-8zM414 602h1v1h-1z" fill="#000"/>
<path d="M315.8,95.8 320.8,90 325,85 326.7,82.5 330.8,83.3 335.8,85.8 340.8,89.2 345,92.5 349.2,94.2 353.3,89.2 357.5,82.5 362.5,82 364.2,85.8 366.7,90 368.3,84.2 370.8,81.7 374.2,85 378.3,89.2 382.5,92.5 384.2,85.8 387.5,81.7 392.5,80.8 395,84.2 398.3,85.8 401.7,82.5 405.8,80 410.8,79.2 415,75 413.3,70.8 416.7,67.5 422.5,65.8 426.7,62.5 431.7,60.3 435.8,64.2 439.2,67.5 441.7,70.8 446.7,72.5 451.7,75 455.8,76.7 459.2,75 464.2,75 466.7,79.2 470.8,80 475,77.5 479.2,76.7 483.3,79.2 486.7,80.8 485.8,85 482.5,87.5 480.8,90.8 477.5,94.2 478.3,98.3 481.7,100.8 482.5,106.7 484.2,110.8 488.3,112.5 493.3,113.3 495.8,116.7 500,118.3 503.3,120.8 506.7,123.3 510.8,124.2 515,125 520,124.2 525,124.2 528.3,126.7 532,129.7 529.2,132.5 525.8,134.2 521.7,133.3 517.5,135 515,136.7 510.8,140.8 505.8,146.7 500,148.3 495,150 490,150 485.8,150 484.2,156.7 485,160 481.7,163.3 479.2,167.5 478.3,173.3 475,176.7 470,180 465.8,183.3 461.7,185.8 457.5,188.3 455,192.5 452.5,196.7 450.8,200 451.7,200 450,205.8 449.2,210 446.7,215 444.2,220.8 445,224.2 448.3,228.3 450,233.3 451.7,237.5 455.8,241.7 460,245.8 465,248.3 470,250.8 473.3,253.3 475,258.3 473.3,261.7 474.2,266.7 476.7,271.7 479.2,275.8 483.3,280 487.5,284.2 491.7,287.5 496.7,290 500,294.2 501.7,300 505.8,303.3 511.7,307.5 517.5,311.7 523.3,315 528.3,317.5 532.5,320.8 535.8,325 539.2,326.7 541.7,330.8 543.3,335 545.8,340 549.2,344.2 553.3,348.3 557.5,350.8 560.8,353.3 563.3,357.5 564.2,362.5 565.8,367.5 567.5,372.5 569.2,377.5 570,382.5 571.7,387.5 573.3,392.5 575,397.5 575.8,402.5 576.7,408.3 575.8,413.3 576.7,418.3 577.5,424.2 577.5,430 579.2,435 580.8,440 583.3,444.2 580,446.7 579.2,450.8 583.3,453.3 580,456.7 575,460 573.3,463.3 574.2,468.3 575,473.3 575,478.3 574.2,483.3 575,487.5 572.5,491.7 569.2,495 567.5,500 563.3,502.5 558.3,503.3 554.2,505.8 550,507.5 546.7,510.8 541.7,513.3 537.5,516.7 533.3,518.3 531.7,522.5 527.5,525 523.3,526.7 518.3,528.3 513.3,530.8 508.3,532.5 504.2,535 499.2,535.8 495,536.7 492.5,534.2 489.2,535.8 485,533.3 483.3,538.3 485,543.3 485.8,546.7 481.7,550 480.8,554.2 477.5,558.3 475,563.3 471.7,565.8 467.5,567.5 465,571.7 461.7,574.2 456.7,576.7 451.7,578.3 446.7,580.8 441.7,583.3 436.7,585 434.2,588.3 431.7,592.5 427.5,595.8 423.3,599.2 419.2,601.7 414.2,602.5 410,600.8 411.7,597.5 412.5,593.3 413,588.3 413.3,583.3 413.3,578.3 414.2,573.3 414.2,568.3 415,563.3 416.7,558.3 419.2,555 422.5,551.7 419.2,549.2 414.2,546.7 410,544.2 405.8,541.7 402.5,538.3 400,535 403.3,532.5 406.7,530.8 411.7,530 415.8,528.3 418.3,525.8 420.8,521.7 420.8,517.5 423.3,515 427.5,517.5 432.5,516.7 436.7,514.2 441.7,515 445.8,514.2 450,513.3 453.3,515 456.7,518.3 460.8,519.2 464.2,515.8 463.3,511.7 459.2,508.3 455,505 452.5,500.8 451.7,495 450,490.8 454.2,489.2 456.7,485.8 460.8,485 465,485.8 470,486.7 472.5,483.3 471.7,477.5 476.7,478.3 482.5,477.5 485.8,475 490.8,473.3 495.8,470 500,466.7 504.2,465 508.3,465.8 512.5,461.7 513.3,455 513.3,448.3 510.8,443.3 510.8,438.3 513.3,430 515.8,430.8 517.5,426.7 515.8,422.5 514.2,417.5 511.7,413.3 510,409.2 508.3,404.2 505.8,400 507.5,395.8 508.3,390.8 511.7,387.5 512.5,382.5 513.3,377.5 512.5,372.5 510.8,367.5 513.3,364.2 514.2,359.2 516.7,355.8 513.3,351.7 508.3,350 505.8,345.8 502.5,342.5 500.8,337.5 505,334.2 510,331.7 509.2,327.5 504.2,326.7 499.2,325 497.5,320 493.3,318.3 490.8,314.2 486.7,310.8 482.5,314.2 479.2,310 476.7,305 476.7,300 477.5,296.7 473.3,294.2 470,290 467.5,285 463.3,282.5 459.2,278.3 455,274.2 450,270 446.7,265 443.3,260 440,255 436.7,251.7 429.4,248.9 427.2,245.6 424.4,242.2 423.9,238.9 425.6,236.1 426.1,232.8 422.8,231.7 417.2,230 412.8,228.3 408.3,227.2 403.9,224.4 399.4,221.7 395,218.9 390.6,216.1 386.1,213.3 381.7,211.7 378.9,209.4 382.8,205.6 386.1,202.2 384.4,198.9 385,195.6 391.7,195 397.2,194.4 400.6,196.7 405,195.6 408.3,193.9 411.7,191.1 411.7,187.2 413.9,185 417.8,183.3 417.8,180.6 413.9,178.3 409.4,177.8 408.3,176.1 411.7,173.9 409.4,171.1 403.9,170.6 400,170 400,166.7 403.9,164.4 402.8,160 397.2,154.4 393.9,150 388.3,149.2 383.3,150.8 378.3,153.3 371.7,155 365,155.8 359.2,154.2 354.2,152.5 350,149.2 345.8,145.8 343.3,141.7 340,138.3 343.3,133.3 345.8,128.3 347.5,123.3 345,118.3 341.7,117.5 335.8,116.7 330.8,113.3 326.7,108.3 322.5,103.3 317.5,100Z" fill="none" stroke="#000" stroke-width="1.6" stroke-linejoin="round"/>
<path d="M377.5,536.7 381.7,534.2 385.8,534.2 386.7,538.3 385.8,545 385,551.5 383.5,552.3 382.5,545 380,540.8Z" fill="#c8c8c8" stroke="#000" stroke-width="1.8" stroke-linejoin="round"/>
</svg>
<div id="title" class="t">Viet Nam</div>
<div class="t l" style="top:658px;font-weight:bold;letter-spacing:0.06px">Agricultural Stress Index (ASI)</div>
<div class="t l" style="top:688px">% of grassland area affected by severe drought</div>
<div class="t l" style="top:718px">per GAUL 2 region</div>
<div class="t l" style="top:748px;letter-spacing:-0.12px">from    : start of SEASON 1</div>
<div class="t l" style="top:778px">to      : dekad 3 July 2025</div>
<div class="t l" style="top:838px">METOP-AVHRR</div>
<div class="t l" style="top:868px">WGS84, Geographic Lat/Lon</div>
<div class="t" style="left:470px;top:652.6px;font-size:14px;font-weight:bold;text-decoration:underline;text-decoration-skip-ink:none;text-underline-offset:0.5px;text-decoration-thickness:1px">ASI (%)</div>
<div class="sw" style="top:671px;background:#33cc0a"></div><div class="lb" style="top:674px">&lt; 10</div>
<div class="sw" style="top:688px;background:#99e619"></div><div class="lb" style="top:691px">10 - 25</div>
<div class="sw" style="top:705px;background:#ffff33"></div><div class="lb" style="top:708px">25 - 40</div>
<div class="sw" style="top:722px;background:#ffbb22"></div><div class="lb" style="top:725px">40 - 55</div>
<div class="sw" style="top:739px;background:#ff7716"></div><div class="lb" style="top:742px">55 - 70</div>
<div class="sw" style="top:756px;background:#ff2b0b"></div><div class="lb" style="top:759px">70 - 85</div>
<div class="sw" style="top:773px;background:#be0000"></div><div class="lb" style="top:776px">&gt;= 85</div>
<div class="sw" style="top:801px;background:#6666ff"></div><div class="lb lb2" style="top:804px">off season</div>
<div class="sw" style="top:818px;background:#000"></div><div class="lb lb2" style="top:821px">no data</div>
<div class="sw" style="top:835px;background:#666"></div><div class="lb lb2" style="top:838px">no seasons</div>
<div class="sw" style="top:852px;background:#ccc"></div><div class="lb lb2" style="top:855px">no grassland</div>
<svg id="fao" width="900" height="950" viewBox="0 0 900 950" style="position:absolute;left:0;top:0;pointer-events:none" font-family="Liberation Sans, sans-serif" font-weight="bold">
<circle cx="701.2" cy="759.4" r="26.5" fill="#fff" stroke="#1a1a1a" stroke-width="3.2"/>
<g fill="none" stroke="#1a1a1a" stroke-width="1.45" stroke-linejoin="miter">
<polyline points="685.6,739.8 701.2,770 716.8,739.8"/>
<polyline points="688.2,739.8 701.2,765.4 714.2,739.8"/>
<polyline points="690.8,739.8 701.2,760.8 711.6,739.8"/>
</g>
<path d="M701.2 748.2c1.6 2 2.3 3.6 2.3 4.9 0 1.5-1 2.4-2.3 2.4s-2.3-.9-2.3-2.4c0-1.300.7-2.900 2.3-4.900z" fill="#1a1a1a"/>
<path d="M697.6 755.5l3.6 3.2 3.600-3.200 .700 3.800-4.300 4.200-4.300-4.200z" fill="#1a1a1a"/>
<path d="M696.2 761.500l5 5.200 5-5.200 .900 4.300-5.900 5.600-5.900-5.600z" fill="#1a1a1a"/>
<ellipse cx="701.2" cy="770.6" rx="6.500" ry="4.400" fill="#1a1a1a"/>
<line x1="701.2" y1="770" x2="701.2" y2="785" stroke="#1a1a1a" stroke-width="2"/>
<g fill="#1a1a1a" font-size="16.3" stroke="#1a1a1a" stroke-width="0.35">
<text x="679.7" y="760.7" textLength="7" lengthAdjust="spacingAndGlyphs">F</text>
<text x="696.5" y="748.3" textLength="9.6" lengthAdjust="spacingAndGlyphs">A</text>
<text x="714.1" y="760.9" textLength="9.8" lengthAdjust="spacingAndGlyphs">O</text>
</g>
<path id="arcL" d="M679.83 768.69A23.300 23.300 0 0 0 696.750 782.270" fill="none"/>
<path id="arcR" d="M705.410 782.320A23.300 23.300 0 0 0 723.360 766.600" fill="none"/>
<text font-size="6.600" fill="#1a1a1a"><textPath href="#arcL" textLength="22" lengthAdjust="spacing">FIAT</textPath></text>
<text font-size="6.600" fill="#1a1a1a"><textPath href="#arcR" textLength="24.500" lengthAdjust="spacing">PANIS</textPath></text>
<rect x="672.500" y="801.700" width="215" height="2" fill="#1a1a1a"/>
</svg>
<div class="t fa" style="left:739px;top:736.5px;transform:scaleX(.952)" id="fa1">Food and Agriculture</div>
<div class="t fa" style="left:739px;top:754px;transform:scaleX(.98)" id="fa2">Organization of the</div>
<div class="t fa" style="left:739px;top:772px;transform:scaleX(.974)" id="fa3">United Nations</div>
<div class="t gi" style="left:673px;top:815px;transform:scaleX(1.045)" id="gi1">Global Information and Early</div>
<div class="t gi" style="left:673px;top:833.7px;transform:scaleX(.985)" id="gi2">Warning System – GIEWS</div>
<div id="disc">Disclaimer: The boundaries and names shown and the designations used on this map do not imply the expression of any opinion whatsoever on the part of FAO
concerning the legal status of any country, territory, area or of its authorities, or concerning the delimitation of its frontiers and boundaries.</div>
</body></html>
